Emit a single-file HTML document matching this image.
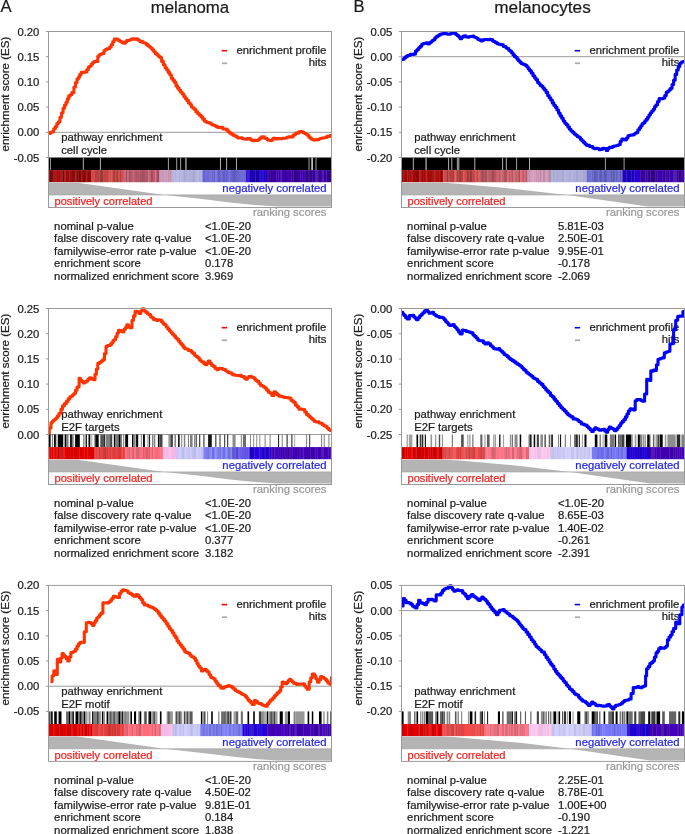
<!DOCTYPE html>
<html><head><meta charset="utf-8"><title>GSEA</title>
<style>html,body{margin:0;padding:0;background:#fff;} body{width:685px;height:834px;position:relative;overflow:hidden;font-family:"Liberation Sans", sans-serif;}</style>
</head><body>
<svg width="685" height="834" viewBox="0 0 685 834" style="position:absolute;left:0;top:0;will-change:transform" font-family="&quot;Liberation Sans&quot;, sans-serif"><text x="0.4" y="12.4" font-size="16.6" fill="#1a1a1a" stroke="#1a1a1a" stroke-width="0.22" text-anchor="start" >A</text><text x="190" y="12.5" font-size="16.8" fill="#1a1a1a" stroke="#1a1a1a" stroke-width="0.22" text-anchor="middle" >melanoma</text><text x="353.4" y="12.4" font-size="16.6" fill="#1a1a1a" stroke="#1a1a1a" stroke-width="0.22" text-anchor="start" >B</text><text x="542.5" y="12.5" font-size="17.2" fill="#1a1a1a" stroke="#1a1a1a" stroke-width="0.22" text-anchor="middle" >melanocytes</text><clipPath id="clipA1"><rect x="48.5" y="28.5" width="283" height="129"/></clipPath>
<text transform="translate(9.1,94.1) rotate(-90)" font-size="11.55" fill="#1a1a1a" stroke="#1a1a1a" stroke-width="0.22" text-anchor="middle">enrichment score (ES)</text>
<text x="39.4" y="35.5" font-size="11.3" fill="#1a1a1a" stroke="#1a1a1a" stroke-width="0.22" text-anchor="end" >0.20</text>
<line x1="45.9" y1="31.5" x2="48.5" y2="31.5" stroke="#9a9a9a" stroke-width="1"/>
<text x="39.4" y="60.7" font-size="11.3" fill="#1a1a1a" stroke="#1a1a1a" stroke-width="0.22" text-anchor="end" >0.15</text>
<line x1="45.9" y1="56.7" x2="48.5" y2="56.7" stroke="#9a9a9a" stroke-width="1"/>
<text x="39.4" y="85.9" font-size="11.3" fill="#1a1a1a" stroke="#1a1a1a" stroke-width="0.22" text-anchor="end" >0.10</text>
<line x1="45.9" y1="81.9" x2="48.5" y2="81.9" stroke="#9a9a9a" stroke-width="1"/>
<text x="39.4" y="111.1" font-size="11.3" fill="#1a1a1a" stroke="#1a1a1a" stroke-width="0.22" text-anchor="end" >0.05</text>
<line x1="45.9" y1="107.1" x2="48.5" y2="107.1" stroke="#9a9a9a" stroke-width="1"/>
<text x="39.4" y="136.3" font-size="11.3" fill="#1a1a1a" stroke="#1a1a1a" stroke-width="0.22" text-anchor="end" >0.00</text>
<line x1="45.9" y1="132.3" x2="48.5" y2="132.3" stroke="#9a9a9a" stroke-width="1"/>
<text x="39.4" y="161.5" font-size="11.3" fill="#1a1a1a" stroke="#1a1a1a" stroke-width="0.22" text-anchor="end" >-0.05</text>
<line x1="45.9" y1="157.5" x2="48.5" y2="157.5" stroke="#9a9a9a" stroke-width="1"/>
<line x1="48.5" y1="132.3" x2="331.5" y2="132.3" stroke="#9a9a9a" stroke-width="1"/>
<line x1="221.7" y1="50.7" x2="227.1" y2="50.7" stroke="#ff0000" stroke-width="1.6"/>
<line x1="221.9" y1="63.3" x2="227.1" y2="63.3" stroke="#aaaaaa" stroke-width="1.7"/>
<text x="326.3" y="53.6" font-size="11.3" fill="#1a1a1a" stroke="#1a1a1a" stroke-width="0.22" text-anchor="end" >enrichment profile</text>
<text x="326.3" y="65.6" font-size="11.3" fill="#1a1a1a" stroke="#1a1a1a" stroke-width="0.22" text-anchor="end" >hits</text>
<text x="61.2" y="141.4" font-size="11.3" fill="#1a1a1a" stroke="#1a1a1a" stroke-width="0.22" text-anchor="start" >pathway enrichment</text>
<text x="61.2" y="153.9" font-size="11.3" fill="#1a1a1a" stroke="#1a1a1a" stroke-width="0.22" text-anchor="start" >cell cycle</text>
<polyline points="48.5,132.3 49,132.3 49,133.34 50.55,133.34 50.55,132.2 52.1,132.2 52.1,131.77 53.7,131.77 53.7,128.74 55.3,128.74 55.3,126.52 56.85,126.52 56.85,123.45 58.4,123.45 58.4,121.68 59.95,121.68 59.95,117.22 61.5,117.22 61.5,112.69 63.05,112.69 63.05,108.31 64.6,108.31 64.6,104.94 65.97,104.94 65.97,102.23 67.33,102.23 67.33,98.9 68.7,98.9 68.7,95.91 70.25,95.91 70.25,94.73 71.8,94.73 71.8,92.59 73.9,92.59 73.9,86.96 75.45,86.96 75.45,82.46 77,82.46 77,78.95 78.4,78.95 78.4,77.1 79.8,77.1 79.8,74.37 81.2,74.37 81.2,72.37 82.57,72.37 82.57,72.54 83.93,72.54 83.93,72.08 85.3,72.08 85.3,71.92 86.85,71.92 86.85,69.52 88.4,69.52 88.4,67.03 89.8,67.03 89.8,66.02 91.2,66.02 91.2,64.14 92.6,64.14 92.6,62.47 93.97,62.47 93.97,61.6 95.33,61.6 95.33,61.24 96.7,61.24 96.7,61.57 97.8,61.57 97.8,56.33 99.17,56.33 99.17,54.8 100.53,54.8 100.53,54.08 101.9,54.08 101.9,53.43 104,53.43 104,50.46 105.37,50.46 105.37,49.52 106.73,49.52 106.73,48.9 108.1,48.9 108.1,48.72 109.65,48.72 109.65,47.06 111.2,47.06 111.2,44.48 112.75,44.48 112.75,41.48 114.3,41.48 114.3,38.94 116.4,38.94 116.4,39.1 117.95,39.1 117.95,40.18 119.5,40.18 119.5,41.11 120.9,41.11 120.9,41.68 122.3,41.68 122.3,42.64 123.7,42.64 123.7,43.22 125.25,43.22 125.25,41.86 126.8,41.86 126.8,40.38 128.17,40.38 128.17,40.37 129.53,40.37 129.53,40.06 130.9,40.06 130.9,39.15 132.63,39.15 132.63,38.91 134.37,38.91 134.37,39.22 136.1,39.22 136.1,38.88 137.47,38.88 137.47,39.63 138.83,39.63 138.83,40.46 140.2,40.46 140.2,41.8 141.6,41.8 141.6,41.66 143,41.66 143,42.79 144.4,42.79 144.4,43.01 146.13,43.01 146.13,44.39 147.87,44.39 147.87,46.05 149.6,46.05 149.6,46.94 150.97,46.94 150.97,48.3 152.33,48.3 152.33,49.83 153.7,49.83 153.7,51.56 155.25,51.56 155.25,53.39 156.8,53.39 156.8,54.84 158.35,54.84 158.35,56.21 159.9,56.21 159.9,57.53 161.63,57.53 161.63,61.38 163.37,61.38 163.37,64.7 165.1,64.7 165.1,67.76 166.65,67.76 166.65,69.91 168.2,69.91 168.2,72.4 169.75,72.4 169.75,74.72 171.3,74.72 171.3,78.19 172.88,78.19 172.88,80.21 174.45,80.21 174.45,82.42 176.03,82.42 176.03,85.89 177.6,85.89 177.6,88.15 179.15,88.15 179.15,90.32 180.7,90.32 180.7,92.19 182.25,92.19 182.25,93.94 183.8,93.94 183.8,96.6 185.35,96.6 185.35,98.6 186.9,98.6 186.9,100.41 188.45,100.41 188.45,102.89 190,102.89 190,104.18 191.37,104.18 191.37,106.69 192.73,106.69 192.73,108.05 194.1,108.05 194.1,109.31 195.83,109.31 195.83,111.77 197.57,111.77 197.57,113.53 199.3,113.53 199.3,115.22 201.03,115.22 201.03,116.91 202.77,116.91 202.77,119.14 204.5,119.14 204.5,121.21 206.05,121.21 206.05,122.09 207.6,122.09 207.6,122.57 209.15,122.57 209.15,123.05 210.7,123.05 210.7,124.04 212.43,124.04 212.43,124.96 214.17,124.96 214.17,125.54 215.9,125.54 215.9,126.58 217.63,126.58 217.63,127.34 219.37,127.34 219.37,127.45 221.1,127.45 221.1,127.39 222.83,127.39 222.83,128.95 224.57,128.95 224.57,129.05 226.3,129.05 226.3,129.9 228.03,129.9 228.03,131.72 229.77,131.72 229.77,133.13 231.5,133.13 231.5,134.26 233.2,134.26 233.2,135.17 234.9,135.17 234.9,136.12 236.6,136.12 236.6,137.06 238.06,137.06 238.06,138.02 239.52,138.02 239.52,138.02 240.98,138.02 240.98,137.84 242.44,137.84 242.44,138.8 243.9,138.8 243.9,138.95 245.63,138.95 245.63,139.17 247.37,139.17 247.37,138.58 249.1,138.58 249.1,138.64 250.65,138.64 250.65,139.83 252.2,139.83 252.2,140.6 253.93,140.6 253.93,140.26 255.67,140.26 255.67,140.56 257.4,140.56 257.4,140.12 258.77,140.12 258.77,139.12 260.13,139.12 260.13,137.92 261.5,137.92 261.5,136.75 262.9,136.75 262.9,136.84 264.3,136.84 264.3,138.32 265.7,138.32 265.7,138.4 267.07,138.4 267.07,139.53 268.43,139.53 268.43,140.25 269.8,140.25 269.8,140.5 271.35,140.5 271.35,139.96 272.9,139.96 272.9,138.28 274.45,138.28 274.45,138.31 276,138.31 276,138.96 277.55,138.96 277.55,138.52 279.1,138.52 279.1,138.7 280.68,138.7 280.68,138.59 282.25,138.59 282.25,138.24 283.82,138.24 283.82,138.3 285.4,138.3 285.4,138.01 286.95,138.01 286.95,137.18 288.5,137.18 288.5,136.75 290.05,136.75 290.05,136.85 291.6,136.85 291.6,137.03 292.97,137.03 292.97,135.17 294.33,135.17 294.33,134.55 295.7,134.55 295.7,133.05 297.25,133.05 297.25,133.15 298.8,133.15 298.8,131.85 300.35,131.85 300.35,131.6 301.9,131.6 301.9,131.77 303.3,131.77 303.3,132.78 304.7,132.78 304.7,133.55 306.1,133.55 306.1,134.26 307.47,134.26 307.47,135.29 308.83,135.29 308.83,137.14 310.2,137.14 310.2,138.2 311.6,138.2 311.6,139.23 313,139.23 313,139.83 314.4,139.83 314.4,139.99 315.95,139.99 315.95,139.51 317.5,139.51 317.5,139.62 319.05,139.62 319.05,138.71 320.6,138.71 320.6,138.27 322.15,138.27 322.15,138.07 323.7,138.07 323.7,137.79 325.25,137.79 325.25,137.43 326.8,137.43 326.8,136.34 328.37,136.34 328.37,136.38 329.93,136.38 329.93,135.51 331.5,135.51 331.5,135.6" fill="none" stroke="#ff3300" stroke-width="3.1" stroke-linejoin="round" stroke-linecap="butt" clip-path="url(#clipA1)"/>
<rect x="48.5" y="157.5" width="283" height="12.6" fill="#000"/>
<rect x="50" y="157.5" width="1" height="12.6" fill="#8a8a8a"/>
<rect x="82.8" y="157.5" width="1" height="12.6" fill="#b0b0b0"/>
<rect x="99.9" y="157.5" width="1" height="12.6" fill="#b0b0b0"/>
<rect x="167.9" y="157.5" width="1" height="12.6" fill="#a0a0a0"/>
<rect x="176.2" y="157.5" width="1" height="12.6" fill="#a0a0a0"/>
<rect x="180.1" y="157.5" width="1" height="12.6" fill="#a0a0a0"/>
<rect x="185.1" y="157.5" width="1.6" height="12.6" fill="#909090"/>
<rect x="220" y="157.5" width="1" height="12.6" fill="#b0b0b0"/>
<rect x="226.1" y="157.5" width="1" height="12.6" fill="#b0b0b0"/>
<rect x="236" y="157.5" width="1" height="12.6" fill="#a8a8a8"/>
<rect x="308.5" y="157.5" width="1" height="12.6" fill="#a0a0a0"/>
<rect x="311.4" y="157.5" width="1.4" height="12.6" fill="#e8e8e8"/>
<rect x="315.5" y="157.5" width="1" height="12.6" fill="#a0a0a0"/>
<rect x="48.5" y="170.1" width="1.1" height="12.1" fill="#800707"/>
<rect x="49.3" y="170.1" width="2.8" height="12.1" fill="#780707"/>
<rect x="51.8" y="170.1" width="1.8" height="12.1" fill="#980808"/>
<rect x="53.3" y="170.1" width="1.1" height="12.1" fill="#780707"/>
<rect x="54.1" y="170.1" width="1.5" height="12.1" fill="#a90909"/>
<rect x="55.3" y="170.1" width="1.1" height="12.1" fill="#810707"/>
<rect x="56.1" y="170.1" width="2.8" height="12.1" fill="#a90909"/>
<rect x="58.6" y="170.1" width="1.8" height="12.1" fill="#a80909"/>
<rect x="60.1" y="170.1" width="1.5" height="12.1" fill="#9e0909"/>
<rect x="61.3" y="170.1" width="1.3" height="12.1" fill="#8b0808"/>
<rect x="62.3" y="170.1" width="2.3" height="12.1" fill="#800707"/>
<rect x="64.3" y="170.1" width="1.3" height="12.1" fill="#930808"/>
<rect x="65.3" y="170.1" width="1.8" height="12.1" fill="#9f0909"/>
<rect x="66.8" y="170.1" width="2.8" height="12.1" fill="#a20909"/>
<rect x="69.3" y="170.1" width="1.8" height="12.1" fill="#a10909"/>
<rect x="70.8" y="170.1" width="1.1" height="12.1" fill="#820707"/>
<rect x="71.6" y="170.1" width="2.8" height="12.1" fill="#8d0808"/>
<rect x="74.1" y="170.1" width="1.5" height="12.1" fill="#7c0707"/>
<rect x="75.3" y="170.1" width="1.5" height="12.1" fill="#a10909"/>
<rect x="76.5" y="170.1" width="2.3" height="12.1" fill="#870707"/>
<rect x="78.5" y="170.1" width="1.8" height="12.1" fill="#7a0707"/>
<rect x="80" y="170.1" width="1.5" height="12.1" fill="#810707"/>
<rect x="81.2" y="170.1" width="2.8" height="12.1" fill="#9d0909"/>
<rect x="83.7" y="170.1" width="1.5" height="12.1" fill="#780707"/>
<rect x="84.9" y="170.1" width="1.8" height="12.1" fill="#9b0909"/>
<rect x="86.4" y="170.1" width="1.5" height="12.1" fill="#8b0808"/>
<rect x="87.6" y="170.1" width="2.8" height="12.1" fill="#940808"/>
<rect x="90.1" y="170.1" width="1.5" height="12.1" fill="#7e0707"/>
<rect x="91.3" y="170.1" width="1.8" height="12.1" fill="#d94a4a"/>
<rect x="92.8" y="170.1" width="1.5" height="12.1" fill="#d34848"/>
<rect x="94" y="170.1" width="1.3" height="12.1" fill="#dd4b4b"/>
<rect x="95" y="170.1" width="1.3" height="12.1" fill="#b53e3e"/>
<rect x="96" y="170.1" width="1.1" height="12.1" fill="#bd4040"/>
<rect x="96.8" y="170.1" width="1.5" height="12.1" fill="#b53e3e"/>
<rect x="98" y="170.1" width="1.8" height="12.1" fill="#bc4040"/>
<rect x="99.5" y="170.1" width="1.8" height="12.1" fill="#a63939"/>
<rect x="101" y="170.1" width="2.8" height="12.1" fill="#a23737"/>
<rect x="103.5" y="170.1" width="2.8" height="12.1" fill="#c24242"/>
<rect x="106" y="170.1" width="2.8" height="12.1" fill="#c74444"/>
<rect x="108.5" y="170.1" width="1.1" height="12.1" fill="#a73939"/>
<rect x="109.3" y="170.1" width="2.3" height="12.1" fill="#d94a4a"/>
<rect x="111.3" y="170.1" width="1.5" height="12.1" fill="#d64949"/>
<rect x="112.5" y="170.1" width="2.8" height="12.1" fill="#af3b3b"/>
<rect x="115" y="170.1" width="1.5" height="12.1" fill="#d04747"/>
<rect x="116.2" y="170.1" width="1.1" height="12.1" fill="#a03636"/>
<rect x="117" y="170.1" width="1.1" height="12.1" fill="#993434"/>
<rect x="117.8" y="170.1" width="1.8" height="12.1" fill="#dd4b4b"/>
<rect x="119.3" y="170.1" width="1.8" height="12.1" fill="#b23d3d"/>
<rect x="120.8" y="170.1" width="1.8" height="12.1" fill="#d84a4a"/>
<rect x="122.3" y="170.1" width="1.5" height="12.1" fill="#b23d3d"/>
<rect x="123.5" y="170.1" width="2.8" height="12.1" fill="#d06378"/>
<rect x="126" y="170.1" width="1.8" height="12.1" fill="#a44e5f"/>
<rect x="127.5" y="170.1" width="1.1" height="12.1" fill="#d9687d"/>
<rect x="128.3" y="170.1" width="2.8" height="12.1" fill="#aa5162"/>
<rect x="130.8" y="170.1" width="2.8" height="12.1" fill="#bc5a6c"/>
<rect x="133.3" y="170.1" width="2.8" height="12.1" fill="#bd5a6d"/>
<rect x="135.8" y="170.1" width="1.1" height="12.1" fill="#9a4958"/>
<rect x="136.6" y="170.1" width="2.8" height="12.1" fill="#b55668"/>
<rect x="139.1" y="170.1" width="2.8" height="12.1" fill="#ac5263"/>
<rect x="141.6" y="170.1" width="1.5" height="12.1" fill="#9b4a59"/>
<rect x="142.8" y="170.1" width="1.1" height="12.1" fill="#a85061"/>
<rect x="143.6" y="170.1" width="1.3" height="12.1" fill="#964856"/>
<rect x="144.6" y="170.1" width="1.3" height="12.1" fill="#a95161"/>
<rect x="145.6" y="170.1" width="2.8" height="12.1" fill="#b15466"/>
<rect x="148.1" y="170.1" width="1.5" height="12.1" fill="#dc697f"/>
<rect x="149.3" y="170.1" width="1.3" height="12.1" fill="#af5465"/>
<rect x="150.3" y="170.1" width="2.8" height="12.1" fill="#a24d5d"/>
<rect x="152.8" y="170.1" width="2.8" height="12.1" fill="#bd5a6d"/>
<rect x="155.3" y="170.1" width="1.1" height="12.1" fill="#d9687d"/>
<rect x="156.1" y="170.1" width="1.1" height="12.1" fill="#bc5a6d"/>
<rect x="156.9" y="170.1" width="2.8" height="12.1" fill="#9d4b5a"/>
<rect x="159.4" y="170.1" width="1.8" height="12.1" fill="#c898b8"/>
<rect x="160.9" y="170.1" width="1.1" height="12.1" fill="#d09ebf"/>
<rect x="161.7" y="170.1" width="2.3" height="12.1" fill="#c898b8"/>
<rect x="163.7" y="170.1" width="2.8" height="12.1" fill="#cf9dbe"/>
<rect x="166.2" y="170.1" width="1.1" height="12.1" fill="#be91af"/>
<rect x="167" y="170.1" width="1.3" height="12.1" fill="#d29fc1"/>
<rect x="168" y="170.1" width="1.5" height="12.1" fill="#c092b0"/>
<rect x="169.2" y="170.1" width="2.3" height="12.1" fill="#c092b0"/>
<rect x="171.2" y="170.1" width="1.5" height="12.1" fill="#c495b4"/>
<rect x="172.4" y="170.1" width="2.3" height="12.1" fill="#b4b4e2"/>
<rect x="174.4" y="170.1" width="2.3" height="12.1" fill="#b3b3e0"/>
<rect x="176.4" y="170.1" width="1.3" height="12.1" fill="#b1b1de"/>
<rect x="177.4" y="170.1" width="1.3" height="12.1" fill="#b2b2df"/>
<rect x="178.4" y="170.1" width="2.3" height="12.1" fill="#b0b0de"/>
<rect x="180.4" y="170.1" width="2.8" height="12.1" fill="#b5b5e3"/>
<rect x="182.9" y="170.1" width="1.5" height="12.1" fill="#b0b0dd"/>
<rect x="184.1" y="170.1" width="1.8" height="12.1" fill="#a4a4ce"/>
<rect x="185.6" y="170.1" width="2.8" height="12.1" fill="#b0b0dd"/>
<rect x="188.1" y="170.1" width="2.8" height="12.1" fill="#aeaeda"/>
<rect x="190.6" y="170.1" width="1.3" height="12.1" fill="#a8a8d3"/>
<rect x="191.6" y="170.1" width="1.5" height="12.1" fill="#adadd9"/>
<rect x="192.8" y="170.1" width="2.8" height="12.1" fill="#a6a6d0"/>
<rect x="195.3" y="170.1" width="1.1" height="12.1" fill="#aaaad6"/>
<rect x="196.1" y="170.1" width="1.5" height="12.1" fill="#adadd9"/>
<rect x="197.3" y="170.1" width="1.5" height="12.1" fill="#b3b3e0"/>
<rect x="198.5" y="170.1" width="1.8" height="12.1" fill="#aeaeda"/>
<rect x="200" y="170.1" width="2.8" height="12.1" fill="#b1b1df"/>
<rect x="202.5" y="170.1" width="2.8" height="12.1" fill="#6763ce"/>
<rect x="205" y="170.1" width="2.3" height="12.1" fill="#706bdf"/>
<rect x="207" y="170.1" width="2.8" height="12.1" fill="#6d68d9"/>
<rect x="209.5" y="170.1" width="1.3" height="12.1" fill="#6763cd"/>
<rect x="210.5" y="170.1" width="1.1" height="12.1" fill="#6864d0"/>
<rect x="211.3" y="170.1" width="2.3" height="12.1" fill="#6763cf"/>
<rect x="213.3" y="170.1" width="2.3" height="12.1" fill="#635fc6"/>
<rect x="215.3" y="170.1" width="1.5" height="12.1" fill="#736ee5"/>
<rect x="216.5" y="170.1" width="1.8" height="12.1" fill="#6c68d8"/>
<rect x="218" y="170.1" width="2.3" height="12.1" fill="#625ec3"/>
<rect x="220" y="170.1" width="1.8" height="12.1" fill="#6b67d6"/>
<rect x="221.5" y="170.1" width="1.1" height="12.1" fill="#605cc0"/>
<rect x="222.3" y="170.1" width="2.8" height="12.1" fill="#5f5bbd"/>
<rect x="224.8" y="170.1" width="1.5" height="12.1" fill="#6e69db"/>
<rect x="226" y="170.1" width="1.1" height="12.1" fill="#5f5bbd"/>
<rect x="226.8" y="170.1" width="2.8" height="12.1" fill="#6d69db"/>
<rect x="229.3" y="170.1" width="2.8" height="12.1" fill="#6b67d7"/>
<rect x="231.8" y="170.1" width="2.3" height="12.1" fill="#625ec3"/>
<rect x="233.8" y="170.1" width="1.5" height="12.1" fill="#5c59b8"/>
<rect x="235" y="170.1" width="2.3" height="12.1" fill="#6460c8"/>
<rect x="237" y="170.1" width="1.1" height="12.1" fill="#6b67d6"/>
<rect x="237.8" y="170.1" width="1.1" height="12.1" fill="#615ec3"/>
<rect x="238.6" y="170.1" width="2.8" height="12.1" fill="#6b67d5"/>
<rect x="241.1" y="170.1" width="1.1" height="12.1" fill="#6d69da"/>
<rect x="241.9" y="170.1" width="1.5" height="12.1" fill="#6c68d8"/>
<rect x="243.1" y="170.1" width="2.3" height="12.1" fill="#6a66d5"/>
<rect x="245.1" y="170.1" width="1.3" height="12.1" fill="#6460c8"/>
<rect x="246.1" y="170.1" width="1.5" height="12.1" fill="#2300d9"/>
<rect x="247.3" y="170.1" width="1.3" height="12.1" fill="#2500e5"/>
<rect x="248.3" y="170.1" width="1.5" height="12.1" fill="#2300d3"/>
<rect x="249.5" y="170.1" width="1.8" height="12.1" fill="#1b00a2"/>
<rect x="251" y="170.1" width="1.3" height="12.1" fill="#1f00c0"/>
<rect x="252" y="170.1" width="1.1" height="12.1" fill="#1d00b2"/>
<rect x="252.8" y="170.1" width="2.8" height="12.1" fill="#1e00b6"/>
<rect x="255.3" y="170.1" width="2.8" height="12.1" fill="#1b00a3"/>
<rect x="257.8" y="170.1" width="1.3" height="12.1" fill="#1a009e"/>
<rect x="258.8" y="170.1" width="1.1" height="12.1" fill="#1c00ae"/>
<rect x="259.6" y="170.1" width="1.3" height="12.1" fill="#2200cf"/>
<rect x="260.6" y="170.1" width="2.3" height="12.1" fill="#2500e4"/>
<rect x="262.6" y="170.1" width="1.3" height="12.1" fill="#2300d8"/>
<rect x="263.6" y="170.1" width="2.3" height="12.1" fill="#1f00bd"/>
<rect x="265.6" y="170.1" width="1.8" height="12.1" fill="#1b00a5"/>
<rect x="267.1" y="170.1" width="1.3" height="12.1" fill="#2000c5"/>
<rect x="268.1" y="170.1" width="2.8" height="12.1" fill="#3c00a1"/>
<rect x="270.6" y="170.1" width="1.5" height="12.1" fill="#310082"/>
<rect x="271.8" y="170.1" width="2.3" height="12.1" fill="#3f00a8"/>
<rect x="273.8" y="170.1" width="1.5" height="12.1" fill="#380094"/>
<rect x="275" y="170.1" width="1.5" height="12.1" fill="#3c00a1"/>
<rect x="276.2" y="170.1" width="2.3" height="12.1" fill="#3e00a5"/>
<rect x="278.2" y="170.1" width="2.3" height="12.1" fill="#4100ad"/>
<rect x="280.2" y="170.1" width="1.5" height="12.1" fill="#3e00a4"/>
<rect x="281.4" y="170.1" width="1.8" height="12.1" fill="#4600ba"/>
<rect x="282.9" y="170.1" width="1.1" height="12.1" fill="#3b009d"/>
<rect x="283.7" y="170.1" width="1.3" height="12.1" fill="#4000aa"/>
<rect x="284.7" y="170.1" width="1.3" height="12.1" fill="#370093"/>
<rect x="285.7" y="170.1" width="1.3" height="12.1" fill="#390098"/>
<rect x="286.7" y="170.1" width="2.3" height="12.1" fill="#4500b7"/>
<rect x="288.7" y="170.1" width="2.8" height="12.1" fill="#4000a9"/>
<rect x="291.2" y="170.1" width="1.1" height="12.1" fill="#4000aa"/>
<rect x="292" y="170.1" width="1.5" height="12.1" fill="#370093"/>
<rect x="293.2" y="170.1" width="1.8" height="12.1" fill="#330088"/>
<rect x="294.7" y="170.1" width="1.5" height="12.1" fill="#320084"/>
<rect x="295.9" y="170.1" width="1.1" height="12.1" fill="#3e00a5"/>
<rect x="296.7" y="170.1" width="1.5" height="12.1" fill="#34008b"/>
<rect x="297.9" y="170.1" width="1.3" height="12.1" fill="#3a009b"/>
<rect x="298.9" y="170.1" width="1.5" height="12.1" fill="#3c00a0"/>
<rect x="300.1" y="170.1" width="2.3" height="12.1" fill="#4300b4"/>
<rect x="302.1" y="170.1" width="2.8" height="12.1" fill="#4100af"/>
<rect x="304.6" y="170.1" width="1.3" height="12.1" fill="#330088"/>
<rect x="305.6" y="170.1" width="2.8" height="12.1" fill="#360091"/>
<rect x="308.1" y="170.1" width="1.8" height="12.1" fill="#360091"/>
<rect x="309.6" y="170.1" width="2.8" height="12.1" fill="#34008c"/>
<rect x="312.1" y="170.1" width="1.1" height="12.1" fill="#4200b0"/>
<rect x="312.9" y="170.1" width="2.8" height="12.1" fill="#35008c"/>
<rect x="315.4" y="170.1" width="1.3" height="12.1" fill="#4700bf"/>
<rect x="316.4" y="170.1" width="1.3" height="12.1" fill="#4200b1"/>
<rect x="317.4" y="170.1" width="1.1" height="12.1" fill="#34008c"/>
<rect x="318.2" y="170.1" width="1.1" height="12.1" fill="#320085"/>
<rect x="319" y="170.1" width="1.3" height="12.1" fill="#380095"/>
<rect x="320" y="170.1" width="1.3" height="12.1" fill="#380095"/>
<rect x="321" y="170.1" width="1.8" height="12.1" fill="#4600b9"/>
<rect x="322.5" y="170.1" width="1.3" height="12.1" fill="#4600bc"/>
<rect x="323.5" y="170.1" width="1.8" height="12.1" fill="#330089"/>
<rect x="325" y="170.1" width="1.5" height="12.1" fill="#360091"/>
<rect x="326.2" y="170.1" width="1.1" height="12.1" fill="#4300b2"/>
<rect x="327" y="170.1" width="1.3" height="12.1" fill="#310084"/>
<rect x="328" y="170.1" width="2.3" height="12.1" fill="#35008c"/>
<rect x="330" y="170.1" width="1.8" height="12.1" fill="#380095"/>
<polygon points="48.5,194.9 48.5,182.7 77.5,182.7 164.5,194.9 200,198.8 232,202.7 255,205.1 278,206.5 331.5,206.5 331.5,194.9" fill="#b4b4b4"/>
<line x1="48.5" y1="194.9" x2="331.5" y2="194.9" stroke="#a8a8a8" stroke-width="0.8"/>
<text x="326.6" y="192" font-size="11.3" fill="#2222ee" stroke="#2222ee" stroke-width="0.22" text-anchor="end" >negatively correlated</text>
<text x="54.5" y="204.9" font-size="11.1" fill="#f41c1c" stroke="#f41c1c" stroke-width="0.22" text-anchor="start" >positively correlated</text>
<text x="326.4" y="216.4" font-size="11.3" fill="#999999" stroke="#999999" stroke-width="0.22" text-anchor="end" >ranking scores</text>
<rect x="48.5" y="31.5" width="283" height="176" fill="none" stroke="#9a9a9a" stroke-width="1"/>
<text x="54.1" y="229.9" font-size="11.3" fill="#1a1a1a" stroke="#1a1a1a" stroke-width="0.22" text-anchor="start" >nominal p-value</text>
<text x="204.9" y="229.9" font-size="11.3" fill="#1a1a1a" stroke="#1a1a1a" stroke-width="0.22" text-anchor="start" >&lt;1.0E-20</text>
<text x="54.1" y="242.35" font-size="11.3" fill="#1a1a1a" stroke="#1a1a1a" stroke-width="0.22" text-anchor="start" >false discovery rate q-value</text>
<text x="204.9" y="242.35" font-size="11.3" fill="#1a1a1a" stroke="#1a1a1a" stroke-width="0.22" text-anchor="start" >&lt;1.0E-20</text>
<text x="54.1" y="254.8" font-size="11.3" fill="#1a1a1a" stroke="#1a1a1a" stroke-width="0.22" text-anchor="start" >familywise-error rate p-value</text>
<text x="204.9" y="254.8" font-size="11.3" fill="#1a1a1a" stroke="#1a1a1a" stroke-width="0.22" text-anchor="start" >&lt;1.0E-20</text>
<text x="54.1" y="267.25" font-size="11.3" fill="#1a1a1a" stroke="#1a1a1a" stroke-width="0.22" text-anchor="start" >enrichment score</text>
<text x="204.9" y="267.25" font-size="11.3" fill="#1a1a1a" stroke="#1a1a1a" stroke-width="0.22" text-anchor="start" >0.178</text>
<text x="54.1" y="279.7" font-size="11.3" fill="#1a1a1a" stroke="#1a1a1a" stroke-width="0.22" text-anchor="start" >normalized enrichment score</text>
<text x="204.9" y="279.7" font-size="11.3" fill="#1a1a1a" stroke="#1a1a1a" stroke-width="0.22" text-anchor="start" >3.969</text><clipPath id="clipB1"><rect x="401.5" y="28.5" width="283" height="129"/></clipPath>
<text transform="translate(362.1,94.1) rotate(-90)" font-size="11.55" fill="#1a1a1a" stroke="#1a1a1a" stroke-width="0.22" text-anchor="middle">enrichment score (ES)</text>
<text x="392.4" y="35.5" font-size="11.3" fill="#1a1a1a" stroke="#1a1a1a" stroke-width="0.22" text-anchor="end" >0.05</text>
<line x1="398.9" y1="31.5" x2="401.5" y2="31.5" stroke="#9a9a9a" stroke-width="1"/>
<text x="392.4" y="60.7" font-size="11.3" fill="#1a1a1a" stroke="#1a1a1a" stroke-width="0.22" text-anchor="end" >0.00</text>
<line x1="398.9" y1="56.7" x2="401.5" y2="56.7" stroke="#9a9a9a" stroke-width="1"/>
<text x="392.4" y="85.9" font-size="11.3" fill="#1a1a1a" stroke="#1a1a1a" stroke-width="0.22" text-anchor="end" >-0.05</text>
<line x1="398.9" y1="81.9" x2="401.5" y2="81.9" stroke="#9a9a9a" stroke-width="1"/>
<text x="392.4" y="111.1" font-size="11.3" fill="#1a1a1a" stroke="#1a1a1a" stroke-width="0.22" text-anchor="end" >-0.10</text>
<line x1="398.9" y1="107.1" x2="401.5" y2="107.1" stroke="#9a9a9a" stroke-width="1"/>
<text x="392.4" y="136.3" font-size="11.3" fill="#1a1a1a" stroke="#1a1a1a" stroke-width="0.22" text-anchor="end" >-0.15</text>
<line x1="398.9" y1="132.3" x2="401.5" y2="132.3" stroke="#9a9a9a" stroke-width="1"/>
<text x="392.4" y="161.5" font-size="11.3" fill="#1a1a1a" stroke="#1a1a1a" stroke-width="0.22" text-anchor="end" >-0.20</text>
<line x1="398.9" y1="157.5" x2="401.5" y2="157.5" stroke="#9a9a9a" stroke-width="1"/>
<line x1="401.5" y1="56.7" x2="684.5" y2="56.7" stroke="#9a9a9a" stroke-width="1"/>
<line x1="574.7" y1="50.7" x2="580.1" y2="50.7" stroke="#0000ff" stroke-width="1.6"/>
<line x1="574.9" y1="63.3" x2="580.1" y2="63.3" stroke="#aaaaaa" stroke-width="1.7"/>
<text x="679.3" y="53.6" font-size="11.3" fill="#1a1a1a" stroke="#1a1a1a" stroke-width="0.22" text-anchor="end" >enrichment profile</text>
<text x="679.3" y="65.6" font-size="11.3" fill="#1a1a1a" stroke="#1a1a1a" stroke-width="0.22" text-anchor="end" >hits</text>
<text x="414.2" y="141.4" font-size="11.3" fill="#1a1a1a" stroke="#1a1a1a" stroke-width="0.22" text-anchor="start" >pathway enrichment</text>
<text x="414.2" y="153.9" font-size="11.3" fill="#1a1a1a" stroke="#1a1a1a" stroke-width="0.22" text-anchor="start" >cell cycle</text>
<polyline points="401.5,59.5 402.8,59.5 402.8,59.2 404.1,59.2 404.1,57.8 405.65,57.8 405.65,56.66 407.2,56.66 407.2,55.61 408.75,55.61 408.75,55.2 410.3,55.2 410.3,54.26 411.85,54.26 411.85,54.39 413.4,54.39 413.4,54.08 415.5,54.08 415.5,50.94 417.05,50.94 417.05,49.44 418.6,49.44 418.6,47.68 420.15,47.68 420.15,46.2 421.7,46.2 421.7,44.24 423.1,44.24 423.1,43.44 424.5,43.44 424.5,43.57 425.9,43.57 425.9,42.8 428,42.8 428,43.96 429.37,43.96 429.37,42.87 430.73,42.87 430.73,41.85 432.1,41.85 432.1,40.57 433.47,40.57 433.47,39.74 434.83,39.74 434.83,37.86 436.2,37.86 436.2,36.67 437.6,36.67 437.6,35.75 439,35.75 439,34.92 440.4,34.92 440.4,33.93 441.77,33.93 441.77,33.9 443.13,33.9 443.13,33.33 444.5,33.33 444.5,33.41 446.05,33.41 446.05,33.73 447.6,33.73 447.6,34.31 449,34.31 449,34.14 450.4,34.14 450.4,33.52 451.8,33.52 451.8,32.81 453.17,32.81 453.17,33.23 454.53,33.23 454.53,33.4 455.9,33.4 455.9,34.54 457.3,34.54 457.3,35.51 458.7,35.51 458.7,36.87 460.1,36.87 460.1,38.76 461.65,38.76 461.65,37.13 463.2,37.13 463.2,36.1 464.57,36.1 464.57,35.85 465.93,35.85 465.93,36.69 467.3,36.69 467.3,37.15 469.03,37.15 469.03,36.55 470.77,36.55 470.77,36.51 472.5,36.51 472.5,35.97 473.9,35.97 473.9,36.95 475.3,36.95 475.3,37.51 476.7,37.51 476.7,38.21 478.07,38.21 478.07,39.5 479.43,39.5 479.43,39.88 480.8,39.88 480.8,40.83 482.53,40.83 482.53,39.9 484.27,39.9 484.27,39.49 486,39.49 486,39.44 487.73,39.44 487.73,39.69 489.47,39.69 489.47,39.36 491.2,39.36 491.2,39.58 492.57,39.58 492.57,41.07 493.93,41.07 493.93,41.46 495.3,41.46 495.3,42.54 497.03,42.54 497.03,43.78 498.77,43.78 498.77,44.22 500.5,44.22 500.5,44.6 501.9,44.6 501.9,44.82 503.3,44.82 503.3,46.34 504.7,46.34 504.7,46.58 506.07,46.58 506.07,48.04 507.43,48.04 507.43,48.56 508.8,48.56 508.8,50.25 510.17,50.25 510.17,51.17 511.53,51.17 511.53,52.76 512.9,52.76 512.9,54.59 514.3,54.59 514.3,56.4 515.7,56.4 515.7,57.27 517.1,57.27 517.1,59.27 518.47,59.27 518.47,60.79 519.83,60.79 519.83,62.14 521.2,62.14 521.2,63.54 522.6,63.54 522.6,64.08 524,64.08 524,64.61 525.4,64.61 525.4,65.33 526.77,65.33 526.77,66.8 528.13,66.8 528.13,68.81 529.5,68.81 529.5,70.59 531.23,70.59 531.23,72.93 532.97,72.93 532.97,75.76 534.7,75.76 534.7,78.09 536.1,78.09 536.1,79.67 537.5,79.67 537.5,82.33 538.9,82.33 538.9,83.83 540.27,83.83 540.27,85.38 541.63,85.38 541.63,86.34 543,86.34 543,88.28 544.55,88.28 544.55,89.98 546.1,89.98 546.1,92.4 547.65,92.4 547.65,95.45 549.2,95.45 549.2,97.82 550.75,97.82 550.75,100.02 552.3,100.02 552.3,102.9 553.85,102.9 553.85,105.19 555.4,105.19 555.4,107.33 556.98,107.33 556.98,110.04 558.55,110.04 558.55,113.11 560.12,113.11 560.12,115.9 561.7,115.9 561.7,118.19 563.25,118.19 563.25,120.96 564.8,120.96 564.8,123.27 566.35,123.27 566.35,124.7 567.9,124.7 567.9,127.09 569.45,127.09 569.45,129.22 571,129.22 571,131.04 572.55,131.04 572.55,132.23 574.1,132.23 574.1,133.96 575.65,133.96 575.65,135.1 577.2,135.1 577.2,136.45 578.75,136.45 578.75,137.18 580.3,137.18 580.3,139.24 581.85,139.24 581.85,140.77 583.4,140.77 583.4,142.35 584.95,142.35 584.95,144.02 586.5,144.02 586.5,145.33 588.08,145.33 588.08,145.4 589.65,145.4 589.65,146.53 591.22,146.53 591.22,146.64 592.8,146.64 592.8,148.04 594.35,148.04 594.35,148.62 595.9,148.62 595.9,148.28 597.45,148.28 597.45,148.54 599,148.54 599,149.62 600.73,149.62 600.73,149.34 602.47,149.34 602.47,148.31 604.2,148.31 604.2,148.52 606.2,148.52 606.2,150.54 607.75,150.54 607.75,148.33 609.3,148.33 609.3,147.31 610.88,147.31 610.88,147.42 612.45,147.42 612.45,146.57 614.02,146.57 614.02,145.96 615.6,145.96 615.6,145.71 617.15,145.71 617.15,145.29 618.7,145.29 618.7,144.56 620.25,144.56 620.25,141.19 621.8,141.19 621.8,139.06 623.35,139.06 623.35,139.42 624.9,139.42 624.9,139.87 626.45,139.87 626.45,138 628,138 628,135.71 629.37,135.71 629.37,135.3 630.73,135.3 630.73,135.09 632.1,135.09 632.1,135.05 633.5,135.05 633.5,134.21 634.9,134.21 634.9,133.19 636.3,133.19 636.3,132.55 637.85,132.55 637.85,129.68 639.4,129.68 639.4,127.84 640.77,127.84 640.77,125.71 642.13,125.71 642.13,123.67 643.5,123.67 643.5,122.74 644.9,122.74 644.9,120.68 646.3,120.68 646.3,119.16 647.7,119.16 647.7,117.01 649.07,117.01 649.07,114.77 650.43,114.77 650.43,112.69 651.8,112.69 651.8,111.04 653.2,111.04 653.2,109.29 654.6,109.29 654.6,106.56 656,106.56 656,104.69 657.55,104.69 657.55,101.58 659.1,101.58 659.1,98.6 660.47,98.6 660.47,98.82 661.83,98.82 661.83,98.63 663.2,98.63 663.2,98.01 664.75,98.01 664.75,95.58 666.3,95.58 666.3,92.25 667.7,92.25 667.7,91.32 669.1,91.32 669.1,89.82 670.5,89.82 670.5,88.37 672.05,88.37 672.05,84.44 673.6,84.44 673.6,80.16 675.15,80.16 675.15,74.39 676.7,74.39 676.7,69.95 678.25,69.95 678.25,66.45 679.8,66.45 679.8,63.24 681.37,63.24 681.37,62 682.93,62 682.93,61.46 684.5,61.46 684.5,60.1" fill="none" stroke="#0000ff" stroke-width="3.1" stroke-linejoin="round" stroke-linecap="butt" clip-path="url(#clipB1)"/>
<rect x="401.5" y="157.5" width="283" height="12.6" fill="#000"/>
<rect x="412.8" y="157.5" width="1" height="12.6" fill="#b0b0b0"/>
<rect x="425.3" y="157.5" width="1.6" height="12.6" fill="#8a8a8a"/>
<rect x="448.1" y="157.5" width="1" height="12.6" fill="#b0b0b0"/>
<rect x="451.3" y="157.5" width="1" height="12.6" fill="#b0b0b0"/>
<rect x="456.8" y="157.5" width="2.6" height="12.6" fill="#8a8a8a"/>
<rect x="474.3" y="157.5" width="1" height="12.6" fill="#b0b0b0"/>
<rect x="502.1" y="157.5" width="1" height="12.6" fill="#b0b0b0"/>
<rect x="505.8" y="157.5" width="1" height="12.6" fill="#b0b0b0"/>
<rect x="516.1" y="157.5" width="1" height="12.6" fill="#a0a0a0"/>
<rect x="529" y="157.5" width="1" height="12.6" fill="#b0b0b0"/>
<rect x="604.9" y="157.5" width="1" height="12.6" fill="#a0a0a0"/>
<rect x="623.6" y="157.5" width="1" height="12.6" fill="#a0a0a0"/>
<rect x="401.5" y="170.1" width="1.5" height="12.1" fill="#a70a0a"/>
<rect x="402.7" y="170.1" width="1.1" height="12.1" fill="#8d0909"/>
<rect x="403.5" y="170.1" width="2.8" height="12.1" fill="#9f0a0a"/>
<rect x="406" y="170.1" width="1.5" height="12.1" fill="#a10a0a"/>
<rect x="407.2" y="170.1" width="1.1" height="12.1" fill="#a90b0b"/>
<rect x="408" y="170.1" width="1.5" height="12.1" fill="#a90b0b"/>
<rect x="409.2" y="170.1" width="1.1" height="12.1" fill="#8c0909"/>
<rect x="410" y="170.1" width="2.8" height="12.1" fill="#b80c0c"/>
<rect x="412.5" y="170.1" width="2.8" height="12.1" fill="#950909"/>
<rect x="415" y="170.1" width="1.1" height="12.1" fill="#a60a0a"/>
<rect x="415.8" y="170.1" width="2.3" height="12.1" fill="#8f0909"/>
<rect x="417.8" y="170.1" width="1.8" height="12.1" fill="#8b0909"/>
<rect x="419.3" y="170.1" width="1.5" height="12.1" fill="#ba0c0c"/>
<rect x="420.5" y="170.1" width="1.8" height="12.1" fill="#b60b0b"/>
<rect x="422" y="170.1" width="1.1" height="12.1" fill="#970909"/>
<rect x="422.8" y="170.1" width="1.1" height="12.1" fill="#a40a0a"/>
<rect x="423.6" y="170.1" width="1.8" height="12.1" fill="#9d0a0a"/>
<rect x="425.1" y="170.1" width="1.5" height="12.1" fill="#a50a0a"/>
<rect x="426.3" y="170.1" width="1.8" height="12.1" fill="#b80b0b"/>
<rect x="427.8" y="170.1" width="1.3" height="12.1" fill="#a50a0a"/>
<rect x="428.8" y="170.1" width="2.3" height="12.1" fill="#a40a0a"/>
<rect x="430.8" y="170.1" width="1.5" height="12.1" fill="#a80a0a"/>
<rect x="432" y="170.1" width="1.5" height="12.1" fill="#b80c0c"/>
<rect x="433.2" y="170.1" width="1.5" height="12.1" fill="#8b0909"/>
<rect x="434.4" y="170.1" width="1.5" height="12.1" fill="#b40b0b"/>
<rect x="435.6" y="170.1" width="1.3" height="12.1" fill="#8f0909"/>
<rect x="436.6" y="170.1" width="2.8" height="12.1" fill="#b30b0b"/>
<rect x="439.1" y="170.1" width="1.1" height="12.1" fill="#b00b0b"/>
<rect x="439.9" y="170.1" width="1.1" height="12.1" fill="#bf0c0c"/>
<rect x="440.7" y="170.1" width="2.3" height="12.1" fill="#830808"/>
<rect x="442.7" y="170.1" width="1.1" height="12.1" fill="#c14343"/>
<rect x="443.5" y="170.1" width="1.8" height="12.1" fill="#d84b4b"/>
<rect x="445" y="170.1" width="1.8" height="12.1" fill="#cd4747"/>
<rect x="446.5" y="170.1" width="1.5" height="12.1" fill="#9f3737"/>
<rect x="447.7" y="170.1" width="1.1" height="12.1" fill="#a73a3a"/>
<rect x="448.5" y="170.1" width="1.8" height="12.1" fill="#c34444"/>
<rect x="450" y="170.1" width="2.3" height="12.1" fill="#b63f3f"/>
<rect x="452" y="170.1" width="1.1" height="12.1" fill="#bc4141"/>
<rect x="452.8" y="170.1" width="1.8" height="12.1" fill="#ac3c3c"/>
<rect x="454.3" y="170.1" width="1.3" height="12.1" fill="#d34949"/>
<rect x="455.3" y="170.1" width="1.3" height="12.1" fill="#e95151"/>
<rect x="456.3" y="170.1" width="2.3" height="12.1" fill="#ac3c3c"/>
<rect x="458.3" y="170.1" width="2.8" height="12.1" fill="#a53939"/>
<rect x="460.8" y="170.1" width="2.8" height="12.1" fill="#b84040"/>
<rect x="463.3" y="170.1" width="1.8" height="12.1" fill="#e14e4e"/>
<rect x="464.8" y="170.1" width="1.8" height="12.1" fill="#d04848"/>
<rect x="466.3" y="170.1" width="2.8" height="12.1" fill="#a63a3a"/>
<rect x="468.8" y="170.1" width="1.1" height="12.1" fill="#c64545"/>
<rect x="469.6" y="170.1" width="2.8" height="12.1" fill="#9e3737"/>
<rect x="472.1" y="170.1" width="2.3" height="12.1" fill="#c14343"/>
<rect x="474.1" y="170.1" width="1.3" height="12.1" fill="#bd4242"/>
<rect x="475.1" y="170.1" width="1.5" height="12.1" fill="#e75050"/>
<rect x="476.3" y="170.1" width="1.1" height="12.1" fill="#bd4141"/>
<rect x="477.1" y="170.1" width="1.5" height="12.1" fill="#ae3c3c"/>
<rect x="478.3" y="170.1" width="1.5" height="12.1" fill="#eb5151"/>
<rect x="479.5" y="170.1" width="1.3" height="12.1" fill="#c74545"/>
<rect x="480.5" y="170.1" width="1.5" height="12.1" fill="#b5555e"/>
<rect x="481.7" y="170.1" width="2.8" height="12.1" fill="#a54d56"/>
<rect x="484.2" y="170.1" width="2.8" height="12.1" fill="#a64e56"/>
<rect x="486.7" y="170.1" width="1.1" height="12.1" fill="#b4545e"/>
<rect x="487.5" y="170.1" width="1.3" height="12.1" fill="#cb5f6a"/>
<rect x="488.5" y="170.1" width="1.3" height="12.1" fill="#98474f"/>
<rect x="489.5" y="170.1" width="2.8" height="12.1" fill="#b95760"/>
<rect x="492" y="170.1" width="2.3" height="12.1" fill="#a04b53"/>
<rect x="494" y="170.1" width="2.3" height="12.1" fill="#b6555f"/>
<rect x="496" y="170.1" width="1.8" height="12.1" fill="#cc5f6a"/>
<rect x="497.5" y="170.1" width="1.3" height="12.1" fill="#b4545e"/>
<rect x="498.5" y="170.1" width="1.5" height="12.1" fill="#c75d67"/>
<rect x="499.7" y="170.1" width="1.1" height="12.1" fill="#a54d56"/>
<rect x="500.5" y="170.1" width="1.1" height="12.1" fill="#d1626d"/>
<rect x="501.3" y="170.1" width="2.3" height="12.1" fill="#cd606b"/>
<rect x="503.3" y="170.1" width="2.8" height="12.1" fill="#ad515a"/>
<rect x="505.8" y="170.1" width="1.8" height="12.1" fill="#b2535d"/>
<rect x="507.3" y="170.1" width="1.5" height="12.1" fill="#ca5e69"/>
<rect x="508.5" y="170.1" width="1.5" height="12.1" fill="#d0616c"/>
<rect x="509.7" y="170.1" width="1.1" height="12.1" fill="#98474f"/>
<rect x="510.5" y="170.1" width="1.5" height="12.1" fill="#e16975"/>
<rect x="511.7" y="170.1" width="1.3" height="12.1" fill="#a64e57"/>
<rect x="512.7" y="170.1" width="1.1" height="12.1" fill="#df6974"/>
<rect x="513.5" y="170.1" width="1.1" height="12.1" fill="#c35b65"/>
<rect x="514.3" y="170.1" width="1.1" height="12.1" fill="#cb5f6a"/>
<rect x="515.1" y="170.1" width="2.8" height="12.1" fill="#c45c66"/>
<rect x="517.6" y="170.1" width="1.3" height="12.1" fill="#d1626d"/>
<rect x="518.6" y="170.1" width="1.8" height="12.1" fill="#a14b54"/>
<rect x="520.1" y="170.1" width="1.8" height="12.1" fill="#e16a75"/>
<rect x="521.6" y="170.1" width="1.8" height="12.1" fill="#ce606b"/>
<rect x="523.1" y="170.1" width="1.5" height="12.1" fill="#b3545d"/>
<rect x="524.3" y="170.1" width="1.8" height="12.1" fill="#d1626d"/>
<rect x="525.8" y="170.1" width="1.5" height="12.1" fill="#c35b65"/>
<rect x="527" y="170.1" width="1.5" height="12.1" fill="#c08aa9"/>
<rect x="528.2" y="170.1" width="2.3" height="12.1" fill="#c48dac"/>
<rect x="530.2" y="170.1" width="1.1" height="12.1" fill="#c991b1"/>
<rect x="531" y="170.1" width="2.8" height="12.1" fill="#da9dc0"/>
<rect x="533.5" y="170.1" width="2.3" height="12.1" fill="#d599bb"/>
<rect x="535.5" y="170.1" width="2.3" height="12.1" fill="#cb92b2"/>
<rect x="537.5" y="170.1" width="1.5" height="12.1" fill="#c68fae"/>
<rect x="538.7" y="170.1" width="1.5" height="12.1" fill="#d89cbe"/>
<rect x="539.9" y="170.1" width="1.8" height="12.1" fill="#ba86a4"/>
<rect x="541.4" y="170.1" width="1.1" height="12.1" fill="#c790b0"/>
<rect x="542.2" y="170.1" width="1.1" height="12.1" fill="#d69abc"/>
<rect x="543" y="170.1" width="1.1" height="12.1" fill="#bd88a6"/>
<rect x="543.8" y="170.1" width="1.5" height="12.1" fill="#be89a7"/>
<rect x="545" y="170.1" width="1.5" height="12.1" fill="#d398b9"/>
<rect x="546.2" y="170.1" width="2.3" height="12.1" fill="#d197b8"/>
<rect x="548.2" y="170.1" width="2.8" height="12.1" fill="#b885a2"/>
<rect x="550.7" y="170.1" width="1.1" height="12.1" fill="#a6a6d1"/>
<rect x="551.5" y="170.1" width="1.3" height="12.1" fill="#aeaedb"/>
<rect x="552.5" y="170.1" width="1.8" height="12.1" fill="#a9a9d4"/>
<rect x="554" y="170.1" width="1.5" height="12.1" fill="#adadd9"/>
<rect x="555.2" y="170.1" width="1.3" height="12.1" fill="#a9a9d4"/>
<rect x="556.2" y="170.1" width="1.8" height="12.1" fill="#a6a6d1"/>
<rect x="557.7" y="170.1" width="1.3" height="12.1" fill="#aeaeda"/>
<rect x="558.7" y="170.1" width="2.3" height="12.1" fill="#afafdc"/>
<rect x="560.7" y="170.1" width="1.1" height="12.1" fill="#b1b1de"/>
<rect x="561.5" y="170.1" width="2.3" height="12.1" fill="#a4a4ce"/>
<rect x="563.5" y="170.1" width="1.3" height="12.1" fill="#a5a5d0"/>
<rect x="564.5" y="170.1" width="1.1" height="12.1" fill="#aeaeda"/>
<rect x="565.3" y="170.1" width="2.3" height="12.1" fill="#b0b0dd"/>
<rect x="567.3" y="170.1" width="1.1" height="12.1" fill="#a5a5d0"/>
<rect x="568.1" y="170.1" width="1.1" height="12.1" fill="#adadda"/>
<rect x="568.9" y="170.1" width="2.8" height="12.1" fill="#acacd8"/>
<rect x="571.4" y="170.1" width="1.8" height="12.1" fill="#b0b0dd"/>
<rect x="572.9" y="170.1" width="1.3" height="12.1" fill="#b3b3e1"/>
<rect x="573.9" y="170.1" width="1.1" height="12.1" fill="#ababd7"/>
<rect x="574.7" y="170.1" width="1.1" height="12.1" fill="#ababd6"/>
<rect x="575.5" y="170.1" width="2.8" height="12.1" fill="#a6a6d1"/>
<rect x="578" y="170.1" width="1.1" height="12.1" fill="#adadd9"/>
<rect x="578.8" y="170.1" width="1.3" height="12.1" fill="#b0b0dd"/>
<rect x="579.8" y="170.1" width="2.8" height="12.1" fill="#acacd8"/>
<rect x="582.3" y="170.1" width="2.8" height="12.1" fill="#a6a6d0"/>
<rect x="584.8" y="170.1" width="2.3" height="12.1" fill="#a9a9d5"/>
<rect x="586.8" y="170.1" width="1.3" height="12.1" fill="#6363c6"/>
<rect x="587.8" y="170.1" width="2.3" height="12.1" fill="#6e6edb"/>
<rect x="589.8" y="170.1" width="1.8" height="12.1" fill="#6d6dda"/>
<rect x="591.3" y="170.1" width="2.3" height="12.1" fill="#6565cb"/>
<rect x="593.3" y="170.1" width="2.8" height="12.1" fill="#5a5ab4"/>
<rect x="595.8" y="170.1" width="2.8" height="12.1" fill="#6262c5"/>
<rect x="598.3" y="170.1" width="1.8" height="12.1" fill="#6767ce"/>
<rect x="599.8" y="170.1" width="2.3" height="12.1" fill="#5959b3"/>
<rect x="601.8" y="170.1" width="1.1" height="12.1" fill="#6d6dda"/>
<rect x="602.6" y="170.1" width="1.1" height="12.1" fill="#5b5bb7"/>
<rect x="603.4" y="170.1" width="2.8" height="12.1" fill="#5959b1"/>
<rect x="605.9" y="170.1" width="1.3" height="12.1" fill="#5d5dba"/>
<rect x="606.9" y="170.1" width="2.8" height="12.1" fill="#6c6cd8"/>
<rect x="609.4" y="170.1" width="1.1" height="12.1" fill="#5a5ab4"/>
<rect x="610.2" y="170.1" width="1.1" height="12.1" fill="#5d5dba"/>
<rect x="611" y="170.1" width="1.1" height="12.1" fill="#5c5cb7"/>
<rect x="611.8" y="170.1" width="1.1" height="12.1" fill="#6767ce"/>
<rect x="612.6" y="170.1" width="1.5" height="12.1" fill="#5d5db9"/>
<rect x="613.8" y="170.1" width="1.8" height="12.1" fill="#5f5fbd"/>
<rect x="615.3" y="170.1" width="2.3" height="12.1" fill="#6060c1"/>
<rect x="617.3" y="170.1" width="1.5" height="12.1" fill="#5b5bb5"/>
<rect x="618.5" y="170.1" width="1.3" height="12.1" fill="#6c6cd9"/>
<rect x="619.5" y="170.1" width="2.3" height="12.1" fill="#5d5dbb"/>
<rect x="621.5" y="170.1" width="1.3" height="12.1" fill="#6767cd"/>
<rect x="622.5" y="170.1" width="2.8" height="12.1" fill="#1f00bb"/>
<rect x="625" y="170.1" width="1.8" height="12.1" fill="#2000bd"/>
<rect x="626.5" y="170.1" width="1.5" height="12.1" fill="#2300d5"/>
<rect x="627.7" y="170.1" width="1.3" height="12.1" fill="#1d00ad"/>
<rect x="628.7" y="170.1" width="2.8" height="12.1" fill="#1d00ab"/>
<rect x="631.2" y="170.1" width="1.1" height="12.1" fill="#2300d3"/>
<rect x="632" y="170.1" width="2.8" height="12.1" fill="#1e00b5"/>
<rect x="634.5" y="170.1" width="2.8" height="12.1" fill="#2500de"/>
<rect x="637" y="170.1" width="2.3" height="12.1" fill="#2500dc"/>
<rect x="639" y="170.1" width="1.8" height="12.1" fill="#3c00a6"/>
<rect x="640.5" y="170.1" width="1.8" height="12.1" fill="#370097"/>
<rect x="642" y="170.1" width="2.3" height="12.1" fill="#340090"/>
<rect x="644" y="170.1" width="1.8" height="12.1" fill="#3d00a8"/>
<rect x="645.5" y="170.1" width="1.5" height="12.1" fill="#4500bf"/>
<rect x="646.7" y="170.1" width="1.1" height="12.1" fill="#320089"/>
<rect x="647.5" y="170.1" width="1.8" height="12.1" fill="#39009d"/>
<rect x="649" y="170.1" width="1.8" height="12.1" fill="#33008d"/>
<rect x="650.5" y="170.1" width="2.8" height="12.1" fill="#310088"/>
<rect x="653" y="170.1" width="2.8" height="12.1" fill="#2f0081"/>
<rect x="655.5" y="170.1" width="2.3" height="12.1" fill="#3d00a8"/>
<rect x="657.5" y="170.1" width="1.8" height="12.1" fill="#3a00a1"/>
<rect x="659" y="170.1" width="2.3" height="12.1" fill="#4300b8"/>
<rect x="661" y="170.1" width="1.8" height="12.1" fill="#2f0083"/>
<rect x="662.5" y="170.1" width="1.8" height="12.1" fill="#4300b9"/>
<rect x="664" y="170.1" width="1.5" height="12.1" fill="#320089"/>
<rect x="665.2" y="170.1" width="2.3" height="12.1" fill="#4100b4"/>
<rect x="667.2" y="170.1" width="2.3" height="12.1" fill="#34008f"/>
<rect x="669.2" y="170.1" width="2.8" height="12.1" fill="#4200b5"/>
<rect x="671.7" y="170.1" width="1.8" height="12.1" fill="#3e00ab"/>
<rect x="673.2" y="170.1" width="1.5" height="12.1" fill="#4300ba"/>
<rect x="674.4" y="170.1" width="1.3" height="12.1" fill="#39009c"/>
<rect x="675.4" y="170.1" width="1.3" height="12.1" fill="#4300ba"/>
<rect x="676.4" y="170.1" width="2.3" height="12.1" fill="#360094"/>
<rect x="678.4" y="170.1" width="1.8" height="12.1" fill="#2f0081"/>
<rect x="679.9" y="170.1" width="1.5" height="12.1" fill="#310088"/>
<rect x="681.1" y="170.1" width="1.1" height="12.1" fill="#3c00a5"/>
<rect x="681.9" y="170.1" width="2.3" height="12.1" fill="#4500bd"/>
<rect x="683.9" y="170.1" width="0.9" height="12.1" fill="#310087"/>
<polygon points="401.5,194.9 401.5,182.7 443,182.7 455,183.6 500,187.4 567,194.9 648,206.5 684.5,206.5 684.5,194.9" fill="#b4b4b4"/>
<line x1="401.5" y1="194.9" x2="684.5" y2="194.9" stroke="#a8a8a8" stroke-width="0.8"/>
<text x="679.6" y="192" font-size="11.3" fill="#2222ee" stroke="#2222ee" stroke-width="0.22" text-anchor="end" >negatively correlated</text>
<text x="407.5" y="204.9" font-size="11.1" fill="#f41c1c" stroke="#f41c1c" stroke-width="0.22" text-anchor="start" >positively correlated</text>
<text x="679.4" y="216.4" font-size="11.3" fill="#999999" stroke="#999999" stroke-width="0.22" text-anchor="end" >ranking scores</text>
<rect x="401.5" y="31.5" width="283" height="176" fill="none" stroke="#9a9a9a" stroke-width="1"/>
<text x="407.1" y="229.9" font-size="11.3" fill="#1a1a1a" stroke="#1a1a1a" stroke-width="0.22" text-anchor="start" >nominal p-value</text>
<text x="557.9" y="229.9" font-size="11.3" fill="#1a1a1a" stroke="#1a1a1a" stroke-width="0.22" text-anchor="start" >5.81E-03</text>
<text x="407.1" y="242.35" font-size="11.3" fill="#1a1a1a" stroke="#1a1a1a" stroke-width="0.22" text-anchor="start" >false discovery rate q-value</text>
<text x="557.9" y="242.35" font-size="11.3" fill="#1a1a1a" stroke="#1a1a1a" stroke-width="0.22" text-anchor="start" >2.50E-01</text>
<text x="407.1" y="254.8" font-size="11.3" fill="#1a1a1a" stroke="#1a1a1a" stroke-width="0.22" text-anchor="start" >familywise-error rate p-value</text>
<text x="557.9" y="254.8" font-size="11.3" fill="#1a1a1a" stroke="#1a1a1a" stroke-width="0.22" text-anchor="start" >9.95E-01</text>
<text x="407.1" y="267.25" font-size="11.3" fill="#1a1a1a" stroke="#1a1a1a" stroke-width="0.22" text-anchor="start" >enrichment score</text>
<text x="557.9" y="267.25" font-size="11.3" fill="#1a1a1a" stroke="#1a1a1a" stroke-width="0.22" text-anchor="start" >-0.178</text>
<text x="407.1" y="279.7" font-size="11.3" fill="#1a1a1a" stroke="#1a1a1a" stroke-width="0.22" text-anchor="start" >normalized enrichment score</text>
<text x="557.9" y="279.7" font-size="11.3" fill="#1a1a1a" stroke="#1a1a1a" stroke-width="0.22" text-anchor="start" >-2.069</text><clipPath id="clipA2"><rect x="48.5" y="305.5" width="283" height="129"/></clipPath>
<text transform="translate(9.1,371.1) rotate(-90)" font-size="11.55" fill="#1a1a1a" stroke="#1a1a1a" stroke-width="0.22" text-anchor="middle">enrichment score (ES)</text>
<text x="39.4" y="312.5" font-size="11.3" fill="#1a1a1a" stroke="#1a1a1a" stroke-width="0.22" text-anchor="end" >0.25</text>
<line x1="45.9" y1="308.5" x2="48.5" y2="308.5" stroke="#9a9a9a" stroke-width="1"/>
<text x="39.4" y="337.7" font-size="11.3" fill="#1a1a1a" stroke="#1a1a1a" stroke-width="0.22" text-anchor="end" >0.20</text>
<line x1="45.9" y1="333.7" x2="48.5" y2="333.7" stroke="#9a9a9a" stroke-width="1"/>
<text x="39.4" y="362.9" font-size="11.3" fill="#1a1a1a" stroke="#1a1a1a" stroke-width="0.22" text-anchor="end" >0.15</text>
<line x1="45.9" y1="358.9" x2="48.5" y2="358.9" stroke="#9a9a9a" stroke-width="1"/>
<text x="39.4" y="388.1" font-size="11.3" fill="#1a1a1a" stroke="#1a1a1a" stroke-width="0.22" text-anchor="end" >0.10</text>
<line x1="45.9" y1="384.1" x2="48.5" y2="384.1" stroke="#9a9a9a" stroke-width="1"/>
<text x="39.4" y="413.3" font-size="11.3" fill="#1a1a1a" stroke="#1a1a1a" stroke-width="0.22" text-anchor="end" >0.05</text>
<line x1="45.9" y1="409.3" x2="48.5" y2="409.3" stroke="#9a9a9a" stroke-width="1"/>
<text x="39.4" y="438.5" font-size="11.3" fill="#1a1a1a" stroke="#1a1a1a" stroke-width="0.22" text-anchor="end" >0.00</text>
<line x1="45.9" y1="434.5" x2="48.5" y2="434.5" stroke="#9a9a9a" stroke-width="1"/>
<line x1="48.5" y1="434.5" x2="331.5" y2="434.5" stroke="#9a9a9a" stroke-width="1"/>
<line x1="221.7" y1="327.7" x2="227.1" y2="327.7" stroke="#ff0000" stroke-width="1.6"/>
<line x1="221.9" y1="340.3" x2="227.1" y2="340.3" stroke="#aaaaaa" stroke-width="1.7"/>
<text x="326.3" y="330.6" font-size="11.3" fill="#1a1a1a" stroke="#1a1a1a" stroke-width="0.22" text-anchor="end" >enrichment profile</text>
<text x="326.3" y="342.6" font-size="11.3" fill="#1a1a1a" stroke="#1a1a1a" stroke-width="0.22" text-anchor="end" >hits</text>
<text x="61.2" y="418.4" font-size="11.3" fill="#1a1a1a" stroke="#1a1a1a" stroke-width="0.22" text-anchor="start" >pathway enrichment</text>
<text x="61.2" y="430.9" font-size="11.3" fill="#1a1a1a" stroke="#1a1a1a" stroke-width="0.22" text-anchor="start" >E2F targets</text>
<polyline points="48.5,434 49.3,434 49.3,427.9 51,427.9 51,422.7 52.25,422.7 52.25,421.36 53.5,421.36 53.5,420.11 54.75,420.11 54.75,419.25 56,419.25 56,417.86 57.5,417.86 57.5,415.74 59,415.74 59,413.18 61,413.18 61,409.14 62.5,409.14 62.5,405.89 64.45,405.89 64.45,403.48 66.4,403.48 66.4,401.35 68.1,401.35 68.1,398.89 69.8,398.89 69.8,396.74 71.17,396.74 71.17,396.2 72.53,396.2 72.53,394.77 73.9,394.77 73.9,393.56 75.45,393.56 75.45,390.24 77,390.24 77,386.99 79.1,386.99 79.1,378.27 80.47,378.27 80.47,380.34 81.83,380.34 81.83,381.36 83.2,381.36 83.2,383.07 84.75,383.07 84.75,381.98 86.3,381.98 86.3,380.99 87.9,380.99 87.9,379.28 89.5,379.28 89.5,377.9 90.87,377.9 90.87,378.2 92.23,378.2 92.23,379.15 93.6,379.15 93.6,379.63 95,379.63 95,374.18 96.4,374.18 96.4,369.01 97.8,369.01 97.8,363.39 99.5,363.39 99.5,362.18 101.2,362.18 101.2,361.03 102.9,361.03 102.9,359.63 104.45,359.63 104.45,353.54 106,353.54 106,346.41 107.4,346.41 107.4,345.67 108.8,345.67 108.8,345.46 110.2,345.46 110.2,344.38 111.57,344.38 111.57,342.86 112.93,342.86 112.93,340.62 114.3,340.62 114.3,339.45 115.7,339.45 115.7,336.55 117.1,336.55 117.1,333.11 118.5,333.11 118.5,330.25 119.87,330.25 119.87,330.64 121.23,330.64 121.23,331.45 122.6,331.45 122.6,331.84 124,331.84 124,329.31 125.4,329.31 125.4,327.53 126.8,327.53 126.8,324.85 128.35,324.85 128.35,326.68 129.9,326.68 129.9,327.63 132,327.63 132,320.26 133.55,320.26 133.55,315.89 135.1,315.89 135.1,311.29 136.47,311.29 136.47,311.46 137.83,311.46 137.83,312.18 139.2,312.18 139.2,313.4 140.75,313.4 140.75,310.73 142.3,310.73 142.3,308.74 144.03,308.74 144.03,310.95 145.77,310.95 145.77,312.36 147.5,312.36 147.5,313.7 149.05,313.7 149.05,314.64 150.6,314.64 150.6,316.87 152.15,316.87 152.15,317.83 153.7,317.83 153.7,319.81 155.25,319.81 155.25,319.55 156.8,319.55 156.8,320.45 158.35,320.45 158.35,319.92 159.9,319.92 159.9,320.06 161.47,320.06 161.47,321.77 163.05,321.77 163.05,323.75 164.62,323.75 164.62,324.79 166.2,324.79 166.2,326.97 167.75,326.97 167.75,328.92 169.3,328.92 169.3,330.71 170.85,330.71 170.85,332.54 172.4,332.54 172.4,334.18 173.95,334.18 173.95,335.83 175.5,335.83 175.5,337.68 177.05,337.68 177.05,339.24 178.6,339.24 178.6,341.34 180.15,341.34 180.15,343.19 181.7,343.19 181.7,344.9 183.25,344.9 183.25,347.09 184.8,347.09 184.8,348.79 186.53,348.79 186.53,349.04 188.27,349.04 188.27,350.36 190,350.36 190,350.53 191.55,350.53 191.55,352.26 193.1,352.26 193.1,353.4 194.65,353.4 194.65,355.53 196.2,355.53 196.2,356.46 197.75,356.46 197.75,357.85 199.3,357.85 199.3,359.87 200.85,359.87 200.85,361.22 202.4,361.22 202.4,362.12 203.95,362.12 203.95,363.75 205.5,363.75 205.5,364.79 206.85,364.79 206.85,362.68 208.2,362.68 208.2,361.14 210,361.14 210,363.46 211.8,363.46 211.8,365.5 213.53,365.5 213.53,366.59 215.27,366.59 215.27,368.44 217,368.44 217,369.82 218.37,369.82 218.37,368.59 219.73,368.59 219.73,368.32 221.1,368.32 221.1,368.57 222.65,368.57 222.65,369.34 224.2,369.34 224.2,369.48 225.6,369.48 225.6,370.69 227,370.69 227,371.57 228.4,371.57 228.4,372.65 230.1,372.65 230.1,372.78 231.8,372.78 231.8,374.24 233.5,374.24 233.5,374.92 235.07,374.92 235.07,375.2 236.65,375.2 236.65,375.57 238.23,375.57 238.23,375.58 239.8,375.58 239.8,375.22 241.35,375.22 241.35,376.45 242.9,376.45 242.9,376.66 244.45,376.66 244.45,378.17 246,378.17 246,379.15 247.37,379.15 247.37,377.53 248.73,377.53 248.73,376.52 250.1,376.52 250.1,376.32 251.5,376.32 251.5,377.31 252.9,377.31 252.9,377.54 254.3,377.54 254.3,379.02 255.85,379.02 255.85,380.49 257.4,380.49 257.4,381.38 258.95,381.38 258.95,383.46 260.5,383.46 260.5,385.37 262.05,385.37 262.05,386.07 263.6,386.07 263.6,387.01 265.15,387.01 265.15,388.31 266.7,388.31 266.7,390.24 268.43,390.24 268.43,392.3 270.17,392.3 270.17,393.26 271.9,393.26 271.9,395.46 274,395.46 274,391.82 275.7,391.82 275.7,393.27 277.4,393.27 277.4,394.95 279.1,394.95 279.1,396.21 280.68,396.21 280.68,396.41 282.25,396.41 282.25,396.8 283.82,396.8 283.82,397.37 285.4,397.37 285.4,397.51 286.77,397.51 286.77,397.52 288.13,397.52 288.13,397.91 289.5,397.91 289.5,397.98 290.87,397.98 290.87,400.14 292.23,400.14 292.23,401.14 293.6,401.14 293.6,402.24 295.33,402.24 295.33,405.1 297.07,405.1 297.07,406.85 298.8,406.85 298.8,409.12 300.2,409.12 300.2,409.04 301.6,409.04 301.6,409.2 303,409.2 303,409.53 304.73,409.53 304.73,412.01 306.47,412.01 306.47,414.39 308.2,414.39 308.2,415.79 309.75,415.79 309.75,417.29 311.3,417.29 311.3,418.58 312.85,418.58 312.85,420 314.4,420 314.4,421.52 315.95,421.52 315.95,421.86 317.5,421.86 317.5,421.76 319.05,421.76 319.05,422.96 320.6,422.96 320.6,423.25 322.33,423.25 322.33,424.75 324.07,424.75 324.07,425.69 325.8,425.69 325.8,426.67 327.23,426.67 327.23,428.29 328.65,428.29 328.65,429.56 330.07,429.56 330.07,430.34 331.5,430.34 331.5,432" fill="none" stroke="#ff3300" stroke-width="3.1" stroke-linejoin="round" stroke-linecap="butt" clip-path="url(#clipA2)"/>
<rect x="48.8" y="434.5" width="1.8" height="12.6" fill="#000000"/>
<rect x="51.9" y="434.5" width="0.8" height="12.6" fill="#505050"/>
<rect x="54" y="434.5" width="1.9" height="12.6" fill="#000000"/>
<rect x="55.9" y="434.5" width="2.1" height="12.6" fill="#bebebe"/>
<rect x="58" y="434.5" width="5" height="12.6" fill="#000000"/>
<rect x="63" y="434.5" width="1.8" height="12.6" fill="#bebebe"/>
<rect x="64.8" y="434.5" width="1.3" height="12.6" fill="#000000"/>
<rect x="66.1" y="434.5" width="2.4" height="12.6" fill="#787878"/>
<rect x="70.1" y="434.5" width="1.8" height="12.6" fill="#000000"/>
<rect x="71.9" y="434.5" width="1.8" height="12.6" fill="#828282"/>
<rect x="75.1" y="434.5" width="4.7" height="12.6" fill="#000000"/>
<rect x="83" y="434.5" width="1" height="12.6" fill="#969696"/>
<rect x="84" y="434.5" width="1.8" height="12.6" fill="#bebebe"/>
<rect x="85.8" y="434.5" width="1.1" height="12.6" fill="#000000"/>
<rect x="88.5" y="434.5" width="1.8" height="12.6" fill="#000000"/>
<rect x="90.3" y="434.5" width="2.1" height="12.6" fill="#bebebe"/>
<rect x="94.5" y="434.5" width="0.8" height="12.6" fill="#505050"/>
<rect x="95.3" y="434.5" width="3.4" height="12.6" fill="#000000"/>
<rect x="100.3" y="434.5" width="3.9" height="12.6" fill="#555555"/>
<rect x="104.2" y="434.5" width="0.8" height="12.6" fill="#000000"/>
<rect x="105" y="434.5" width="1" height="12.6" fill="#bebebe"/>
<rect x="106" y="434.5" width="4.3" height="12.6" fill="#808080"/>
<rect x="110.3" y="434.5" width="1.6" height="12.6" fill="#1e1e1e"/>
<rect x="111.9" y="434.5" width="2.1" height="12.6" fill="#d2d2d2"/>
<rect x="114" y="434.5" width="1.5" height="12.6" fill="#000000"/>
<rect x="115.5" y="434.5" width="2.1" height="12.6" fill="#808080"/>
<rect x="117.6" y="434.5" width="1.1" height="12.6" fill="#1e1e1e"/>
<rect x="118.7" y="434.5" width="0.3" height="12.6" fill="#808080"/>
<rect x="119" y="434.5" width="1.6" height="12.6" fill="#000000"/>
<rect x="121.3" y="434.5" width="0.6" height="12.6" fill="#282828"/>
<rect x="123.1" y="434.5" width="1.1" height="12.6" fill="#808080"/>
<rect x="125.2" y="434.5" width="2.9" height="12.6" fill="#000000"/>
<rect x="132" y="434.5" width="1.5" height="12.6" fill="#000000"/>
<rect x="134" y="434.5" width="1.6" height="12.6" fill="#808080"/>
<rect x="136.1" y="434.5" width="2.1" height="12.6" fill="#000000"/>
<rect x="140.8" y="434.5" width="1" height="12.6" fill="#808080"/>
<rect x="143" y="434.5" width="1.9" height="12.6" fill="#000000"/>
<rect x="147.5" y="434.5" width="1" height="12.6" fill="#808080"/>
<rect x="149" y="434.5" width="1.1" height="12.6" fill="#282828"/>
<rect x="152" y="434.5" width="1.2" height="12.6" fill="#808080"/>
<rect x="153.7" y="434.5" width="1.6" height="12.6" fill="#808080"/>
<rect x="157.9" y="434.5" width="1.5" height="12.6" fill="#000000"/>
<rect x="159.4" y="434.5" width="3.1" height="12.6" fill="#464646"/>
<rect x="168.5" y="434.5" width="1.3" height="12.6" fill="#808080"/>
<rect x="170.3" y="434.5" width="2.6" height="12.6" fill="#464646"/>
<rect x="174.5" y="434.5" width="1.5" height="12.6" fill="#808080"/>
<rect x="178.1" y="434.5" width="1.5" height="12.6" fill="#000000"/>
<rect x="181.2" y="434.5" width="1" height="12.6" fill="#808080"/>
<rect x="183.8" y="434.5" width="1.5" height="12.6" fill="#808080"/>
<rect x="187.9" y="434.5" width="1.1" height="12.6" fill="#808080"/>
<rect x="190" y="434.5" width="2.6" height="12.6" fill="#808080"/>
<rect x="194.1" y="434.5" width="1" height="12.6" fill="#808080"/>
<rect x="195.7" y="434.5" width="0.9" height="12.6" fill="#000000"/>
<rect x="199.3" y="434.5" width="0.9" height="12.6" fill="#000000"/>
<rect x="203.5" y="434.5" width="0.9" height="12.6" fill="#000000"/>
<rect x="208.1" y="434.5" width="3.7" height="12.6" fill="#141414"/>
<rect x="215.4" y="434.5" width="0.9" height="12.6" fill="#000000"/>
<rect x="219.5" y="434.5" width="1" height="12.6" fill="#282828"/>
<rect x="224.2" y="434.5" width="1" height="12.6" fill="#282828"/>
<rect x="227.3" y="434.5" width="0.9" height="12.6" fill="#000000"/>
<rect x="232.5" y="434.5" width="3.1" height="12.6" fill="#8c8c8c"/>
<rect x="240.8" y="434.5" width="1" height="12.6" fill="#808080"/>
<rect x="242.9" y="434.5" width="3.1" height="12.6" fill="#6e6e6e"/>
<rect x="250.1" y="434.5" width="0.9" height="12.6" fill="#808080"/>
<rect x="253.2" y="434.5" width="0.9" height="12.6" fill="#808080"/>
<rect x="256.3" y="434.5" width="0.9" height="12.6" fill="#808080"/>
<rect x="259.4" y="434.5" width="0.9" height="12.6" fill="#808080"/>
<rect x="264.6" y="434.5" width="1" height="12.6" fill="#808080"/>
<rect x="269.6" y="434.5" width="1" height="12.6" fill="#808080"/>
<rect x="278.1" y="434.5" width="1" height="12.6" fill="#141414"/>
<rect x="281.7" y="434.5" width="1" height="12.6" fill="#808080"/>
<rect x="286.6" y="434.5" width="1" height="12.6" fill="#141414"/>
<rect x="291.4" y="434.5" width="1" height="12.6" fill="#141414"/>
<rect x="294.2" y="434.5" width="1" height="12.6" fill="#aaaaaa"/>
<rect x="306.1" y="434.5" width="1" height="12.6" fill="#808080"/>
<rect x="309.2" y="434.5" width="1" height="12.6" fill="#323232"/>
<rect x="321.1" y="434.5" width="1" height="12.6" fill="#808080"/>
<rect x="323.7" y="434.5" width="1" height="12.6" fill="#808080"/>
<rect x="328.4" y="434.5" width="1" height="12.6" fill="#808080"/>
<rect x="48.5" y="447.1" width="1.1" height="12.1" fill="#da0000"/>
<rect x="49.3" y="447.1" width="2.3" height="12.1" fill="#e70000"/>
<rect x="51.3" y="447.1" width="2.3" height="12.1" fill="#e10000"/>
<rect x="53.3" y="447.1" width="1.5" height="12.1" fill="#eb0000"/>
<rect x="54.5" y="447.1" width="2.3" height="12.1" fill="#e70000"/>
<rect x="56.5" y="447.1" width="1.3" height="12.1" fill="#dc0000"/>
<rect x="57.5" y="447.1" width="2.3" height="12.1" fill="#d10000"/>
<rect x="59.5" y="447.1" width="1.1" height="12.1" fill="#da0000"/>
<rect x="60.3" y="447.1" width="1.3" height="12.1" fill="#ca0000"/>
<rect x="61.3" y="447.1" width="1.5" height="12.1" fill="#c60000"/>
<rect x="62.5" y="447.1" width="1.1" height="12.1" fill="#c30000"/>
<rect x="63.3" y="447.1" width="1.3" height="12.1" fill="#e60000"/>
<rect x="64.3" y="447.1" width="2.8" height="12.1" fill="#eb0000"/>
<rect x="66.8" y="447.1" width="1.3" height="12.1" fill="#c80000"/>
<rect x="67.8" y="447.1" width="2.3" height="12.1" fill="#e50000"/>
<rect x="69.8" y="447.1" width="1.1" height="12.1" fill="#c70000"/>
<rect x="70.6" y="447.1" width="2.8" height="12.1" fill="#d80000"/>
<rect x="73.1" y="447.1" width="1.1" height="12.1" fill="#e30000"/>
<rect x="73.9" y="447.1" width="2.3" height="12.1" fill="#d00000"/>
<rect x="75.9" y="447.1" width="1.1" height="12.1" fill="#d30000"/>
<rect x="76.7" y="447.1" width="2.3" height="12.1" fill="#e80000"/>
<rect x="78.7" y="447.1" width="1.1" height="12.1" fill="#dc0000"/>
<rect x="79.5" y="447.1" width="2.8" height="12.1" fill="#d80000"/>
<rect x="82" y="447.1" width="2.8" height="12.1" fill="#e50000"/>
<rect x="84.5" y="447.1" width="1.5" height="12.1" fill="#d80000"/>
<rect x="85.7" y="447.1" width="1.8" height="12.1" fill="#e50000"/>
<rect x="87.2" y="447.1" width="1.1" height="12.1" fill="#dd0000"/>
<rect x="88" y="447.1" width="2.3" height="12.1" fill="#e80000"/>
<rect x="90" y="447.1" width="1.3" height="12.1" fill="#d30000"/>
<rect x="91" y="447.1" width="1.1" height="12.1" fill="#c80000"/>
<rect x="91.8" y="447.1" width="2.8" height="12.1" fill="#e50000"/>
<rect x="94.3" y="447.1" width="1.5" height="12.1" fill="#d53737"/>
<rect x="95.5" y="447.1" width="2.3" height="12.1" fill="#e73c3c"/>
<rect x="97.5" y="447.1" width="1.1" height="12.1" fill="#e83c3c"/>
<rect x="98.3" y="447.1" width="1.8" height="12.1" fill="#d53737"/>
<rect x="99.8" y="447.1" width="1.1" height="12.1" fill="#dc3939"/>
<rect x="100.6" y="447.1" width="1.8" height="12.1" fill="#ea3d3d"/>
<rect x="102.1" y="447.1" width="1.3" height="12.1" fill="#de3a3a"/>
<rect x="103.1" y="447.1" width="1.8" height="12.1" fill="#c83434"/>
<rect x="104.6" y="447.1" width="1.8" height="12.1" fill="#ca3434"/>
<rect x="106.1" y="447.1" width="2.3" height="12.1" fill="#de3939"/>
<rect x="108.1" y="447.1" width="2.3" height="12.1" fill="#ed3d3d"/>
<rect x="110.1" y="447.1" width="1.5" height="12.1" fill="#d03636"/>
<rect x="111.3" y="447.1" width="2.8" height="12.1" fill="#ea3d3d"/>
<rect x="113.8" y="447.1" width="1.1" height="12.1" fill="#c93434"/>
<rect x="114.6" y="447.1" width="1.3" height="12.1" fill="#da3838"/>
<rect x="115.6" y="447.1" width="2.8" height="12.1" fill="#ed3e3e"/>
<rect x="118.1" y="447.1" width="1.1" height="12.1" fill="#ce3636"/>
<rect x="118.9" y="447.1" width="1.3" height="12.1" fill="#db3939"/>
<rect x="119.9" y="447.1" width="1.5" height="12.1" fill="#d53737"/>
<rect x="121.1" y="447.1" width="1.5" height="12.1" fill="#ee3e3e"/>
<rect x="122.3" y="447.1" width="2.8" height="12.1" fill="#e83c3c"/>
<rect x="124.8" y="447.1" width="1.1" height="12.1" fill="#ff6e80"/>
<rect x="125.6" y="447.1" width="1.5" height="12.1" fill="#ff7182"/>
<rect x="126.8" y="447.1" width="1.8" height="12.1" fill="#f36878"/>
<rect x="128.3" y="447.1" width="2.3" height="12.1" fill="#df606f"/>
<rect x="130.3" y="447.1" width="1.1" height="12.1" fill="#f5697a"/>
<rect x="131.1" y="447.1" width="1.3" height="12.1" fill="#ff6e80"/>
<rect x="132.1" y="447.1" width="2.3" height="12.1" fill="#de5f6e"/>
<rect x="134.1" y="447.1" width="2.3" height="12.1" fill="#ff7183"/>
<rect x="136.1" y="447.1" width="1.8" height="12.1" fill="#d85c6b"/>
<rect x="137.6" y="447.1" width="2.3" height="12.1" fill="#dd5f6e"/>
<rect x="139.6" y="447.1" width="1.5" height="12.1" fill="#fb6c7d"/>
<rect x="140.8" y="447.1" width="2.3" height="12.1" fill="#ff7183"/>
<rect x="142.8" y="447.1" width="1.5" height="12.1" fill="#e1606f"/>
<rect x="144" y="447.1" width="2.3" height="12.1" fill="#f16778"/>
<rect x="146" y="447.1" width="2.3" height="12.1" fill="#d85d6b"/>
<rect x="148" y="447.1" width="1.1" height="12.1" fill="#f26878"/>
<rect x="148.8" y="447.1" width="1.3" height="12.1" fill="#d75c6b"/>
<rect x="149.8" y="447.1" width="1.8" height="12.1" fill="#ff7183"/>
<rect x="151.3" y="447.1" width="2.3" height="12.1" fill="#e56271"/>
<rect x="153.3" y="447.1" width="2.8" height="12.1" fill="#ff6e80"/>
<rect x="155.8" y="447.1" width="2.3" height="12.1" fill="#f26878"/>
<rect x="157.8" y="447.1" width="2.8" height="12.1" fill="#fe6d7e"/>
<rect x="160.3" y="447.1" width="2.8" height="12.1" fill="#ff6e80"/>
<rect x="162.8" y="447.1" width="1.5" height="12.1" fill="#f0b6e1"/>
<rect x="164" y="447.1" width="1.8" height="12.1" fill="#f5bae5"/>
<rect x="165.5" y="447.1" width="1.8" height="12.1" fill="#f2b8e3"/>
<rect x="167" y="447.1" width="2.3" height="12.1" fill="#f8bce8"/>
<rect x="169" y="447.1" width="2.3" height="12.1" fill="#fcbfec"/>
<rect x="171" y="447.1" width="1.5" height="12.1" fill="#f6bbe6"/>
<rect x="172.2" y="447.1" width="2.3" height="12.1" fill="#efb5df"/>
<rect x="174.2" y="447.1" width="2.8" height="12.1" fill="#f1b6e1"/>
<rect x="176.7" y="447.1" width="2.3" height="12.1" fill="#c7c7f8"/>
<rect x="178.7" y="447.1" width="2.8" height="12.1" fill="#ccccfe"/>
<rect x="181.2" y="447.1" width="1.1" height="12.1" fill="#c0c0ef"/>
<rect x="182" y="447.1" width="2.8" height="12.1" fill="#bdbdec"/>
<rect x="184.5" y="447.1" width="1.1" height="12.1" fill="#c4c4f4"/>
<rect x="185.3" y="447.1" width="1.3" height="12.1" fill="#ccccfe"/>
<rect x="186.3" y="447.1" width="1.5" height="12.1" fill="#bfbfee"/>
<rect x="187.5" y="447.1" width="1.8" height="12.1" fill="#c6c6f7"/>
<rect x="189" y="447.1" width="1.1" height="12.1" fill="#c0c0ee"/>
<rect x="189.8" y="447.1" width="1.8" height="12.1" fill="#ccccfe"/>
<rect x="191.3" y="447.1" width="2.8" height="12.1" fill="#c1c1f0"/>
<rect x="193.8" y="447.1" width="2.8" height="12.1" fill="#bbbbe9"/>
<rect x="196.3" y="447.1" width="2.8" height="12.1" fill="#cbcbfd"/>
<rect x="198.8" y="447.1" width="1.1" height="12.1" fill="#c1c1f0"/>
<rect x="199.6" y="447.1" width="1.8" height="12.1" fill="#c8c8f9"/>
<rect x="201.1" y="447.1" width="1.1" height="12.1" fill="#bebeec"/>
<rect x="201.9" y="447.1" width="1.8" height="12.1" fill="#bebeed"/>
<rect x="203.4" y="447.1" width="2.8" height="12.1" fill="#8181f9"/>
<rect x="205.9" y="447.1" width="1.5" height="12.1" fill="#7b7bef"/>
<rect x="207.1" y="447.1" width="2.8" height="12.1" fill="#7474e1"/>
<rect x="209.6" y="447.1" width="1.8" height="12.1" fill="#8a8aff"/>
<rect x="211.1" y="447.1" width="1.1" height="12.1" fill="#8b8bff"/>
<rect x="211.9" y="447.1" width="1.1" height="12.1" fill="#7373df"/>
<rect x="212.7" y="447.1" width="1.5" height="12.1" fill="#6e6ed5"/>
<rect x="213.9" y="447.1" width="1.8" height="12.1" fill="#8282fb"/>
<rect x="215.4" y="447.1" width="1.8" height="12.1" fill="#8888ff"/>
<rect x="216.9" y="447.1" width="1.5" height="12.1" fill="#8080f7"/>
<rect x="218.1" y="447.1" width="1.5" height="12.1" fill="#6f6fd6"/>
<rect x="219.3" y="447.1" width="1.8" height="12.1" fill="#6f6fd7"/>
<rect x="220.8" y="447.1" width="1.5" height="12.1" fill="#8a8aff"/>
<rect x="222" y="447.1" width="1.3" height="12.1" fill="#8080f9"/>
<rect x="223" y="447.1" width="2.3" height="12.1" fill="#7272dd"/>
<rect x="225" y="447.1" width="1.8" height="12.1" fill="#8282fc"/>
<rect x="226.5" y="447.1" width="1.5" height="12.1" fill="#8787ff"/>
<rect x="227.7" y="447.1" width="1.3" height="12.1" fill="#7272dd"/>
<rect x="228.7" y="447.1" width="1.8" height="12.1" fill="#6e6ed6"/>
<rect x="230.2" y="447.1" width="1.5" height="12.1" fill="#6f6fd8"/>
<rect x="231.4" y="447.1" width="1.1" height="12.1" fill="#7f7ff5"/>
<rect x="232.2" y="447.1" width="1.1" height="12.1" fill="#5347c6"/>
<rect x="233" y="447.1" width="1.5" height="12.1" fill="#5f51e2"/>
<rect x="234.2" y="447.1" width="1.3" height="12.1" fill="#5549cb"/>
<rect x="235.2" y="447.1" width="1.1" height="12.1" fill="#5f51e3"/>
<rect x="236" y="447.1" width="1.1" height="12.1" fill="#5347c7"/>
<rect x="236.8" y="447.1" width="1.8" height="12.1" fill="#5448c8"/>
<rect x="238.3" y="447.1" width="1.1" height="12.1" fill="#6051e4"/>
<rect x="239.1" y="447.1" width="1.3" height="12.1" fill="#6959f9"/>
<rect x="240.1" y="447.1" width="1.8" height="12.1" fill="#6253e8"/>
<rect x="241.6" y="447.1" width="2.8" height="12.1" fill="#6556f0"/>
<rect x="244.1" y="447.1" width="1.3" height="12.1" fill="#5d4fdd"/>
<rect x="245.1" y="447.1" width="1.3" height="12.1" fill="#5347c6"/>
<rect x="246.1" y="447.1" width="2.3" height="12.1" fill="#6152e7"/>
<rect x="248.1" y="447.1" width="1.8" height="12.1" fill="#6253e9"/>
<rect x="249.6" y="447.1" width="1.5" height="12.1" fill="#2000c2"/>
<rect x="250.8" y="447.1" width="2.3" height="12.1" fill="#2000c3"/>
<rect x="252.8" y="447.1" width="1.8" height="12.1" fill="#1f00bc"/>
<rect x="254.3" y="447.1" width="2.8" height="12.1" fill="#2400da"/>
<rect x="256.8" y="447.1" width="2.8" height="12.1" fill="#2500e4"/>
<rect x="259.3" y="447.1" width="1.1" height="12.1" fill="#2500e0"/>
<rect x="260.1" y="447.1" width="1.8" height="12.1" fill="#2200cf"/>
<rect x="261.6" y="447.1" width="2.8" height="12.1" fill="#2000c2"/>
<rect x="264.1" y="447.1" width="1.8" height="12.1" fill="#2200d1"/>
<rect x="265.6" y="447.1" width="1.5" height="12.1" fill="#2000c6"/>
<rect x="266.8" y="447.1" width="2.8" height="12.1" fill="#2100cb"/>
<rect x="269.3" y="447.1" width="2.3" height="12.1" fill="#2500e0"/>
<rect x="271.3" y="447.1" width="1.1" height="12.1" fill="#4000b0"/>
<rect x="272.1" y="447.1" width="1.1" height="12.1" fill="#4000b1"/>
<rect x="272.9" y="447.1" width="1.8" height="12.1" fill="#3c00a6"/>
<rect x="274.4" y="447.1" width="1.5" height="12.1" fill="#4100b3"/>
<rect x="275.6" y="447.1" width="2.8" height="12.1" fill="#4600bf"/>
<rect x="278.1" y="447.1" width="2.3" height="12.1" fill="#4400bc"/>
<rect x="280.1" y="447.1" width="2.8" height="12.1" fill="#3e00ab"/>
<rect x="282.6" y="447.1" width="1.8" height="12.1" fill="#4500bd"/>
<rect x="284.1" y="447.1" width="1.8" height="12.1" fill="#3f00ad"/>
<rect x="285.6" y="447.1" width="1.8" height="12.1" fill="#4100b2"/>
<rect x="287.1" y="447.1" width="2.3" height="12.1" fill="#3e00a9"/>
<rect x="289.1" y="447.1" width="1.3" height="12.1" fill="#3c00a5"/>
<rect x="290.1" y="447.1" width="1.3" height="12.1" fill="#4100b2"/>
<rect x="291.1" y="447.1" width="1.3" height="12.1" fill="#3e00aa"/>
<rect x="292.1" y="447.1" width="1.1" height="12.1" fill="#4300b9"/>
<rect x="292.9" y="447.1" width="1.1" height="12.1" fill="#3a00a1"/>
<rect x="293.7" y="447.1" width="1.5" height="12.1" fill="#4500bd"/>
<rect x="294.9" y="447.1" width="1.3" height="12.1" fill="#4300b8"/>
<rect x="295.9" y="447.1" width="1.5" height="12.1" fill="#4200b5"/>
<rect x="297.1" y="447.1" width="2.3" height="12.1" fill="#3b00a2"/>
<rect x="299.1" y="447.1" width="1.3" height="12.1" fill="#4200b7"/>
<rect x="300.1" y="447.1" width="2.8" height="12.1" fill="#4100b2"/>
<rect x="302.6" y="447.1" width="1.1" height="12.1" fill="#4600c0"/>
<rect x="303.4" y="447.1" width="1.8" height="12.1" fill="#4300b9"/>
<rect x="304.9" y="447.1" width="1.3" height="12.1" fill="#4000b0"/>
<rect x="305.9" y="447.1" width="1.3" height="12.1" fill="#4100b2"/>
<rect x="306.9" y="447.1" width="1.1" height="12.1" fill="#3a00a0"/>
<rect x="307.7" y="447.1" width="1.3" height="12.1" fill="#4000b0"/>
<rect x="308.7" y="447.1" width="1.8" height="12.1" fill="#3d00a9"/>
<rect x="310.2" y="447.1" width="2.8" height="12.1" fill="#3d00a9"/>
<rect x="312.7" y="447.1" width="2.8" height="12.1" fill="#3f00ad"/>
<rect x="315.2" y="447.1" width="1.8" height="12.1" fill="#4500bd"/>
<rect x="316.7" y="447.1" width="1.1" height="12.1" fill="#4600c1"/>
<rect x="317.5" y="447.1" width="1.5" height="12.1" fill="#3f00ac"/>
<rect x="318.7" y="447.1" width="2.8" height="12.1" fill="#4100b3"/>
<rect x="321.2" y="447.1" width="1.3" height="12.1" fill="#3f00ac"/>
<rect x="322.2" y="447.1" width="1.3" height="12.1" fill="#4100b2"/>
<rect x="323.2" y="447.1" width="1.8" height="12.1" fill="#4300b7"/>
<rect x="324.7" y="447.1" width="1.3" height="12.1" fill="#4600bf"/>
<rect x="325.7" y="447.1" width="1.3" height="12.1" fill="#3b00a1"/>
<rect x="326.7" y="447.1" width="1.8" height="12.1" fill="#4500bf"/>
<rect x="328.2" y="447.1" width="2.3" height="12.1" fill="#4600bf"/>
<rect x="330.2" y="447.1" width="1.3" height="12.1" fill="#4000b0"/>
<rect x="331.2" y="447.1" width="0.6" height="12.1" fill="#3b00a3"/>
<polygon points="48.5,471.9 48.5,459.7 77.5,459.7 164.5,471.9 200,475.8 232,479.7 255,482.1 278,483.5 331.5,483.5 331.5,471.9" fill="#b4b4b4"/>
<line x1="48.5" y1="471.9" x2="331.5" y2="471.9" stroke="#a8a8a8" stroke-width="0.8"/>
<text x="326.6" y="469" font-size="11.3" fill="#2222ee" stroke="#2222ee" stroke-width="0.22" text-anchor="end" >negatively correlated</text>
<text x="54.5" y="481.9" font-size="11.1" fill="#f41c1c" stroke="#f41c1c" stroke-width="0.22" text-anchor="start" >positively correlated</text>
<text x="326.4" y="493.4" font-size="11.3" fill="#999999" stroke="#999999" stroke-width="0.22" text-anchor="end" >ranking scores</text>
<rect x="48.5" y="308.5" width="283" height="176" fill="none" stroke="#9a9a9a" stroke-width="1"/>
<text x="54.1" y="506.9" font-size="11.3" fill="#1a1a1a" stroke="#1a1a1a" stroke-width="0.22" text-anchor="start" >nominal p-value</text>
<text x="204.9" y="506.9" font-size="11.3" fill="#1a1a1a" stroke="#1a1a1a" stroke-width="0.22" text-anchor="start" >&lt;1.0E-20</text>
<text x="54.1" y="519.35" font-size="11.3" fill="#1a1a1a" stroke="#1a1a1a" stroke-width="0.22" text-anchor="start" >false discovery rate q-value</text>
<text x="204.9" y="519.35" font-size="11.3" fill="#1a1a1a" stroke="#1a1a1a" stroke-width="0.22" text-anchor="start" >&lt;1.0E-20</text>
<text x="54.1" y="531.8" font-size="11.3" fill="#1a1a1a" stroke="#1a1a1a" stroke-width="0.22" text-anchor="start" >familywise-error rate p-value</text>
<text x="204.9" y="531.8" font-size="11.3" fill="#1a1a1a" stroke="#1a1a1a" stroke-width="0.22" text-anchor="start" >&lt;1.0E-20</text>
<text x="54.1" y="544.25" font-size="11.3" fill="#1a1a1a" stroke="#1a1a1a" stroke-width="0.22" text-anchor="start" >enrichment score</text>
<text x="204.9" y="544.25" font-size="11.3" fill="#1a1a1a" stroke="#1a1a1a" stroke-width="0.22" text-anchor="start" >0.377</text>
<text x="54.1" y="556.7" font-size="11.3" fill="#1a1a1a" stroke="#1a1a1a" stroke-width="0.22" text-anchor="start" >normalized enrichment score</text>
<text x="204.9" y="556.7" font-size="11.3" fill="#1a1a1a" stroke="#1a1a1a" stroke-width="0.22" text-anchor="start" >3.182</text><clipPath id="clipB2"><rect x="401.5" y="305.5" width="283" height="129"/></clipPath>
<text transform="translate(362.1,371.1) rotate(-90)" font-size="11.55" fill="#1a1a1a" stroke="#1a1a1a" stroke-width="0.22" text-anchor="middle">enrichment score (ES)</text>
<text x="392.4" y="312.5" font-size="11.3" fill="#1a1a1a" stroke="#1a1a1a" stroke-width="0.22" text-anchor="end" >0.00</text>
<line x1="398.9" y1="308.5" x2="401.5" y2="308.5" stroke="#9a9a9a" stroke-width="1"/>
<text x="392.4" y="337.7" font-size="11.3" fill="#1a1a1a" stroke="#1a1a1a" stroke-width="0.22" text-anchor="end" >-0.05</text>
<line x1="398.9" y1="333.7" x2="401.5" y2="333.7" stroke="#9a9a9a" stroke-width="1"/>
<text x="392.4" y="362.9" font-size="11.3" fill="#1a1a1a" stroke="#1a1a1a" stroke-width="0.22" text-anchor="end" >-0.10</text>
<line x1="398.9" y1="358.9" x2="401.5" y2="358.9" stroke="#9a9a9a" stroke-width="1"/>
<text x="392.4" y="388.1" font-size="11.3" fill="#1a1a1a" stroke="#1a1a1a" stroke-width="0.22" text-anchor="end" >-0.15</text>
<line x1="398.9" y1="384.1" x2="401.5" y2="384.1" stroke="#9a9a9a" stroke-width="1"/>
<text x="392.4" y="413.3" font-size="11.3" fill="#1a1a1a" stroke="#1a1a1a" stroke-width="0.22" text-anchor="end" >-0.20</text>
<line x1="398.9" y1="409.3" x2="401.5" y2="409.3" stroke="#9a9a9a" stroke-width="1"/>
<text x="392.4" y="438.5" font-size="11.3" fill="#1a1a1a" stroke="#1a1a1a" stroke-width="0.22" text-anchor="end" >-0.25</text>
<line x1="398.9" y1="434.5" x2="401.5" y2="434.5" stroke="#9a9a9a" stroke-width="1"/>
<line x1="401.5" y1="308.5" x2="684.5" y2="308.5" stroke="#9a9a9a" stroke-width="1"/>
<line x1="574.7" y1="327.7" x2="580.1" y2="327.7" stroke="#0000ff" stroke-width="1.6"/>
<line x1="574.9" y1="340.3" x2="580.1" y2="340.3" stroke="#aaaaaa" stroke-width="1.7"/>
<text x="679.3" y="330.6" font-size="11.3" fill="#1a1a1a" stroke="#1a1a1a" stroke-width="0.22" text-anchor="end" >enrichment profile</text>
<text x="679.3" y="342.6" font-size="11.3" fill="#1a1a1a" stroke="#1a1a1a" stroke-width="0.22" text-anchor="end" >hits</text>
<text x="414.2" y="418.4" font-size="11.3" fill="#1a1a1a" stroke="#1a1a1a" stroke-width="0.22" text-anchor="start" >pathway enrichment</text>
<text x="414.2" y="430.9" font-size="11.3" fill="#1a1a1a" stroke="#1a1a1a" stroke-width="0.22" text-anchor="start" >E2F targets</text>
<polyline points="401.5,312.3 402.8,312.3 402.8,314.17 404.1,314.17 404.1,315.5 405.65,315.5 405.65,317.67 407.2,317.67 407.2,319.01 409.3,319.01 409.3,315.55 410.85,315.55 410.85,315.64 412.4,315.64 412.4,315.38 413.77,315.38 413.77,316.88 415.13,316.88 415.13,318.15 416.5,318.15 416.5,319.81 418.1,319.81 418.1,317.73 419.7,317.73 419.7,315.77 421.25,315.77 421.25,314.22 422.8,314.22 422.8,312.85 424.35,312.85 424.35,311.07 425.9,311.07 425.9,309.86 427.45,309.86 427.45,311.47 429,311.47 429,313.26 430.55,313.26 430.55,313.06 432.1,313.06 432.1,312.32 433.65,312.32 433.65,314.18 435.2,314.18 435.2,315.34 436.6,315.34 436.6,316.25 438,316.25 438,316.6 439.4,316.6 439.4,317.39 440.95,317.39 440.95,317.23 442.5,317.23 442.5,317.86 444.05,317.86 444.05,319.46 445.6,319.46 445.6,321.51 446.97,321.51 446.97,322.73 448.33,322.73 448.33,324.54 449.7,324.54 449.7,325.57 451.25,325.57 451.25,325.1 452.8,325.1 452.8,324.62 454.2,324.62 454.2,326.43 455.6,326.43 455.6,327.8 457,327.8 457,329.76 458.55,329.76 458.55,331.95 460.1,331.95 460.1,333.84 462.2,333.84 462.2,329.97 463.57,329.97 463.57,330.57 464.93,330.57 464.93,330.49 466.3,330.49 466.3,331.41 468.03,331.41 468.03,331.79 469.77,331.79 469.77,332.36 471.5,332.36 471.5,332.91 473.05,332.91 473.05,335.01 474.6,335.01 474.6,336.35 476.15,336.35 476.15,337.95 477.7,337.95 477.7,339.74 479.07,339.74 479.07,340.81 480.43,340.81 480.43,340.82 481.8,340.82 481.8,340.84 483.4,340.84 483.4,342.64 485,342.64 485,344.06 487,344.06 487,342.79 488.73,342.79 488.73,343.78 490.47,343.78 490.47,345.76 492.2,345.76 492.2,347.04 493.6,347.04 493.6,348.57 495,348.57 495,348.9 496.4,348.9 496.4,349.12 498.4,349.12 498.4,348.6 499.8,348.6 499.8,350.26 501.2,350.26 501.2,351.27 502.6,351.27 502.6,352.75 504.15,352.75 504.15,354.43 505.7,354.43 505.7,355.22 507.25,355.22 507.25,356.66 508.8,356.66 508.8,358.28 510.53,358.28 510.53,359.43 512.27,359.43 512.27,360.65 514,360.65 514,361.84 515.73,361.84 515.73,363.15 517.47,363.15 517.47,364.33 519.2,364.33 519.2,365.34 520.57,365.34 520.57,366.21 521.93,366.21 521.93,367.7 523.3,367.7 523.3,369.33 524.7,369.33 524.7,370.28 526.1,370.28 526.1,372.31 527.5,372.31 527.5,373.17 528.87,373.17 528.87,374.22 530.23,374.22 530.23,375.24 531.6,375.24 531.6,376.22 532.97,376.22 532.97,377.87 534.33,377.87 534.33,378.44 535.7,378.44 535.7,379.19 537.6,379.19 537.6,381.45 539.5,381.45 539.5,382.99 541.25,382.99 541.25,384.36 543,384.36 543,386.54 544.37,386.54 544.37,387.81 545.73,387.81 545.73,389.64 547.1,389.64 547.1,391.14 548.83,391.14 548.83,392.83 550.57,392.83 550.57,395.43 552.3,395.43 552.3,396.86 554.03,396.86 554.03,399.14 555.77,399.14 555.77,401.32 557.5,401.32 557.5,403.43 559.23,403.43 559.23,405.62 560.97,405.62 560.97,407.69 562.7,407.69 562.7,409.37 564.43,409.37 564.43,410.97 566.17,410.97 566.17,413.04 567.9,413.04 567.9,414.76 569.63,414.76 569.63,416.07 571.37,416.07 571.37,416.92 573.1,416.92 573.1,418.97 574.47,418.97 574.47,418.69 575.83,418.69 575.83,419.22 577.2,419.22 577.2,420.05 578.6,420.05 578.6,421.35 580,421.35 580,422.03 581.4,422.03 581.4,423.93 582.77,423.93 582.77,424.12 584.13,424.12 584.13,424.87 585.5,424.87 585.5,425.14 587.05,425.14 587.05,426.71 588.6,426.71 588.6,428.2 590.15,428.2 590.15,429.78 591.7,429.78 591.7,431.42 593.25,431.42 593.25,429.75 594.8,429.75 594.8,427.91 596.2,427.91 596.2,428.67 597.6,428.67 597.6,429.14 599,429.14 599,430.08 600.37,430.08 600.37,430.08 601.73,430.08 601.73,429.46 603.1,429.46 603.1,429.27 604.65,429.27 604.65,430.9 606.2,430.9 606.2,432.32 607.75,432.32 607.75,429.2 609.3,429.2 609.3,427.07 611.03,427.07 611.03,428.29 612.77,428.29 612.77,429 614.5,429 614.5,430.71 616.05,430.71 616.05,429.33 617.6,429.33 617.6,427.56 619.15,427.56 619.15,425.56 620.7,425.56 620.7,422.98 622.25,422.98 622.25,421.38 623.8,421.38 623.8,419.67 625.4,419.67 625.4,416.91 627,416.91 627,413.7 628.55,413.7 628.55,410.8 630.1,410.8 630.1,408.79 631.65,408.79 631.65,409.02 633.2,409.02 633.2,409.86 635.2,409.86 635.2,400.79 636.6,400.79 636.6,399.63 638,399.63 638,399.67 639.4,399.67 639.4,399.58 640.95,399.58 640.95,400.57 642.5,400.57 642.5,401.25 644.6,401.25 644.6,394.06 646.7,394.06 646.7,379.28 648.25,379.28 648.25,379.86 649.8,379.86 649.8,380.45 650.8,380.45 650.8,370.85 652.17,370.85 652.17,371.09 653.53,371.09 653.53,370.15 654.9,370.15 654.9,370.36 656.45,370.36 656.45,364.8 658,364.8 658,359.25 659.4,359.25 659.4,358.83 660.8,358.83 660.8,358.21 662.2,358.21 662.2,357.87 664.3,357.87 664.3,352.91 665.67,352.91 665.67,352.3 667.03,352.3 667.03,351.74 668.4,351.74 668.4,351.18 669.9,351.18 669.9,344.05 671.25,344.05 671.25,343.7 672.6,343.7 672.6,343.5 673.6,343.5 673.6,329.67 675.7,329.67 675.7,320.22 677.7,320.22 677.7,316.4 679.3,316.4 679.3,315.95 680.9,315.95 680.9,316.22 682.9,316.22 682.9,311.65 684.5,311.65 684.5,310.2" fill="none" stroke="#0000ff" stroke-width="3.1" stroke-linejoin="round" stroke-linecap="butt" clip-path="url(#clipB2)"/>
<rect x="406.7" y="434.5" width="1" height="12.6" fill="#808080"/>
<rect x="408.8" y="434.5" width="3.6" height="12.6" fill="#a0a0a0"/>
<rect x="416.5" y="434.5" width="1.6" height="12.6" fill="#000000"/>
<rect x="419.7" y="434.5" width="1.5" height="12.6" fill="#3c3c3c"/>
<rect x="421.7" y="434.5" width="1.6" height="12.6" fill="#282828"/>
<rect x="424.8" y="434.5" width="1.1" height="12.6" fill="#000000"/>
<rect x="430.5" y="434.5" width="1.6" height="12.6" fill="#969696"/>
<rect x="435.2" y="434.5" width="1" height="12.6" fill="#808080"/>
<rect x="438.8" y="434.5" width="1.4" height="12.6" fill="#505050"/>
<rect x="441.9" y="434.5" width="1.1" height="12.6" fill="#969696"/>
<rect x="451.8" y="434.5" width="1" height="12.6" fill="#646464"/>
<rect x="461.1" y="434.5" width="2.6" height="12.6" fill="#505050"/>
<rect x="467.3" y="434.5" width="1.1" height="12.6" fill="#969696"/>
<rect x="469.4" y="434.5" width="1" height="12.6" fill="#808080"/>
<rect x="472" y="434.5" width="1.6" height="12.6" fill="#969696"/>
<rect x="480.3" y="434.5" width="2.1" height="12.6" fill="#646464"/>
<rect x="484.4" y="434.5" width="1.1" height="12.6" fill="#969696"/>
<rect x="487" y="434.5" width="2.6" height="12.6" fill="#5a5a5a"/>
<rect x="493.2" y="434.5" width="1.1" height="12.6" fill="#969696"/>
<rect x="494.8" y="434.5" width="1" height="12.6" fill="#808080"/>
<rect x="499" y="434.5" width="1.5" height="12.6" fill="#282828"/>
<rect x="503.1" y="434.5" width="1" height="12.6" fill="#969696"/>
<rect x="509.8" y="434.5" width="1.6" height="12.6" fill="#969696"/>
<rect x="511.9" y="434.5" width="1" height="12.6" fill="#646464"/>
<rect x="514.5" y="434.5" width="3.1" height="12.6" fill="#8c8c8c"/>
<rect x="519.7" y="434.5" width="1.5" height="12.6" fill="#000000"/>
<rect x="528.5" y="434.5" width="1.5" height="12.6" fill="#787878"/>
<rect x="530" y="434.5" width="1.6" height="12.6" fill="#1e1e1e"/>
<rect x="533.7" y="434.5" width="1.5" height="12.6" fill="#000000"/>
<rect x="536.8" y="434.5" width="2.1" height="12.6" fill="#464646"/>
<rect x="540.4" y="434.5" width="2.6" height="12.6" fill="#8c8c8c"/>
<rect x="544.6" y="434.5" width="1" height="12.6" fill="#000000"/>
<rect x="548.7" y="434.5" width="1.6" height="12.6" fill="#646464"/>
<rect x="551.3" y="434.5" width="1.5" height="12.6" fill="#000000"/>
<rect x="558" y="434.5" width="1.1" height="12.6" fill="#808080"/>
<rect x="560.1" y="434.5" width="1" height="12.6" fill="#000000"/>
<rect x="564.8" y="434.5" width="1" height="12.6" fill="#646464"/>
<rect x="570" y="434.5" width="1" height="12.6" fill="#969696"/>
<rect x="574.1" y="434.5" width="2.1" height="12.6" fill="#646464"/>
<rect x="576.2" y="434.5" width="1.5" height="12.6" fill="#000000"/>
<rect x="578.8" y="434.5" width="1" height="12.6" fill="#000000"/>
<rect x="581.9" y="434.5" width="1" height="12.6" fill="#969696"/>
<rect x="584.5" y="434.5" width="2" height="12.6" fill="#000000"/>
<rect x="594.8" y="434.5" width="2.6" height="12.6" fill="#000000"/>
<rect x="599.5" y="434.5" width="1.5" height="12.6" fill="#808080"/>
<rect x="602.6" y="434.5" width="1" height="12.6" fill="#969696"/>
<rect x="604.7" y="434.5" width="2.6" height="12.6" fill="#000000"/>
<rect x="609.9" y="434.5" width="4.1" height="12.6" fill="#787878"/>
<rect x="614" y="434.5" width="1" height="12.6" fill="#969696"/>
<rect x="615" y="434.5" width="1.1" height="12.6" fill="#000000"/>
<rect x="618.1" y="434.5" width="1.6" height="12.6" fill="#464646"/>
<rect x="619.7" y="434.5" width="2.1" height="12.6" fill="#646464"/>
<rect x="621.8" y="434.5" width="2.6" height="12.6" fill="#3c3c3c"/>
<rect x="625.9" y="434.5" width="5.2" height="12.6" fill="#000000"/>
<rect x="631.1" y="434.5" width="1.6" height="12.6" fill="#808080"/>
<rect x="634.7" y="434.5" width="1.6" height="12.6" fill="#969696"/>
<rect x="637.8" y="434.5" width="2.1" height="12.6" fill="#000000"/>
<rect x="639.9" y="434.5" width="2.1" height="12.6" fill="#808080"/>
<rect x="642.5" y="434.5" width="1.6" height="12.6" fill="#969696"/>
<rect x="644.6" y="434.5" width="1" height="12.6" fill="#646464"/>
<rect x="647.2" y="434.5" width="2.6" height="12.6" fill="#000000"/>
<rect x="649.8" y="434.5" width="1" height="12.6" fill="#a0a0a0"/>
<rect x="652.9" y="434.5" width="1.5" height="12.6" fill="#646464"/>
<rect x="655.5" y="434.5" width="2" height="12.6" fill="#a0a0a0"/>
<rect x="657.5" y="434.5" width="1.6" height="12.6" fill="#3c3c3c"/>
<rect x="659.6" y="434.5" width="3.1" height="12.6" fill="#000000"/>
<rect x="664.8" y="434.5" width="1.5" height="12.6" fill="#969696"/>
<rect x="667.4" y="434.5" width="8.3" height="12.6" fill="#8c8c8c"/>
<rect x="676.7" y="434.5" width="3.6" height="12.6" fill="#282828"/>
<rect x="681.4" y="434.5" width="3.1" height="12.6" fill="#808080"/>
<rect x="401.5" y="447.1" width="2.8" height="12.1" fill="#d00000"/>
<rect x="404" y="447.1" width="1.8" height="12.1" fill="#e70000"/>
<rect x="405.5" y="447.1" width="2.3" height="12.1" fill="#cd0000"/>
<rect x="407.5" y="447.1" width="2.8" height="12.1" fill="#ea0000"/>
<rect x="410" y="447.1" width="1.5" height="12.1" fill="#de0000"/>
<rect x="411.2" y="447.1" width="1.5" height="12.1" fill="#e10000"/>
<rect x="412.4" y="447.1" width="2.8" height="12.1" fill="#cf0000"/>
<rect x="414.9" y="447.1" width="1.8" height="12.1" fill="#e90000"/>
<rect x="416.4" y="447.1" width="1.8" height="12.1" fill="#c50000"/>
<rect x="417.9" y="447.1" width="1.1" height="12.1" fill="#c30000"/>
<rect x="418.7" y="447.1" width="2.3" height="12.1" fill="#c40000"/>
<rect x="420.7" y="447.1" width="1.3" height="12.1" fill="#da0000"/>
<rect x="421.7" y="447.1" width="2.8" height="12.1" fill="#cf0000"/>
<rect x="424.2" y="447.1" width="1.1" height="12.1" fill="#d90000"/>
<rect x="425" y="447.1" width="2.3" height="12.1" fill="#d40000"/>
<rect x="427" y="447.1" width="1.5" height="12.1" fill="#cf0000"/>
<rect x="428.2" y="447.1" width="2.3" height="12.1" fill="#dd0000"/>
<rect x="430.2" y="447.1" width="2.3" height="12.1" fill="#d20000"/>
<rect x="432.2" y="447.1" width="1.1" height="12.1" fill="#c50000"/>
<rect x="433" y="447.1" width="1.1" height="12.1" fill="#e30000"/>
<rect x="433.8" y="447.1" width="2.3" height="12.1" fill="#c40000"/>
<rect x="435.8" y="447.1" width="1.8" height="12.1" fill="#e70000"/>
<rect x="437.3" y="447.1" width="1.5" height="12.1" fill="#cd0000"/>
<rect x="438.5" y="447.1" width="2.8" height="12.1" fill="#d10000"/>
<rect x="441" y="447.1" width="1.3" height="12.1" fill="#c30000"/>
<rect x="442" y="447.1" width="2.8" height="12.1" fill="#d84242"/>
<rect x="444.5" y="447.1" width="2.3" height="12.1" fill="#db4343"/>
<rect x="446.5" y="447.1" width="1.3" height="12.1" fill="#e04444"/>
<rect x="447.5" y="447.1" width="1.3" height="12.1" fill="#d34040"/>
<rect x="448.5" y="447.1" width="2.3" height="12.1" fill="#dd4343"/>
<rect x="450.5" y="447.1" width="1.3" height="12.1" fill="#d34040"/>
<rect x="451.5" y="447.1" width="2.3" height="12.1" fill="#f64b4b"/>
<rect x="453.5" y="447.1" width="1.1" height="12.1" fill="#f24a4a"/>
<rect x="454.3" y="447.1" width="1.3" height="12.1" fill="#f14949"/>
<rect x="455.3" y="447.1" width="1.8" height="12.1" fill="#e94747"/>
<rect x="456.8" y="447.1" width="1.1" height="12.1" fill="#d64141"/>
<rect x="457.6" y="447.1" width="1.5" height="12.1" fill="#cc3e3e"/>
<rect x="458.8" y="447.1" width="1.5" height="12.1" fill="#ef4949"/>
<rect x="460" y="447.1" width="1.3" height="12.1" fill="#cb3e3e"/>
<rect x="461" y="447.1" width="2.8" height="12.1" fill="#f64b4b"/>
<rect x="463.5" y="447.1" width="1.1" height="12.1" fill="#d74141"/>
<rect x="464.3" y="447.1" width="1.3" height="12.1" fill="#e74646"/>
<rect x="465.3" y="447.1" width="2.3" height="12.1" fill="#dd4343"/>
<rect x="467.3" y="447.1" width="1.5" height="12.1" fill="#cc3e3e"/>
<rect x="468.5" y="447.1" width="1.5" height="12.1" fill="#cb3e3e"/>
<rect x="469.7" y="447.1" width="1.1" height="12.1" fill="#cb3e3e"/>
<rect x="470.5" y="447.1" width="2.8" height="12.1" fill="#e24545"/>
<rect x="473" y="447.1" width="1.3" height="12.1" fill="#cf3f3f"/>
<rect x="474" y="447.1" width="1.5" height="12.1" fill="#d14040"/>
<rect x="475.2" y="447.1" width="1.5" height="12.1" fill="#e74646"/>
<rect x="476.4" y="447.1" width="1.1" height="12.1" fill="#e84646"/>
<rect x="477.2" y="447.1" width="1.8" height="12.1" fill="#ed4848"/>
<rect x="478.7" y="447.1" width="2.3" height="12.1" fill="#e74646"/>
<rect x="480.7" y="447.1" width="1.8" height="12.1" fill="#d03f3f"/>
<rect x="482.2" y="447.1" width="2.8" height="12.1" fill="#d94242"/>
<rect x="484.7" y="447.1" width="1.1" height="12.1" fill="#dd6776"/>
<rect x="485.5" y="447.1" width="1.3" height="12.1" fill="#f37182"/>
<rect x="486.5" y="447.1" width="1.1" height="12.1" fill="#ec6e7e"/>
<rect x="487.3" y="447.1" width="2.8" height="12.1" fill="#ff788a"/>
<rect x="489.8" y="447.1" width="1.5" height="12.1" fill="#fb7586"/>
<rect x="491" y="447.1" width="1.1" height="12.1" fill="#ec6e7e"/>
<rect x="491.8" y="447.1" width="2.3" height="12.1" fill="#d56372"/>
<rect x="493.8" y="447.1" width="2.3" height="12.1" fill="#db6675"/>
<rect x="495.8" y="447.1" width="1.3" height="12.1" fill="#ff7889"/>
<rect x="496.8" y="447.1" width="2.3" height="12.1" fill="#f87484"/>
<rect x="498.8" y="447.1" width="2.3" height="12.1" fill="#ff7a8b"/>
<rect x="500.8" y="447.1" width="2.3" height="12.1" fill="#fd7687"/>
<rect x="502.8" y="447.1" width="1.8" height="12.1" fill="#ff788a"/>
<rect x="504.3" y="447.1" width="1.5" height="12.1" fill="#d76473"/>
<rect x="505.5" y="447.1" width="1.8" height="12.1" fill="#d76473"/>
<rect x="507" y="447.1" width="1.3" height="12.1" fill="#f57283"/>
<rect x="508" y="447.1" width="1.5" height="12.1" fill="#e86c7c"/>
<rect x="509.2" y="447.1" width="1.1" height="12.1" fill="#d76472"/>
<rect x="510" y="447.1" width="2.3" height="12.1" fill="#ff7b8c"/>
<rect x="512" y="447.1" width="2.3" height="12.1" fill="#d76473"/>
<rect x="514" y="447.1" width="2.8" height="12.1" fill="#ff7b8d"/>
<rect x="516.5" y="447.1" width="1.5" height="12.1" fill="#e16978"/>
<rect x="517.7" y="447.1" width="1.1" height="12.1" fill="#e66b7a"/>
<rect x="518.5" y="447.1" width="1.8" height="12.1" fill="#da6674"/>
<rect x="520" y="447.1" width="2.3" height="12.1" fill="#d66472"/>
<rect x="522" y="447.1" width="2.8" height="12.1" fill="#fb7586"/>
<rect x="524.5" y="447.1" width="1.8" height="12.1" fill="#ff7d8f"/>
<rect x="526" y="447.1" width="1.1" height="12.1" fill="#d56371"/>
<rect x="526.8" y="447.1" width="2.8" height="12.1" fill="#e36a79"/>
<rect x="529.3" y="447.1" width="1.1" height="12.1" fill="#fec9f2"/>
<rect x="530.1" y="447.1" width="1.1" height="12.1" fill="#f2bfe7"/>
<rect x="530.9" y="447.1" width="2.8" height="12.1" fill="#fac5ee"/>
<rect x="533.4" y="447.1" width="1.3" height="12.1" fill="#f9c5ed"/>
<rect x="534.4" y="447.1" width="2.3" height="12.1" fill="#f2bfe6"/>
<rect x="536.4" y="447.1" width="1.5" height="12.1" fill="#f3c0e7"/>
<rect x="537.6" y="447.1" width="1.8" height="12.1" fill="#edbbe1"/>
<rect x="539.1" y="447.1" width="2.8" height="12.1" fill="#f0bee5"/>
<rect x="541.6" y="447.1" width="1.5" height="12.1" fill="#ffcaf4"/>
<rect x="542.8" y="447.1" width="1.1" height="12.1" fill="#fcc7f0"/>
<rect x="543.6" y="447.1" width="1.1" height="12.1" fill="#fcc7f0"/>
<rect x="544.4" y="447.1" width="1.5" height="12.1" fill="#f2bfe6"/>
<rect x="545.6" y="447.1" width="1.5" height="12.1" fill="#ffcef8"/>
<rect x="546.8" y="447.1" width="1.3" height="12.1" fill="#f0bee5"/>
<rect x="547.8" y="447.1" width="1.3" height="12.1" fill="#f9c5ed"/>
<rect x="548.8" y="447.1" width="1.1" height="12.1" fill="#ffcef7"/>
<rect x="549.6" y="447.1" width="1.5" height="12.1" fill="#ecbbe1"/>
<rect x="550.8" y="447.1" width="1.5" height="12.1" fill="#c5c5f0"/>
<rect x="552" y="447.1" width="2.8" height="12.1" fill="#c3c3ee"/>
<rect x="554.5" y="447.1" width="1.5" height="12.1" fill="#c2c2ec"/>
<rect x="555.7" y="447.1" width="1.3" height="12.1" fill="#d0d0fe"/>
<rect x="556.7" y="447.1" width="1.5" height="12.1" fill="#c2c2ed"/>
<rect x="557.9" y="447.1" width="2.3" height="12.1" fill="#c8c8f4"/>
<rect x="559.9" y="447.1" width="1.5" height="12.1" fill="#c7c7f3"/>
<rect x="561.1" y="447.1" width="1.5" height="12.1" fill="#ccccf8"/>
<rect x="562.3" y="447.1" width="2.8" height="12.1" fill="#c6c6f1"/>
<rect x="564.8" y="447.1" width="1.1" height="12.1" fill="#d1d1ff"/>
<rect x="565.6" y="447.1" width="2.3" height="12.1" fill="#d1d1ff"/>
<rect x="567.6" y="447.1" width="1.1" height="12.1" fill="#c0c0ea"/>
<rect x="568.4" y="447.1" width="2.8" height="12.1" fill="#d1d1ff"/>
<rect x="570.9" y="447.1" width="2.3" height="12.1" fill="#c4c4f0"/>
<rect x="572.9" y="447.1" width="1.5" height="12.1" fill="#c2c2ec"/>
<rect x="574.1" y="447.1" width="2.3" height="12.1" fill="#d2d2ff"/>
<rect x="576.1" y="447.1" width="2.8" height="12.1" fill="#c0c0eb"/>
<rect x="578.6" y="447.1" width="2.3" height="12.1" fill="#ccccf9"/>
<rect x="580.6" y="447.1" width="1.3" height="12.1" fill="#bfbfea"/>
<rect x="581.6" y="447.1" width="2.3" height="12.1" fill="#cbcbf7"/>
<rect x="583.6" y="447.1" width="1.5" height="12.1" fill="#c6c6f1"/>
<rect x="584.8" y="447.1" width="1.8" height="12.1" fill="#c9c9f5"/>
<rect x="586.3" y="447.1" width="1.3" height="12.1" fill="#c9c9f5"/>
<rect x="587.3" y="447.1" width="1.1" height="12.1" fill="#c3c3ee"/>
<rect x="588.1" y="447.1" width="2.3" height="12.1" fill="#c5c5f1"/>
<rect x="590.1" y="447.1" width="1.1" height="12.1" fill="#d1d1ff"/>
<rect x="590.9" y="447.1" width="1.5" height="12.1" fill="#cbcbf7"/>
<rect x="592.1" y="447.1" width="1.8" height="12.1" fill="#6f6fee"/>
<rect x="593.6" y="447.1" width="2.3" height="12.1" fill="#7878ff"/>
<rect x="595.6" y="447.1" width="1.1" height="12.1" fill="#7070ef"/>
<rect x="596.4" y="447.1" width="1.5" height="12.1" fill="#6666db"/>
<rect x="597.6" y="447.1" width="1.5" height="12.1" fill="#6868df"/>
<rect x="598.8" y="447.1" width="2.3" height="12.1" fill="#7474f8"/>
<rect x="600.8" y="447.1" width="1.3" height="12.1" fill="#6b6be6"/>
<rect x="601.8" y="447.1" width="1.5" height="12.1" fill="#6b6be6"/>
<rect x="603" y="447.1" width="1.5" height="12.1" fill="#7070f0"/>
<rect x="604.2" y="447.1" width="2.8" height="12.1" fill="#7575fa"/>
<rect x="606.7" y="447.1" width="2.8" height="12.1" fill="#6666db"/>
<rect x="609.2" y="447.1" width="1.5" height="12.1" fill="#6f6fed"/>
<rect x="610.4" y="447.1" width="2.3" height="12.1" fill="#6565d8"/>
<rect x="612.4" y="447.1" width="1.8" height="12.1" fill="#7272f4"/>
<rect x="613.9" y="447.1" width="1.8" height="12.1" fill="#7575fa"/>
<rect x="615.4" y="447.1" width="2.3" height="12.1" fill="#7575fa"/>
<rect x="617.4" y="447.1" width="1.8" height="12.1" fill="#6565d9"/>
<rect x="618.9" y="447.1" width="2.3" height="12.1" fill="#7b7bff"/>
<rect x="620.9" y="447.1" width="2.8" height="12.1" fill="#6a6ae3"/>
<rect x="623.4" y="447.1" width="2.3" height="12.1" fill="#7c7cff"/>
<rect x="625.4" y="447.1" width="1.8" height="12.1" fill="#6666db"/>
<rect x="626.9" y="447.1" width="1.3" height="12.1" fill="#2000d0"/>
<rect x="627.9" y="447.1" width="1.3" height="12.1" fill="#2200da"/>
<rect x="628.9" y="447.1" width="1.5" height="12.1" fill="#2000cf"/>
<rect x="630.1" y="447.1" width="2.3" height="12.1" fill="#2000cf"/>
<rect x="632.1" y="447.1" width="2.8" height="12.1" fill="#2200de"/>
<rect x="634.6" y="447.1" width="2.8" height="12.1" fill="#2000d1"/>
<rect x="637.1" y="447.1" width="2.8" height="12.1" fill="#1d00be"/>
<rect x="639.6" y="447.1" width="2.8" height="12.1" fill="#1f00c8"/>
<rect x="642.1" y="447.1" width="1.1" height="12.1" fill="#2100d7"/>
<rect x="642.9" y="447.1" width="1.5" height="12.1" fill="#2000ce"/>
<rect x="644.1" y="447.1" width="2.3" height="12.1" fill="#2300e4"/>
<rect x="646.1" y="447.1" width="1.1" height="12.1" fill="#1d00be"/>
<rect x="646.9" y="447.1" width="1.1" height="12.1" fill="#2300e4"/>
<rect x="647.7" y="447.1" width="2.3" height="12.1" fill="#1d00bd"/>
<rect x="649.7" y="447.1" width="1.8" height="12.1" fill="#4200b5"/>
<rect x="651.2" y="447.1" width="1.3" height="12.1" fill="#4200b4"/>
<rect x="652.2" y="447.1" width="1.3" height="12.1" fill="#4600c1"/>
<rect x="653.2" y="447.1" width="1.3" height="12.1" fill="#3f00ac"/>
<rect x="654.2" y="447.1" width="2.3" height="12.1" fill="#4100b3"/>
<rect x="656.2" y="447.1" width="1.8" height="12.1" fill="#3e00ab"/>
<rect x="657.7" y="447.1" width="2.3" height="12.1" fill="#4400bb"/>
<rect x="659.7" y="447.1" width="1.1" height="12.1" fill="#4000b0"/>
<rect x="660.5" y="447.1" width="2.8" height="12.1" fill="#4200b4"/>
<rect x="663" y="447.1" width="2.3" height="12.1" fill="#4000b0"/>
<rect x="665" y="447.1" width="2.3" height="12.1" fill="#4100b2"/>
<rect x="667" y="447.1" width="1.3" height="12.1" fill="#3a009f"/>
<rect x="668" y="447.1" width="1.8" height="12.1" fill="#3f00af"/>
<rect x="669.5" y="447.1" width="1.5" height="12.1" fill="#4600bf"/>
<rect x="670.7" y="447.1" width="2.3" height="12.1" fill="#3c00a6"/>
<rect x="672.7" y="447.1" width="1.1" height="12.1" fill="#4100b3"/>
<rect x="673.5" y="447.1" width="2.3" height="12.1" fill="#3d00a7"/>
<rect x="675.5" y="447.1" width="2.3" height="12.1" fill="#4200b4"/>
<rect x="677.5" y="447.1" width="2.3" height="12.1" fill="#3e00aa"/>
<rect x="679.5" y="447.1" width="2.3" height="12.1" fill="#4600c1"/>
<rect x="681.5" y="447.1" width="2.8" height="12.1" fill="#4200b5"/>
<rect x="684" y="447.1" width="0.8" height="12.1" fill="#4600bf"/>
<polygon points="401.5,471.9 401.5,459.7 445,459.7 460,460.6 520,465.9 570,471.9 650,483.5 684.5,483.5 684.5,471.9" fill="#b4b4b4"/>
<line x1="401.5" y1="471.9" x2="684.5" y2="471.9" stroke="#a8a8a8" stroke-width="0.8"/>
<text x="679.6" y="469" font-size="11.3" fill="#2222ee" stroke="#2222ee" stroke-width="0.22" text-anchor="end" >negatively correlated</text>
<text x="407.5" y="481.9" font-size="11.1" fill="#f41c1c" stroke="#f41c1c" stroke-width="0.22" text-anchor="start" >positively correlated</text>
<text x="679.4" y="493.4" font-size="11.3" fill="#999999" stroke="#999999" stroke-width="0.22" text-anchor="end" >ranking scores</text>
<rect x="401.5" y="308.5" width="283" height="176" fill="none" stroke="#9a9a9a" stroke-width="1"/>
<text x="407.1" y="506.9" font-size="11.3" fill="#1a1a1a" stroke="#1a1a1a" stroke-width="0.22" text-anchor="start" >nominal p-value</text>
<text x="557.9" y="506.9" font-size="11.3" fill="#1a1a1a" stroke="#1a1a1a" stroke-width="0.22" text-anchor="start" >&lt;1.0E-20</text>
<text x="407.1" y="519.35" font-size="11.3" fill="#1a1a1a" stroke="#1a1a1a" stroke-width="0.22" text-anchor="start" >false discovery rate q-value</text>
<text x="557.9" y="519.35" font-size="11.3" fill="#1a1a1a" stroke="#1a1a1a" stroke-width="0.22" text-anchor="start" >8.65E-03</text>
<text x="407.1" y="531.8" font-size="11.3" fill="#1a1a1a" stroke="#1a1a1a" stroke-width="0.22" text-anchor="start" >familywise-error rate p-value</text>
<text x="557.9" y="531.8" font-size="11.3" fill="#1a1a1a" stroke="#1a1a1a" stroke-width="0.22" text-anchor="start" >1.40E-02</text>
<text x="407.1" y="544.25" font-size="11.3" fill="#1a1a1a" stroke="#1a1a1a" stroke-width="0.22" text-anchor="start" >enrichment score</text>
<text x="557.9" y="544.25" font-size="11.3" fill="#1a1a1a" stroke="#1a1a1a" stroke-width="0.22" text-anchor="start" >-0.261</text>
<text x="407.1" y="556.7" font-size="11.3" fill="#1a1a1a" stroke="#1a1a1a" stroke-width="0.22" text-anchor="start" >normalized enrichment score</text>
<text x="557.9" y="556.7" font-size="11.3" fill="#1a1a1a" stroke="#1a1a1a" stroke-width="0.22" text-anchor="start" >-2.391</text><clipPath id="clipA3"><rect x="48.5" y="582.4" width="283" height="129"/></clipPath>
<text transform="translate(9.1,648) rotate(-90)" font-size="11.55" fill="#1a1a1a" stroke="#1a1a1a" stroke-width="0.22" text-anchor="middle">enrichment score (ES)</text>
<text x="39.4" y="589.4" font-size="11.3" fill="#1a1a1a" stroke="#1a1a1a" stroke-width="0.22" text-anchor="end" >0.20</text>
<line x1="45.9" y1="585.4" x2="48.5" y2="585.4" stroke="#9a9a9a" stroke-width="1"/>
<text x="39.4" y="614.6" font-size="11.3" fill="#1a1a1a" stroke="#1a1a1a" stroke-width="0.22" text-anchor="end" >0.15</text>
<line x1="45.9" y1="610.6" x2="48.5" y2="610.6" stroke="#9a9a9a" stroke-width="1"/>
<text x="39.4" y="639.8" font-size="11.3" fill="#1a1a1a" stroke="#1a1a1a" stroke-width="0.22" text-anchor="end" >0.10</text>
<line x1="45.9" y1="635.8" x2="48.5" y2="635.8" stroke="#9a9a9a" stroke-width="1"/>
<text x="39.4" y="665" font-size="11.3" fill="#1a1a1a" stroke="#1a1a1a" stroke-width="0.22" text-anchor="end" >0.05</text>
<line x1="45.9" y1="661" x2="48.5" y2="661" stroke="#9a9a9a" stroke-width="1"/>
<text x="39.4" y="690.2" font-size="11.3" fill="#1a1a1a" stroke="#1a1a1a" stroke-width="0.22" text-anchor="end" >0.00</text>
<line x1="45.9" y1="686.2" x2="48.5" y2="686.2" stroke="#9a9a9a" stroke-width="1"/>
<text x="39.4" y="715.4" font-size="11.3" fill="#1a1a1a" stroke="#1a1a1a" stroke-width="0.22" text-anchor="end" >-0.05</text>
<line x1="45.9" y1="711.4" x2="48.5" y2="711.4" stroke="#9a9a9a" stroke-width="1"/>
<line x1="48.5" y1="686.2" x2="331.5" y2="686.2" stroke="#9a9a9a" stroke-width="1"/>
<line x1="221.7" y1="604.6" x2="227.1" y2="604.6" stroke="#ff0000" stroke-width="1.6"/>
<line x1="221.9" y1="617.2" x2="227.1" y2="617.2" stroke="#aaaaaa" stroke-width="1.7"/>
<text x="326.3" y="607.5" font-size="11.3" fill="#1a1a1a" stroke="#1a1a1a" stroke-width="0.22" text-anchor="end" >enrichment profile</text>
<text x="326.3" y="619.5" font-size="11.3" fill="#1a1a1a" stroke="#1a1a1a" stroke-width="0.22" text-anchor="end" >hits</text>
<text x="61.2" y="695.3" font-size="11.3" fill="#1a1a1a" stroke="#1a1a1a" stroke-width="0.22" text-anchor="start" >pathway enrichment</text>
<text x="61.2" y="707.8" font-size="11.3" fill="#1a1a1a" stroke="#1a1a1a" stroke-width="0.22" text-anchor="start" >E2F motif</text>
<polyline points="50.5,681.6 52.1,681.6 52.1,675.72 53.8,675.72 53.8,670.9 55.9,670.9 55.9,674.52 57.3,674.52 57.3,659.31 59.4,659.31 59.4,662.05 60.75,662.05 60.75,657.99 62.1,657.99 62.1,653.58 63.35,653.58 63.35,655.13 64.6,655.13 64.6,656.45 66.15,656.45 66.15,658.66 67.7,658.66 67.7,660.88 69.25,660.88 69.25,657.07 70.8,657.07 70.8,652.67 72.35,652.67 72.35,652 73.9,652 73.9,651.32 75.45,651.32 75.45,649.16 77,649.16 77,646.12 78.55,646.12 78.55,643.81 80.1,643.81 80.1,642.26 81.65,642.26 81.65,642.22 83.2,642.22 83.2,642.53 84.3,642.53 84.3,631.74 86.3,631.74 86.3,622.68 87.9,622.68 87.9,622.36 89.5,622.36 89.5,622.49 91.05,622.49 91.05,623.63 92.6,623.63 92.6,625.56 93.97,625.56 93.97,622.87 95.33,622.87 95.33,620.64 96.7,620.64 96.7,618.07 98.1,618.07 98.1,616.81 99.5,616.81 99.5,614.77 100.9,614.77 100.9,613.1 102.9,613.1 102.9,602.72 104.3,602.72 104.3,602.93 105.7,602.93 105.7,602.7 107.1,602.7 107.1,603.06 108.65,603.06 108.65,601.95 110.2,601.95 110.2,600.54 111.75,600.54 111.75,598.52 113.3,598.52 113.3,596.33 114.67,596.33 114.67,596.19 116.03,596.19 116.03,597.04 117.4,597.04 117.4,597.39 119.5,597.39 119.5,593.36 121.05,593.36 121.05,591.31 122.6,591.31 122.6,589.76 124,589.76 124,590.25 125.4,590.25 125.4,590.5 126.8,590.5 126.8,590.94 128.17,590.94 128.17,592.68 129.53,592.68 129.53,593.35 130.9,593.35 130.9,594.04 132.45,594.04 132.45,595.34 134,595.34 134,596.26 136.1,596.26 136.1,594.59 137.65,594.59 137.65,595.6 139.2,595.6 139.2,597.59 140.93,597.59 140.93,599.57 142.67,599.57 142.67,602.83 144.4,602.83 144.4,604.9 146.13,604.9 146.13,604.95 147.87,604.95 147.87,606.07 149.6,606.07 149.6,606.86 151.33,606.86 151.33,607.31 153.07,607.31 153.07,608.22 154.8,608.22 154.8,609.43 156.5,609.43 156.5,610.98 158.2,610.98 158.2,613.19 159.9,613.19 159.9,615.58 161.47,615.58 161.47,617.44 163.05,617.44 163.05,619.36 164.62,619.36 164.62,621.26 166.2,621.26 166.2,623.62 167.75,623.62 167.75,626.11 169.3,626.11 169.3,628.44 170.85,628.44 170.85,630.26 172.4,630.26 172.4,632.7 173.95,632.7 173.95,635.51 175.5,635.51 175.5,637.66 177.05,637.66 177.05,640.9 178.6,640.9 178.6,642.97 180.15,642.97 180.15,645.07 181.7,645.07 181.7,647.12 183.25,647.12 183.25,649.14 184.8,649.14 184.8,651.84 186.53,651.84 186.53,652.51 188.27,652.51 188.27,653.35 190,653.35 190,655.2 191.37,655.2 191.37,656.45 192.73,656.45 192.73,656.99 194.1,656.99 194.1,658.34 195.5,658.34 195.5,660.64 196.9,660.64 196.9,663.51 198.3,663.51 198.3,666.04 199.85,666.04 199.85,668.06 201.4,668.06 201.4,671 202.95,671 202.95,669.71 204.5,669.71 204.5,669.24 206.05,669.24 206.05,670.67 207.6,670.67 207.6,672.03 209.15,672.03 209.15,674.75 210.7,674.75 210.7,677.35 212.25,677.35 212.25,678.02 213.8,678.02 213.8,678.94 215.2,678.94 215.2,681.21 216.6,681.21 216.6,683.13 218,683.13 218,685.14 219.37,685.14 219.37,685.92 220.73,685.92 220.73,687.9 222.1,687.9 222.1,688.29 223.65,688.29 223.65,687.27 225.2,687.27 225.2,686.55 226.6,686.55 226.6,686.35 228,686.35 228,685.53 229.4,685.53 229.4,685.93 230.95,685.93 230.95,686.63 232.5,686.63 232.5,687.9 234.05,687.9 234.05,689.19 235.6,689.19 235.6,690.76 237,690.76 237,691.4 238.4,691.4 238.4,692.08 239.8,692.08 239.8,692.82 241.17,692.82 241.17,693.71 242.53,693.71 242.53,694.44 243.9,694.44 243.9,694.97 245.27,694.97 245.27,696.27 246.63,696.27 246.63,698.05 248,698.05 248,700.11 249.4,700.11 249.4,701.23 250.8,701.23 250.8,702.77 252.2,702.77 252.2,704.55 254.3,704.55 254.3,700.52 255.85,700.52 255.85,701.25 257.4,701.25 257.4,702.97 258.77,702.97 258.77,703.53 260.13,703.53 260.13,703.56 261.5,703.56 261.5,704.61 262.9,704.61 262.9,705.31 264.3,705.31 264.3,705.63 265.7,705.63 265.7,706.21 267.25,706.21 267.25,703.83 268.8,703.83 268.8,701.93 270.17,701.93 270.17,700.37 271.53,700.37 271.53,699.36 272.9,699.36 272.9,697.9 274.3,697.9 274.3,695.9 275.7,695.9 275.7,694.79 277.1,694.79 277.1,692.77 279.1,692.77 279.1,690.96 280.65,690.96 280.65,687.04 282.2,687.04 282.2,682.1 283.8,682.1 283.8,683 285.4,683 285.4,683.78 286.77,683.78 286.77,682.35 288.13,682.35 288.13,680.61 289.5,680.61 289.5,679.36 290.87,679.36 290.87,680.45 292.23,680.45 292.23,681.85 293.6,681.85 293.6,683.25 295,683.25 295,683.41 296.4,683.41 296.4,684.35 297.8,684.35 297.8,684.12 299.53,684.12 299.53,684.3 301.27,684.3 301.27,684.06 303,684.06 303,683.85 304.37,683.85 304.37,685.7 305.73,685.7 305.73,687.34 307.1,687.34 307.1,689.27 309.2,689.27 309.2,681.71 310.75,681.71 310.75,677.81 312.3,677.81 312.3,673.97 314.4,673.97 314.4,675.88 315.95,675.88 315.95,679.05 317.5,679.05 317.5,682.3 319.05,682.3 319.05,679.8 320.6,679.8 320.6,676.67 322.15,676.67 322.15,677.32 323.7,677.32 323.7,678.3 325.1,678.3 325.1,679.25 326.5,679.25 326.5,680.92 327.9,680.92 327.9,682.95 329.9,682.95 329.9,684.3 331.5,684.3 331.5,676.3" fill="none" stroke="#ff3300" stroke-width="3.1" stroke-linejoin="round" stroke-linecap="butt" clip-path="url(#clipA3)"/>
<rect x="49" y="711.4" width="1.1" height="12.6" fill="#505050"/>
<rect x="50.1" y="711.4" width="1" height="12.6" fill="#808080"/>
<rect x="51.1" y="711.4" width="1.6" height="12.6" fill="#000000"/>
<rect x="54.2" y="711.4" width="2.6" height="12.6" fill="#000000"/>
<rect x="57.8" y="711.4" width="1.1" height="12.6" fill="#8c8c8c"/>
<rect x="58.9" y="711.4" width="2.6" height="12.6" fill="#000000"/>
<rect x="66.1" y="711.4" width="2.6" height="12.6" fill="#646464"/>
<rect x="68.7" y="711.4" width="1.6" height="12.6" fill="#000000"/>
<rect x="70.3" y="711.4" width="2.1" height="12.6" fill="#8c8c8c"/>
<rect x="72.4" y="711.4" width="1.5" height="12.6" fill="#000000"/>
<rect x="75.5" y="711.4" width="2.6" height="12.6" fill="#000000"/>
<rect x="78.1" y="711.4" width="2" height="12.6" fill="#6e6e6e"/>
<rect x="80.1" y="711.4" width="1.6" height="12.6" fill="#000000"/>
<rect x="81.7" y="711.4" width="2.1" height="12.6" fill="#8c8c8c"/>
<rect x="83.8" y="711.4" width="1.5" height="12.6" fill="#000000"/>
<rect x="85.3" y="711.4" width="1.6" height="12.6" fill="#8c8c8c"/>
<rect x="86.9" y="711.4" width="2" height="12.6" fill="#c8c8c8"/>
<rect x="88.9" y="711.4" width="1.6" height="12.6" fill="#8c8c8c"/>
<rect x="92.1" y="711.4" width="1.5" height="12.6" fill="#000000"/>
<rect x="93.6" y="711.4" width="3.1" height="12.6" fill="#808080"/>
<rect x="96.7" y="711.4" width="2.1" height="12.6" fill="#3c3c3c"/>
<rect x="98.8" y="711.4" width="2.1" height="12.6" fill="#969696"/>
<rect x="101.9" y="711.4" width="1.6" height="12.6" fill="#000000"/>
<rect x="103.5" y="711.4" width="1.5" height="12.6" fill="#969696"/>
<rect x="106.6" y="711.4" width="1.5" height="12.6" fill="#000000"/>
<rect x="108.1" y="711.4" width="2.1" height="12.6" fill="#8c8c8c"/>
<rect x="110.2" y="711.4" width="1.5" height="12.6" fill="#323232"/>
<rect x="111.7" y="711.4" width="1.6" height="12.6" fill="#969696"/>
<rect x="113.3" y="711.4" width="1.6" height="12.6" fill="#3c3c3c"/>
<rect x="114.9" y="711.4" width="2.5" height="12.6" fill="#969696"/>
<rect x="117.4" y="711.4" width="1.6" height="12.6" fill="#505050"/>
<rect x="119" y="711.4" width="1.6" height="12.6" fill="#000000"/>
<rect x="120.6" y="711.4" width="1.5" height="12.6" fill="#808080"/>
<rect x="122.1" y="711.4" width="1" height="12.6" fill="#000000"/>
<rect x="123.1" y="711.4" width="1.6" height="12.6" fill="#969696"/>
<rect x="124.7" y="711.4" width="1" height="12.6" fill="#3c3c3c"/>
<rect x="125.7" y="711.4" width="3.7" height="12.6" fill="#969696"/>
<rect x="130.4" y="711.4" width="1.6" height="12.6" fill="#000000"/>
<rect x="134" y="711.4" width="2.1" height="12.6" fill="#000000"/>
<rect x="138.2" y="711.4" width="1.5" height="12.6" fill="#808080"/>
<rect x="139.7" y="711.4" width="1.6" height="12.6" fill="#000000"/>
<rect x="143.9" y="711.4" width="1.5" height="12.6" fill="#787878"/>
<rect x="145.4" y="711.4" width="1.1" height="12.6" fill="#000000"/>
<rect x="148" y="711.4" width="1.1" height="12.6" fill="#808080"/>
<rect x="149.1" y="711.4" width="2" height="12.6" fill="#000000"/>
<rect x="151.1" y="711.4" width="2.1" height="12.6" fill="#a0a0a0"/>
<rect x="153.2" y="711.4" width="2.1" height="12.6" fill="#505050"/>
<rect x="155.3" y="711.4" width="2.1" height="12.6" fill="#a0a0a0"/>
<rect x="159.9" y="711.4" width="1.6" height="12.6" fill="#000000"/>
<rect x="166.7" y="711.4" width="1.5" height="12.6" fill="#8c8c8c"/>
<rect x="168.2" y="711.4" width="1.6" height="12.6" fill="#3c3c3c"/>
<rect x="169.8" y="711.4" width="3.1" height="12.6" fill="#969696"/>
<rect x="175.5" y="711.4" width="2.1" height="12.6" fill="#505050"/>
<rect x="177.6" y="711.4" width="1.5" height="12.6" fill="#8c8c8c"/>
<rect x="179.1" y="711.4" width="1.6" height="12.6" fill="#3c3c3c"/>
<rect x="180.7" y="711.4" width="1.5" height="12.6" fill="#969696"/>
<rect x="183.8" y="711.4" width="1.5" height="12.6" fill="#464646"/>
<rect x="185.3" y="711.4" width="1.6" height="12.6" fill="#8c8c8c"/>
<rect x="186.9" y="711.4" width="1.5" height="12.6" fill="#464646"/>
<rect x="188.4" y="711.4" width="1.6" height="12.6" fill="#969696"/>
<rect x="190" y="711.4" width="2.6" height="12.6" fill="#5a5a5a"/>
<rect x="200.9" y="711.4" width="1.5" height="12.6" fill="#000000"/>
<rect x="202.4" y="711.4" width="1.6" height="12.6" fill="#969696"/>
<rect x="204" y="711.4" width="1.5" height="12.6" fill="#505050"/>
<rect x="207.1" y="711.4" width="1" height="12.6" fill="#808080"/>
<rect x="211.2" y="711.4" width="1.6" height="12.6" fill="#000000"/>
<rect x="218" y="711.4" width="1.5" height="12.6" fill="#969696"/>
<rect x="221.1" y="711.4" width="3.1" height="12.6" fill="#6e6e6e"/>
<rect x="224.2" y="711.4" width="1.6" height="12.6" fill="#464646"/>
<rect x="225.8" y="711.4" width="1.5" height="12.6" fill="#969696"/>
<rect x="227.3" y="711.4" width="1.6" height="12.6" fill="#282828"/>
<rect x="228.9" y="711.4" width="1" height="12.6" fill="#969696"/>
<rect x="229.9" y="711.4" width="1.6" height="12.6" fill="#3c3c3c"/>
<rect x="233.5" y="711.4" width="2.1" height="12.6" fill="#a0a0a0"/>
<rect x="235.6" y="711.4" width="2.6" height="12.6" fill="#646464"/>
<rect x="240.8" y="711.4" width="2.1" height="12.6" fill="#6e6e6e"/>
<rect x="247.5" y="711.4" width="1.6" height="12.6" fill="#000000"/>
<rect x="253.2" y="711.4" width="1.6" height="12.6" fill="#000000"/>
<rect x="258.9" y="711.4" width="2.1" height="12.6" fill="#3c3c3c"/>
<rect x="261" y="711.4" width="1.6" height="12.6" fill="#8c8c8c"/>
<rect x="262.6" y="711.4" width="1" height="12.6" fill="#3c3c3c"/>
<rect x="263.6" y="711.4" width="2.6" height="12.6" fill="#aaaaaa"/>
<rect x="266.7" y="711.4" width="1.6" height="12.6" fill="#000000"/>
<rect x="268.3" y="711.4" width="2" height="12.6" fill="#969696"/>
<rect x="270.3" y="711.4" width="1.6" height="12.6" fill="#3c3c3c"/>
<rect x="271.9" y="711.4" width="2.1" height="12.6" fill="#828282"/>
<rect x="274" y="711.4" width="1.5" height="12.6" fill="#3c3c3c"/>
<rect x="275.5" y="711.4" width="2.1" height="12.6" fill="#a0a0a0"/>
<rect x="279.7" y="711.4" width="3.1" height="12.6" fill="#000000"/>
<rect x="284.8" y="711.4" width="3.2" height="12.6" fill="#969696"/>
<rect x="288" y="711.4" width="2" height="12.6" fill="#000000"/>
<rect x="293.6" y="711.4" width="1.6" height="12.6" fill="#808080"/>
<rect x="295.2" y="711.4" width="9.3" height="12.6" fill="#969696"/>
<rect x="307.6" y="711.4" width="1.6" height="12.6" fill="#000000"/>
<rect x="311.8" y="711.4" width="1.5" height="12.6" fill="#000000"/>
<rect x="319" y="711.4" width="2.6" height="12.6" fill="#000000"/>
<rect x="323.2" y="711.4" width="1.5" height="12.6" fill="#969696"/>
<rect x="326.8" y="711.4" width="1.6" height="12.6" fill="#808080"/>
<rect x="330" y="711.4" width="1.5" height="12.6" fill="#646464"/>
<rect x="48.5" y="724" width="2.8" height="12.1" fill="#df0000"/>
<rect x="51" y="724" width="2.8" height="12.1" fill="#d20000"/>
<rect x="53.5" y="724" width="2.8" height="12.1" fill="#eb0000"/>
<rect x="56" y="724" width="1.3" height="12.1" fill="#d40000"/>
<rect x="57" y="724" width="2.8" height="12.1" fill="#c90000"/>
<rect x="59.5" y="724" width="2.8" height="12.1" fill="#d70000"/>
<rect x="62" y="724" width="1.3" height="12.1" fill="#c70000"/>
<rect x="63" y="724" width="1.3" height="12.1" fill="#ea0000"/>
<rect x="64" y="724" width="2.8" height="12.1" fill="#dc0000"/>
<rect x="66.5" y="724" width="2.8" height="12.1" fill="#cb0000"/>
<rect x="69" y="724" width="1.1" height="12.1" fill="#eb0000"/>
<rect x="69.8" y="724" width="1.8" height="12.1" fill="#c50000"/>
<rect x="71.3" y="724" width="1.5" height="12.1" fill="#cf0000"/>
<rect x="72.5" y="724" width="1.8" height="12.1" fill="#e40000"/>
<rect x="74" y="724" width="1.3" height="12.1" fill="#d30000"/>
<rect x="75" y="724" width="2.8" height="12.1" fill="#e10000"/>
<rect x="77.5" y="724" width="1.3" height="12.1" fill="#cb0000"/>
<rect x="78.5" y="724" width="1.5" height="12.1" fill="#e80000"/>
<rect x="79.7" y="724" width="1.1" height="12.1" fill="#de0000"/>
<rect x="80.5" y="724" width="1.3" height="12.1" fill="#eb0000"/>
<rect x="81.5" y="724" width="2.3" height="12.1" fill="#d90000"/>
<rect x="83.5" y="724" width="1.3" height="12.1" fill="#e10000"/>
<rect x="84.5" y="724" width="1.8" height="12.1" fill="#cd0000"/>
<rect x="86" y="724" width="1.5" height="12.1" fill="#cc0000"/>
<rect x="87.2" y="724" width="2.3" height="12.1" fill="#dd0000"/>
<rect x="89.2" y="724" width="1.5" height="12.1" fill="#eb0000"/>
<rect x="90.4" y="724" width="2.3" height="12.1" fill="#d00000"/>
<rect x="92.4" y="724" width="1.8" height="12.1" fill="#eb3d3d"/>
<rect x="93.9" y="724" width="2.3" height="12.1" fill="#e83c3c"/>
<rect x="95.9" y="724" width="2.8" height="12.1" fill="#df3a3a"/>
<rect x="98.4" y="724" width="1.3" height="12.1" fill="#d83838"/>
<rect x="99.4" y="724" width="1.5" height="12.1" fill="#e93c3c"/>
<rect x="100.6" y="724" width="1.8" height="12.1" fill="#e73c3c"/>
<rect x="102.1" y="724" width="1.5" height="12.1" fill="#d63838"/>
<rect x="103.3" y="724" width="2.8" height="12.1" fill="#ed3d3d"/>
<rect x="105.8" y="724" width="1.1" height="12.1" fill="#d53737"/>
<rect x="106.6" y="724" width="1.5" height="12.1" fill="#de3a3a"/>
<rect x="107.8" y="724" width="1.3" height="12.1" fill="#d83838"/>
<rect x="108.8" y="724" width="2.3" height="12.1" fill="#c53333"/>
<rect x="110.8" y="724" width="1.1" height="12.1" fill="#ea3d3d"/>
<rect x="111.6" y="724" width="1.5" height="12.1" fill="#c73434"/>
<rect x="112.8" y="724" width="1.1" height="12.1" fill="#e63c3c"/>
<rect x="113.6" y="724" width="1.5" height="12.1" fill="#d13636"/>
<rect x="114.8" y="724" width="1.8" height="12.1" fill="#cf3636"/>
<rect x="116.3" y="724" width="1.8" height="12.1" fill="#da3939"/>
<rect x="117.8" y="724" width="2.8" height="12.1" fill="#df3a3a"/>
<rect x="120.3" y="724" width="1.3" height="12.1" fill="#d63838"/>
<rect x="121.3" y="724" width="2.8" height="12.1" fill="#e93d3d"/>
<rect x="123.8" y="724" width="2.3" height="12.1" fill="#ef6676"/>
<rect x="125.8" y="724" width="2.8" height="12.1" fill="#e0606f"/>
<rect x="128.3" y="724" width="1.8" height="12.1" fill="#ff6d7e"/>
<rect x="129.8" y="724" width="2.3" height="12.1" fill="#ff6f80"/>
<rect x="131.8" y="724" width="1.3" height="12.1" fill="#dd5f6e"/>
<rect x="132.8" y="724" width="1.1" height="12.1" fill="#fa6b7c"/>
<rect x="133.6" y="724" width="1.3" height="12.1" fill="#f96b7c"/>
<rect x="134.6" y="724" width="1.3" height="12.1" fill="#ff7284"/>
<rect x="135.6" y="724" width="2.3" height="12.1" fill="#e36171"/>
<rect x="137.6" y="724" width="1.5" height="12.1" fill="#f26878"/>
<rect x="138.8" y="724" width="2.3" height="12.1" fill="#d35b69"/>
<rect x="140.8" y="724" width="1.8" height="12.1" fill="#ff6d7e"/>
<rect x="142.3" y="724" width="2.8" height="12.1" fill="#fd6c7d"/>
<rect x="144.8" y="724" width="2.3" height="12.1" fill="#fb6c7c"/>
<rect x="146.8" y="724" width="2.3" height="12.1" fill="#fb6b7c"/>
<rect x="148.8" y="724" width="2.8" height="12.1" fill="#ff7081"/>
<rect x="151.3" y="724" width="2.3" height="12.1" fill="#e86373"/>
<rect x="153.3" y="724" width="1.8" height="12.1" fill="#ff7082"/>
<rect x="154.8" y="724" width="1.8" height="12.1" fill="#d95d6c"/>
<rect x="156.3" y="724" width="1.3" height="12.1" fill="#ff6e7f"/>
<rect x="157.3" y="724" width="1.3" height="12.1" fill="#eb6574"/>
<rect x="158.3" y="724" width="2.8" height="12.1" fill="#e96474"/>
<rect x="160.8" y="724" width="1.1" height="12.1" fill="#efb5df"/>
<rect x="161.6" y="724" width="1.5" height="12.1" fill="#f7bbe7"/>
<rect x="162.8" y="724" width="1.1" height="12.1" fill="#f5bae5"/>
<rect x="163.6" y="724" width="1.5" height="12.1" fill="#f5bae6"/>
<rect x="164.8" y="724" width="2.3" height="12.1" fill="#f4b9e4"/>
<rect x="166.8" y="724" width="2.3" height="12.1" fill="#f7bbe7"/>
<rect x="168.8" y="724" width="1.3" height="12.1" fill="#fabeea"/>
<rect x="169.8" y="724" width="1.3" height="12.1" fill="#f8bce8"/>
<rect x="170.8" y="724" width="1.8" height="12.1" fill="#fdc0ec"/>
<rect x="172.3" y="724" width="2.3" height="12.1" fill="#c0c0ef"/>
<rect x="174.3" y="724" width="2.8" height="12.1" fill="#babae8"/>
<rect x="176.8" y="724" width="1.8" height="12.1" fill="#cbcbfd"/>
<rect x="178.3" y="724" width="1.5" height="12.1" fill="#c5c5f5"/>
<rect x="179.5" y="724" width="2.3" height="12.1" fill="#c0c0ef"/>
<rect x="181.5" y="724" width="1.1" height="12.1" fill="#c6c6f6"/>
<rect x="182.3" y="724" width="2.3" height="12.1" fill="#c1c1f0"/>
<rect x="184.3" y="724" width="1.3" height="12.1" fill="#cacafc"/>
<rect x="185.3" y="724" width="2.8" height="12.1" fill="#cdcdff"/>
<rect x="187.8" y="724" width="1.8" height="12.1" fill="#c9c9fb"/>
<rect x="189.3" y="724" width="2.8" height="12.1" fill="#bfbfed"/>
<rect x="191.8" y="724" width="1.1" height="12.1" fill="#bbbbe9"/>
<rect x="192.6" y="724" width="1.1" height="12.1" fill="#bebeec"/>
<rect x="193.4" y="724" width="2.3" height="12.1" fill="#c9c9fa"/>
<rect x="195.4" y="724" width="1.1" height="12.1" fill="#c0c0ef"/>
<rect x="196.2" y="724" width="2.3" height="12.1" fill="#c4c4f4"/>
<rect x="198.2" y="724" width="2.3" height="12.1" fill="#c8c8f9"/>
<rect x="200.2" y="724" width="2.8" height="12.1" fill="#8080f7"/>
<rect x="202.7" y="724" width="1.3" height="12.1" fill="#7373de"/>
<rect x="203.7" y="724" width="1.8" height="12.1" fill="#7777e7"/>
<rect x="205.2" y="724" width="1.3" height="12.1" fill="#7575e3"/>
<rect x="206.2" y="724" width="1.1" height="12.1" fill="#6e6ed6"/>
<rect x="207" y="724" width="1.5" height="12.1" fill="#7b7bee"/>
<rect x="208.2" y="724" width="1.1" height="12.1" fill="#7c7cef"/>
<rect x="209" y="724" width="2.8" height="12.1" fill="#7272de"/>
<rect x="211.5" y="724" width="1.1" height="12.1" fill="#7a7aec"/>
<rect x="212.3" y="724" width="1.8" height="12.1" fill="#7373de"/>
<rect x="213.8" y="724" width="1.3" height="12.1" fill="#7272dc"/>
<rect x="214.8" y="724" width="1.3" height="12.1" fill="#8888ff"/>
<rect x="215.8" y="724" width="2.3" height="12.1" fill="#6e6ed4"/>
<rect x="217.8" y="724" width="1.5" height="12.1" fill="#7b7bef"/>
<rect x="219" y="724" width="1.1" height="12.1" fill="#7777e7"/>
<rect x="219.8" y="724" width="1.1" height="12.1" fill="#8585ff"/>
<rect x="220.6" y="724" width="1.8" height="12.1" fill="#6f6fd7"/>
<rect x="222.1" y="724" width="1.8" height="12.1" fill="#7a7aed"/>
<rect x="223.6" y="724" width="1.1" height="12.1" fill="#8080f7"/>
<rect x="224.4" y="724" width="2.8" height="12.1" fill="#7e7ef3"/>
<rect x="226.9" y="724" width="1.8" height="12.1" fill="#8989ff"/>
<rect x="228.4" y="724" width="2.8" height="12.1" fill="#7575e3"/>
<rect x="230.9" y="724" width="1.8" height="12.1" fill="#8888ff"/>
<rect x="232.4" y="724" width="1.8" height="12.1" fill="#7373df"/>
<rect x="233.9" y="724" width="2.3" height="12.1" fill="#7f7ff6"/>
<rect x="235.9" y="724" width="1.8" height="12.1" fill="#7b7bef"/>
<rect x="237.4" y="724" width="2.8" height="12.1" fill="#6e6ed5"/>
<rect x="239.9" y="724" width="2.8" height="12.1" fill="#7c7cf0"/>
<rect x="242.4" y="724" width="2.3" height="12.1" fill="#2400dc"/>
<rect x="244.4" y="724" width="1.1" height="12.1" fill="#2300d4"/>
<rect x="245.2" y="724" width="2.3" height="12.1" fill="#2200d0"/>
<rect x="247.2" y="724" width="2.3" height="12.1" fill="#2400dc"/>
<rect x="249.2" y="724" width="1.3" height="12.1" fill="#2300d5"/>
<rect x="250.2" y="724" width="1.5" height="12.1" fill="#2000c6"/>
<rect x="251.4" y="724" width="1.1" height="12.1" fill="#2100c9"/>
<rect x="252.2" y="724" width="1.3" height="12.1" fill="#2200d3"/>
<rect x="253.2" y="724" width="1.8" height="12.1" fill="#2100cd"/>
<rect x="254.7" y="724" width="2.8" height="12.1" fill="#2300d6"/>
<rect x="257.2" y="724" width="2.3" height="12.1" fill="#2500e4"/>
<rect x="259.2" y="724" width="1.1" height="12.1" fill="#2000c4"/>
<rect x="260" y="724" width="1.5" height="12.1" fill="#2400da"/>
<rect x="261.2" y="724" width="1.1" height="12.1" fill="#2200d3"/>
<rect x="262" y="724" width="2.3" height="12.1" fill="#2400da"/>
<rect x="264" y="724" width="1.1" height="12.1" fill="#2400dc"/>
<rect x="264.8" y="724" width="1.3" height="12.1" fill="#2500e5"/>
<rect x="265.8" y="724" width="1.8" height="12.1" fill="#2000c5"/>
<rect x="267.3" y="724" width="2.8" height="12.1" fill="#4600c0"/>
<rect x="269.8" y="724" width="2.3" height="12.1" fill="#4200b7"/>
<rect x="271.8" y="724" width="2.3" height="12.1" fill="#3b00a2"/>
<rect x="273.8" y="724" width="2.3" height="12.1" fill="#4500bf"/>
<rect x="275.8" y="724" width="2.3" height="12.1" fill="#4300b8"/>
<rect x="277.8" y="724" width="1.3" height="12.1" fill="#3b00a2"/>
<rect x="278.8" y="724" width="2.3" height="12.1" fill="#4400bc"/>
<rect x="280.8" y="724" width="1.1" height="12.1" fill="#4200b4"/>
<rect x="281.6" y="724" width="1.8" height="12.1" fill="#4600c1"/>
<rect x="283.1" y="724" width="1.8" height="12.1" fill="#4400bb"/>
<rect x="284.6" y="724" width="1.8" height="12.1" fill="#4500bf"/>
<rect x="286.1" y="724" width="1.3" height="12.1" fill="#3d00a9"/>
<rect x="287.1" y="724" width="1.1" height="12.1" fill="#3b00a2"/>
<rect x="287.9" y="724" width="1.8" height="12.1" fill="#3a009f"/>
<rect x="289.4" y="724" width="1.1" height="12.1" fill="#4500bf"/>
<rect x="290.2" y="724" width="1.1" height="12.1" fill="#4600c0"/>
<rect x="291" y="724" width="1.1" height="12.1" fill="#3f00ad"/>
<rect x="291.8" y="724" width="1.1" height="12.1" fill="#4400ba"/>
<rect x="292.6" y="724" width="2.3" height="12.1" fill="#3f00ad"/>
<rect x="294.6" y="724" width="1.1" height="12.1" fill="#4300b7"/>
<rect x="295.4" y="724" width="1.1" height="12.1" fill="#4600bf"/>
<rect x="296.2" y="724" width="1.8" height="12.1" fill="#3f00ad"/>
<rect x="297.7" y="724" width="1.3" height="12.1" fill="#3c00a6"/>
<rect x="298.7" y="724" width="1.5" height="12.1" fill="#3f00ad"/>
<rect x="299.9" y="724" width="2.3" height="12.1" fill="#3e00aa"/>
<rect x="301.9" y="724" width="1.1" height="12.1" fill="#3a00a0"/>
<rect x="302.7" y="724" width="1.1" height="12.1" fill="#4400bc"/>
<rect x="303.5" y="724" width="1.8" height="12.1" fill="#4100b3"/>
<rect x="305" y="724" width="1.3" height="12.1" fill="#4500be"/>
<rect x="306" y="724" width="2.3" height="12.1" fill="#3e00ab"/>
<rect x="308" y="724" width="2.8" height="12.1" fill="#3f00ac"/>
<rect x="310.5" y="724" width="1.8" height="12.1" fill="#4600c1"/>
<rect x="312" y="724" width="1.5" height="12.1" fill="#3e00aa"/>
<rect x="313.2" y="724" width="2.8" height="12.1" fill="#3a009f"/>
<rect x="315.7" y="724" width="1.5" height="12.1" fill="#3c00a6"/>
<rect x="316.9" y="724" width="1.8" height="12.1" fill="#3a00a0"/>
<rect x="318.4" y="724" width="1.1" height="12.1" fill="#4400ba"/>
<rect x="319.2" y="724" width="1.1" height="12.1" fill="#4300b8"/>
<rect x="320" y="724" width="1.1" height="12.1" fill="#4500bd"/>
<rect x="320.8" y="724" width="1.8" height="12.1" fill="#3e00a9"/>
<rect x="322.3" y="724" width="1.1" height="12.1" fill="#4300b7"/>
<rect x="323.1" y="724" width="1.8" height="12.1" fill="#3f00ac"/>
<rect x="324.6" y="724" width="1.1" height="12.1" fill="#4000af"/>
<rect x="325.4" y="724" width="1.5" height="12.1" fill="#3e00ab"/>
<rect x="326.6" y="724" width="1.1" height="12.1" fill="#4100b2"/>
<rect x="327.4" y="724" width="2.3" height="12.1" fill="#4300ba"/>
<rect x="329.4" y="724" width="1.8" height="12.1" fill="#3d00a8"/>
<rect x="330.9" y="724" width="0.9" height="12.1" fill="#4500be"/>
<polygon points="48.5,748.8 48.5,736.6 77.5,736.6 164.5,748.8 200,752.7 232,756.6 255,759 278,760.4 331.5,760.4 331.5,748.8" fill="#b4b4b4"/>
<line x1="48.5" y1="748.8" x2="331.5" y2="748.8" stroke="#a8a8a8" stroke-width="0.8"/>
<text x="326.6" y="745.9" font-size="11.3" fill="#2222ee" stroke="#2222ee" stroke-width="0.22" text-anchor="end" >negatively correlated</text>
<text x="54.5" y="758.8" font-size="11.1" fill="#f41c1c" stroke="#f41c1c" stroke-width="0.22" text-anchor="start" >positively correlated</text>
<text x="326.4" y="770.3" font-size="11.3" fill="#999999" stroke="#999999" stroke-width="0.22" text-anchor="end" >ranking scores</text>
<rect x="48.5" y="585.4" width="283" height="176" fill="none" stroke="#9a9a9a" stroke-width="1"/>
<text x="54.1" y="783.8" font-size="11.3" fill="#1a1a1a" stroke="#1a1a1a" stroke-width="0.22" text-anchor="start" >nominal p-value</text>
<text x="204.9" y="783.8" font-size="11.3" fill="#1a1a1a" stroke="#1a1a1a" stroke-width="0.22" text-anchor="start" >&lt;1.0E-20</text>
<text x="54.1" y="796.25" font-size="11.3" fill="#1a1a1a" stroke="#1a1a1a" stroke-width="0.22" text-anchor="start" >false discovery rate q-value</text>
<text x="204.9" y="796.25" font-size="11.3" fill="#1a1a1a" stroke="#1a1a1a" stroke-width="0.22" text-anchor="start" >4.50E-02</text>
<text x="54.1" y="808.7" font-size="11.3" fill="#1a1a1a" stroke="#1a1a1a" stroke-width="0.22" text-anchor="start" >familywise-error rate p-value</text>
<text x="204.9" y="808.7" font-size="11.3" fill="#1a1a1a" stroke="#1a1a1a" stroke-width="0.22" text-anchor="start" >9.81E-01</text>
<text x="54.1" y="821.15" font-size="11.3" fill="#1a1a1a" stroke="#1a1a1a" stroke-width="0.22" text-anchor="start" >enrichment score</text>
<text x="204.9" y="821.15" font-size="11.3" fill="#1a1a1a" stroke="#1a1a1a" stroke-width="0.22" text-anchor="start" >0.184</text>
<text x="54.1" y="833.6" font-size="11.3" fill="#1a1a1a" stroke="#1a1a1a" stroke-width="0.22" text-anchor="start" >normalized enrichment score</text>
<text x="204.9" y="833.6" font-size="11.3" fill="#1a1a1a" stroke="#1a1a1a" stroke-width="0.22" text-anchor="start" >1.838</text><clipPath id="clipB3"><rect x="401.5" y="582.4" width="283" height="129"/></clipPath>
<text transform="translate(362.1,648) rotate(-90)" font-size="11.55" fill="#1a1a1a" stroke="#1a1a1a" stroke-width="0.22" text-anchor="middle">enrichment score (ES)</text>
<text x="392.4" y="589.4" font-size="11.3" fill="#1a1a1a" stroke="#1a1a1a" stroke-width="0.22" text-anchor="end" >0.05</text>
<line x1="398.9" y1="585.4" x2="401.5" y2="585.4" stroke="#9a9a9a" stroke-width="1"/>
<text x="392.4" y="614.6" font-size="11.3" fill="#1a1a1a" stroke="#1a1a1a" stroke-width="0.22" text-anchor="end" >0.00</text>
<line x1="398.9" y1="610.6" x2="401.5" y2="610.6" stroke="#9a9a9a" stroke-width="1"/>
<text x="392.4" y="639.8" font-size="11.3" fill="#1a1a1a" stroke="#1a1a1a" stroke-width="0.22" text-anchor="end" >-0.05</text>
<line x1="398.9" y1="635.8" x2="401.5" y2="635.8" stroke="#9a9a9a" stroke-width="1"/>
<text x="392.4" y="665" font-size="11.3" fill="#1a1a1a" stroke="#1a1a1a" stroke-width="0.22" text-anchor="end" >-0.10</text>
<line x1="398.9" y1="661" x2="401.5" y2="661" stroke="#9a9a9a" stroke-width="1"/>
<text x="392.4" y="690.2" font-size="11.3" fill="#1a1a1a" stroke="#1a1a1a" stroke-width="0.22" text-anchor="end" >-0.15</text>
<line x1="398.9" y1="686.2" x2="401.5" y2="686.2" stroke="#9a9a9a" stroke-width="1"/>
<text x="392.4" y="715.4" font-size="11.3" fill="#1a1a1a" stroke="#1a1a1a" stroke-width="0.22" text-anchor="end" >-0.20</text>
<line x1="398.9" y1="711.4" x2="401.5" y2="711.4" stroke="#9a9a9a" stroke-width="1"/>
<line x1="401.5" y1="610.6" x2="684.5" y2="610.6" stroke="#9a9a9a" stroke-width="1"/>
<line x1="574.7" y1="604.6" x2="580.1" y2="604.6" stroke="#0000ff" stroke-width="1.6"/>
<line x1="574.9" y1="617.2" x2="580.1" y2="617.2" stroke="#aaaaaa" stroke-width="1.7"/>
<text x="679.3" y="607.5" font-size="11.3" fill="#1a1a1a" stroke="#1a1a1a" stroke-width="0.22" text-anchor="end" >enrichment profile</text>
<text x="679.3" y="619.5" font-size="11.3" fill="#1a1a1a" stroke="#1a1a1a" stroke-width="0.22" text-anchor="end" >hits</text>
<text x="414.2" y="695.3" font-size="11.3" fill="#1a1a1a" stroke="#1a1a1a" stroke-width="0.22" text-anchor="start" >pathway enrichment</text>
<text x="414.2" y="707.8" font-size="11.3" fill="#1a1a1a" stroke="#1a1a1a" stroke-width="0.22" text-anchor="start" >E2F motif</text>
<polyline points="401.5,605.9 403.1,605.9 403.1,598.44 404.65,598.44 404.65,600.41 406.2,600.41 406.2,602.7 407.75,602.7 407.75,602.66 409.3,602.66 409.3,603.11 410.85,603.11 410.85,604.17 412.4,604.17 412.4,605.93 413.95,605.93 413.95,607.02 415.5,607.02 415.5,607.85 417.05,607.85 417.05,604.66 418.6,604.66 418.6,600.23 420.15,600.23 420.15,602.43 421.7,602.43 421.7,603.13 423.25,603.13 423.25,603.71 424.8,603.71 424.8,604.79 426.4,604.79 426.4,602.22 428,602.22 428,599.21 429.55,599.21 429.55,599.6 431.1,599.6 431.1,599.24 432.65,599.24 432.65,599.99 434.2,599.99 434.2,600.84 436.2,600.84 436.2,594.91 437.8,594.91 437.8,594.68 439.4,594.68 439.4,594.95 440.95,594.95 440.95,592.89 442.5,592.89 442.5,590.39 444.05,590.39 444.05,589.02 445.6,589.02 445.6,588.31 446.97,588.31 446.97,588.27 448.33,588.27 448.33,587.16 449.7,587.16 449.7,585.72 451.1,585.72 451.1,587.64 452.5,587.64 452.5,589.5 453.9,589.5 453.9,591.31 455.45,591.31 455.45,590.46 457,590.46 457,589.81 458.37,589.81 458.37,590.19 459.73,590.19 459.73,590.68 461.1,590.68 461.1,590.6 462.65,590.6 462.65,592.89 464.2,592.89 464.2,594.01 465.75,594.01 465.75,596.14 467.3,596.14 467.3,598.59 468.7,598.59 468.7,597.19 470.1,597.19 470.1,595.83 471.5,595.83 471.5,594.66 473.05,594.66 473.05,596.1 474.6,596.1 474.6,597.1 475.97,597.1 475.97,597.98 477.33,597.98 477.33,599.32 478.7,599.32 478.7,600.54 480.25,600.54 480.25,598.9 481.8,598.9 481.8,596.94 483.2,596.94 483.2,598.55 484.6,598.55 484.6,599.61 486,599.61 486,601.12 487.37,601.12 487.37,603.16 488.73,603.16 488.73,604.62 490.1,604.62 490.1,606.9 491.65,606.9 491.65,608.89 493.2,608.89 493.2,610.72 494.8,610.72 494.8,612.44 496.4,612.44 496.4,614.68 497.95,614.68 497.95,612.33 499.5,612.33 499.5,610.31 501.05,610.31 501.05,610 502.6,610 502.6,609.53 504.15,609.53 504.15,611.06 505.7,611.06 505.7,611.94 507.07,611.94 507.07,613.26 508.43,613.26 508.43,613.93 509.8,613.93 509.8,615.68 511.38,615.68 511.38,616.3 512.95,616.3 512.95,617.8 514.52,617.8 514.52,619.06 516.1,619.06 516.1,620.01 517.47,620.01 517.47,621.56 518.83,621.56 518.83,623.6 520.2,623.6 520.2,625.27 521.57,625.27 521.57,626.92 522.93,626.92 522.93,628.73 524.3,628.73 524.3,629.67 526.03,629.67 526.03,632.03 527.77,632.03 527.77,634.38 529.5,634.38 529.5,636.97 531.23,636.97 531.23,639.76 532.97,639.76 532.97,641.7 534.7,641.7 534.7,644.32 536.1,644.32 536.1,646.5 537.5,646.5 537.5,647.44 538.9,647.44 538.9,649.01 540.27,649.01 540.27,650.02 541.63,650.02 541.63,651.77 543,651.77 543,652.17 544.55,652.17 544.55,654.78 546.1,654.78 546.1,657.42 547.65,657.42 547.65,659.56 549.2,659.56 549.2,661.93 550.75,661.93 550.75,664.33 552.3,664.33 552.3,666.06 553.85,666.06 553.85,668.99 555.4,668.99 555.4,671.36 556.98,671.36 556.98,673.66 558.55,673.66 558.55,675.1 560.12,675.1 560.12,677.15 561.7,677.15 561.7,678.67 563.25,678.67 563.25,680.93 564.8,680.93 564.8,682.51 566.35,682.51 566.35,684.94 567.9,684.94 567.9,686.45 569.45,686.45 569.45,688.76 571,688.76 571,689.91 572.55,689.91 572.55,691.56 574.1,691.56 574.1,693.47 575.65,693.47 575.65,694.66 577.2,694.66 577.2,694.99 578.6,694.99 578.6,697.26 580,697.26 580,698.71 581.4,698.71 581.4,699.9 582.77,699.9 582.77,701.16 584.13,701.16 584.13,701.24 585.5,701.24 585.5,702.54 587.05,702.54 587.05,703.89 588.6,703.89 588.6,705.49 590.15,705.49 590.15,704.07 591.7,704.07 591.7,701.96 593.1,701.96 593.1,702.97 594.5,702.97 594.5,704.03 595.9,704.03 595.9,705.52 597.27,705.52 597.27,705.64 598.63,705.64 598.63,705.38 600,705.38 600,705.51 601.4,705.51 601.4,705.99 602.8,705.99 602.8,706.15 604.2,706.15 604.2,706.08 605.57,706.08 605.57,706.04 606.93,706.04 606.93,704.92 608.3,704.92 608.3,704.64 609.67,704.64 609.67,706.1 611.03,706.1 611.03,707.19 612.4,707.19 612.4,708.85 614,708.85 614,706.71 615.6,706.71 615.6,705.4 616.97,705.4 616.97,705.32 618.33,705.32 618.33,704.8 619.7,704.8 619.7,704.2 621.25,704.2 621.25,703.19 622.8,703.19 622.8,701.72 624.35,701.72 624.35,700.67 625.9,700.67 625.9,700.25 627.45,700.25 627.45,699.96 629,699.96 629,699.07 631.1,699.07 631.1,693.54 633.2,693.54 633.2,687.49 634.75,687.49 634.75,687.74 636.3,687.74 636.3,687 637.67,687 637.67,686.53 639.03,686.53 639.03,687.48 640.4,687.48 640.4,687.79 641.95,687.79 641.95,686.78 643.5,686.78 643.5,685.99 645.6,685.99 645.6,675.71 646.6,675.71 646.6,668.8 648.2,668.8 648.2,666.67 649.8,666.67 649.8,663.58 651.35,663.58 651.35,662.59 652.9,662.59 652.9,660.97 654.45,660.97 654.45,656.98 656,656.98 656,652.88 657.37,652.88 657.37,651.29 658.73,651.29 658.73,648.67 660.1,648.67 660.1,647.65 661.65,647.65 661.65,648.24 663.2,648.24 663.2,648.31 664.75,648.31 664.75,647.22 666.3,647.22 666.3,645.94 667.4,645.94 667.4,639.9 668.95,639.9 668.95,637.17 670.5,637.17 670.5,635.06 672.05,635.06 672.05,631.61 673.6,631.61 673.6,628.39 675.7,628.39 675.7,621.98 676.95,621.98 676.95,622.09 678.2,622.09 678.2,623.65 679.8,623.65 679.8,614.76 681.9,614.76 681.9,607.05 683.2,607.05 683.2,605.14 684.5,605.14 684.5,603.8" fill="none" stroke="#0000ff" stroke-width="3.1" stroke-linejoin="round" stroke-linecap="butt" clip-path="url(#clipB3)"/>
<rect x="402" y="711.4" width="1.6" height="12.6" fill="#000000"/>
<rect x="407.7" y="711.4" width="1.6" height="12.6" fill="#8c8c8c"/>
<rect x="409.3" y="711.4" width="1.5" height="12.6" fill="#646464"/>
<rect x="414" y="711.4" width="1.5" height="12.6" fill="#6e6e6e"/>
<rect x="416.5" y="711.4" width="1.6" height="12.6" fill="#000000"/>
<rect x="420.2" y="711.4" width="1" height="12.6" fill="#808080"/>
<rect x="421.7" y="711.4" width="1.6" height="12.6" fill="#969696"/>
<rect x="423.8" y="711.4" width="1.6" height="12.6" fill="#808080"/>
<rect x="425.9" y="711.4" width="2.1" height="12.6" fill="#000000"/>
<rect x="428" y="711.4" width="4.1" height="12.6" fill="#5a5a5a"/>
<rect x="432.1" y="711.4" width="1" height="12.6" fill="#464646"/>
<rect x="435.2" y="711.4" width="1.6" height="12.6" fill="#787878"/>
<rect x="436.8" y="711.4" width="1.5" height="12.6" fill="#000000"/>
<rect x="439.9" y="711.4" width="2.1" height="12.6" fill="#646464"/>
<rect x="442" y="711.4" width="1.5" height="12.6" fill="#3c3c3c"/>
<rect x="443.5" y="711.4" width="1.6" height="12.6" fill="#646464"/>
<rect x="446.6" y="711.4" width="1.6" height="12.6" fill="#8c8c8c"/>
<rect x="448.7" y="711.4" width="1.5" height="12.6" fill="#808080"/>
<rect x="454.9" y="711.4" width="1.6" height="12.6" fill="#5a5a5a"/>
<rect x="457.5" y="711.4" width="1.5" height="12.6" fill="#8c8c8c"/>
<rect x="461.1" y="711.4" width="1.1" height="12.6" fill="#808080"/>
<rect x="467.9" y="711.4" width="1.5" height="12.6" fill="#969696"/>
<rect x="469.9" y="711.4" width="2.1" height="12.6" fill="#000000"/>
<rect x="472" y="711.4" width="1" height="12.6" fill="#969696"/>
<rect x="474.6" y="711.4" width="1.5" height="12.6" fill="#282828"/>
<rect x="479.8" y="711.4" width="1" height="12.6" fill="#323232"/>
<rect x="481.3" y="711.4" width="1.6" height="12.6" fill="#000000"/>
<rect x="483.9" y="711.4" width="1.1" height="12.6" fill="#969696"/>
<rect x="487" y="711.4" width="1.1" height="12.6" fill="#282828"/>
<rect x="497.9" y="711.4" width="2.1" height="12.6" fill="#000000"/>
<rect x="502.1" y="711.4" width="1.5" height="12.6" fill="#646464"/>
<rect x="506.7" y="711.4" width="5.2" height="12.6" fill="#6e6e6e"/>
<rect x="511.9" y="711.4" width="1" height="12.6" fill="#000000"/>
<rect x="514" y="711.4" width="1.5" height="12.6" fill="#8c8c8c"/>
<rect x="515.5" y="711.4" width="1.6" height="12.6" fill="#1e1e1e"/>
<rect x="520.2" y="711.4" width="1" height="12.6" fill="#464646"/>
<rect x="524.9" y="711.4" width="1" height="12.6" fill="#464646"/>
<rect x="530" y="711.4" width="1.6" height="12.6" fill="#8c8c8c"/>
<rect x="536.8" y="711.4" width="2.1" height="12.6" fill="#464646"/>
<rect x="540.9" y="711.4" width="2.1" height="12.6" fill="#8c8c8c"/>
<rect x="543" y="711.4" width="1.6" height="12.6" fill="#646464"/>
<rect x="545.6" y="711.4" width="1" height="12.6" fill="#3c3c3c"/>
<rect x="548.2" y="711.4" width="1" height="12.6" fill="#3c3c3c"/>
<rect x="550.3" y="711.4" width="1" height="12.6" fill="#3c3c3c"/>
<rect x="552.8" y="711.4" width="1.1" height="12.6" fill="#646464"/>
<rect x="553.9" y="711.4" width="2.1" height="12.6" fill="#000000"/>
<rect x="556.5" y="711.4" width="1" height="12.6" fill="#969696"/>
<rect x="558.5" y="711.4" width="1.6" height="12.6" fill="#000000"/>
<rect x="562.2" y="711.4" width="1" height="12.6" fill="#282828"/>
<rect x="564.2" y="711.4" width="1.6" height="12.6" fill="#000000"/>
<rect x="566.8" y="711.4" width="1.1" height="12.6" fill="#969696"/>
<rect x="568.9" y="711.4" width="2.1" height="12.6" fill="#000000"/>
<rect x="572.5" y="711.4" width="1.1" height="12.6" fill="#969696"/>
<rect x="577.2" y="711.4" width="3.1" height="12.6" fill="#000000"/>
<rect x="584.5" y="711.4" width="1.5" height="12.6" fill="#646464"/>
<rect x="586" y="711.4" width="1.6" height="12.6" fill="#464646"/>
<rect x="587.6" y="711.4" width="1.5" height="12.6" fill="#969696"/>
<rect x="591.7" y="711.4" width="3.1" height="12.6" fill="#000000"/>
<rect x="594.8" y="711.4" width="2.1" height="12.6" fill="#646464"/>
<rect x="596.9" y="711.4" width="1" height="12.6" fill="#3c3c3c"/>
<rect x="599" y="711.4" width="1.5" height="12.6" fill="#787878"/>
<rect x="603.6" y="711.4" width="1.6" height="12.6" fill="#000000"/>
<rect x="608.3" y="711.4" width="3.1" height="12.6" fill="#646464"/>
<rect x="611.4" y="711.4" width="2.6" height="12.6" fill="#323232"/>
<rect x="615.6" y="711.4" width="2" height="12.6" fill="#000000"/>
<rect x="619.7" y="711.4" width="1" height="12.6" fill="#3c3c3c"/>
<rect x="621.8" y="711.4" width="1" height="12.6" fill="#282828"/>
<rect x="623.3" y="711.4" width="2.1" height="12.6" fill="#808080"/>
<rect x="626.4" y="711.4" width="2.1" height="12.6" fill="#000000"/>
<rect x="628.5" y="711.4" width="4.2" height="12.6" fill="#6e6e6e"/>
<rect x="634.2" y="711.4" width="2.1" height="12.6" fill="#3c3c3c"/>
<rect x="638.4" y="711.4" width="2.6" height="12.6" fill="#646464"/>
<rect x="641" y="711.4" width="4.1" height="12.6" fill="#464646"/>
<rect x="648.2" y="711.4" width="2.1" height="12.6" fill="#000000"/>
<rect x="651.3" y="711.4" width="4.2" height="12.6" fill="#3c3c3c"/>
<rect x="656.5" y="711.4" width="3.6" height="12.6" fill="#000000"/>
<rect x="662.2" y="711.4" width="2.6" height="12.6" fill="#5a5a5a"/>
<rect x="669" y="711.4" width="7.2" height="12.6" fill="#646464"/>
<rect x="678.3" y="711.4" width="2" height="12.6" fill="#282828"/>
<rect x="681.9" y="711.4" width="2.6" height="12.6" fill="#000000"/>
<rect x="401.5" y="724" width="1.8" height="12.1" fill="#c80000"/>
<rect x="403" y="724" width="1.1" height="12.1" fill="#d30000"/>
<rect x="403.8" y="724" width="2.3" height="12.1" fill="#e10000"/>
<rect x="405.8" y="724" width="1.8" height="12.1" fill="#e20000"/>
<rect x="407.3" y="724" width="2.8" height="12.1" fill="#e40000"/>
<rect x="409.8" y="724" width="1.3" height="12.1" fill="#d30000"/>
<rect x="410.8" y="724" width="2.3" height="12.1" fill="#c80000"/>
<rect x="412.8" y="724" width="1.3" height="12.1" fill="#d70000"/>
<rect x="413.8" y="724" width="1.3" height="12.1" fill="#e90000"/>
<rect x="414.8" y="724" width="1.5" height="12.1" fill="#e60000"/>
<rect x="416" y="724" width="2.8" height="12.1" fill="#de0000"/>
<rect x="418.5" y="724" width="1.1" height="12.1" fill="#cc0000"/>
<rect x="419.3" y="724" width="2.8" height="12.1" fill="#d80000"/>
<rect x="421.8" y="724" width="1.8" height="12.1" fill="#d30000"/>
<rect x="423.3" y="724" width="1.1" height="12.1" fill="#c90000"/>
<rect x="424.1" y="724" width="1.5" height="12.1" fill="#c70000"/>
<rect x="425.3" y="724" width="1.1" height="12.1" fill="#ca0000"/>
<rect x="426.1" y="724" width="1.1" height="12.1" fill="#e40000"/>
<rect x="426.9" y="724" width="1.5" height="12.1" fill="#e90000"/>
<rect x="428.1" y="724" width="1.5" height="12.1" fill="#e70000"/>
<rect x="429.3" y="724" width="1.3" height="12.1" fill="#eb0000"/>
<rect x="430.3" y="724" width="1.5" height="12.1" fill="#d90000"/>
<rect x="431.5" y="724" width="2.8" height="12.1" fill="#c90000"/>
<rect x="434" y="724" width="1.1" height="12.1" fill="#de0000"/>
<rect x="434.8" y="724" width="1.8" height="12.1" fill="#e10000"/>
<rect x="436.3" y="724" width="1.5" height="12.1" fill="#e90000"/>
<rect x="437.5" y="724" width="1.5" height="12.1" fill="#d70000"/>
<rect x="438.7" y="724" width="2.3" height="12.1" fill="#ca0000"/>
<rect x="440.7" y="724" width="1.5" height="12.1" fill="#d00000"/>
<rect x="441.9" y="724" width="1.8" height="12.1" fill="#ec4848"/>
<rect x="443.4" y="724" width="2.3" height="12.1" fill="#ef4949"/>
<rect x="445.4" y="724" width="1.1" height="12.1" fill="#e64646"/>
<rect x="446.2" y="724" width="1.1" height="12.1" fill="#de4343"/>
<rect x="447" y="724" width="2.8" height="12.1" fill="#e74646"/>
<rect x="449.5" y="724" width="1.1" height="12.1" fill="#d34040"/>
<rect x="450.3" y="724" width="2.8" height="12.1" fill="#d64141"/>
<rect x="452.8" y="724" width="1.8" height="12.1" fill="#d34040"/>
<rect x="454.3" y="724" width="1.5" height="12.1" fill="#f24a4a"/>
<rect x="455.5" y="724" width="2.3" height="12.1" fill="#d24040"/>
<rect x="457.5" y="724" width="1.8" height="12.1" fill="#e64646"/>
<rect x="459" y="724" width="1.5" height="12.1" fill="#dd4343"/>
<rect x="460.2" y="724" width="1.8" height="12.1" fill="#d54141"/>
<rect x="461.7" y="724" width="1.3" height="12.1" fill="#dc4343"/>
<rect x="462.7" y="724" width="1.3" height="12.1" fill="#d84141"/>
<rect x="463.7" y="724" width="1.5" height="12.1" fill="#ef4949"/>
<rect x="464.9" y="724" width="1.3" height="12.1" fill="#f54a4a"/>
<rect x="465.9" y="724" width="2.3" height="12.1" fill="#f54a4a"/>
<rect x="467.9" y="724" width="2.3" height="12.1" fill="#f64b4b"/>
<rect x="469.9" y="724" width="1.5" height="12.1" fill="#f54a4a"/>
<rect x="471.1" y="724" width="2.3" height="12.1" fill="#e74646"/>
<rect x="473.1" y="724" width="1.1" height="12.1" fill="#f14949"/>
<rect x="473.9" y="724" width="1.1" height="12.1" fill="#dd4343"/>
<rect x="474.7" y="724" width="1.1" height="12.1" fill="#f24949"/>
<rect x="475.5" y="724" width="1.3" height="12.1" fill="#e24545"/>
<rect x="476.5" y="724" width="2.3" height="12.1" fill="#ef4848"/>
<rect x="478.5" y="724" width="1.3" height="12.1" fill="#e64646"/>
<rect x="479.5" y="724" width="2.3" height="12.1" fill="#dc4343"/>
<rect x="481.5" y="724" width="1.8" height="12.1" fill="#f24a4a"/>
<rect x="483" y="724" width="1.3" height="12.1" fill="#e14444"/>
<rect x="484" y="724" width="2.3" height="12.1" fill="#f17181"/>
<rect x="486" y="724" width="1.1" height="12.1" fill="#ff7a8b"/>
<rect x="486.8" y="724" width="1.1" height="12.1" fill="#fe7788"/>
<rect x="487.6" y="724" width="1.8" height="12.1" fill="#f97485"/>
<rect x="489.1" y="724" width="1.3" height="12.1" fill="#ff7889"/>
<rect x="490.1" y="724" width="1.5" height="12.1" fill="#dc6775"/>
<rect x="491.3" y="724" width="1.1" height="12.1" fill="#e56b7a"/>
<rect x="492.1" y="724" width="1.3" height="12.1" fill="#f57283"/>
<rect x="493.1" y="724" width="2.3" height="12.1" fill="#ea6d7d"/>
<rect x="495.1" y="724" width="1.5" height="12.1" fill="#de6776"/>
<rect x="496.3" y="724" width="2.8" height="12.1" fill="#d56472"/>
<rect x="498.8" y="724" width="2.8" height="12.1" fill="#ff7b8c"/>
<rect x="501.3" y="724" width="1.8" height="12.1" fill="#e86c7c"/>
<rect x="502.8" y="724" width="1.8" height="12.1" fill="#de6877"/>
<rect x="504.3" y="724" width="1.1" height="12.1" fill="#f87484"/>
<rect x="505.1" y="724" width="2.8" height="12.1" fill="#df6877"/>
<rect x="507.6" y="724" width="1.1" height="12.1" fill="#dd6776"/>
<rect x="508.4" y="724" width="2.3" height="12.1" fill="#eb6e7d"/>
<rect x="510.4" y="724" width="2.8" height="12.1" fill="#dd6776"/>
<rect x="512.9" y="724" width="1.3" height="12.1" fill="#ff798a"/>
<rect x="513.9" y="724" width="2.8" height="12.1" fill="#db6675"/>
<rect x="516.4" y="724" width="2.3" height="12.1" fill="#d46371"/>
<rect x="518.4" y="724" width="1.5" height="12.1" fill="#f97485"/>
<rect x="519.6" y="724" width="1.8" height="12.1" fill="#e76c7b"/>
<rect x="521.1" y="724" width="2.8" height="12.1" fill="#e46a7a"/>
<rect x="523.6" y="724" width="1.5" height="12.1" fill="#ed6f7e"/>
<rect x="524.8" y="724" width="2.8" height="12.1" fill="#ff7b8d"/>
<rect x="527.3" y="724" width="1.8" height="12.1" fill="#e86c7b"/>
<rect x="528.8" y="724" width="1.8" height="12.1" fill="#ffcbf4"/>
<rect x="530.3" y="724" width="1.5" height="12.1" fill="#f4c1e8"/>
<rect x="531.5" y="724" width="1.3" height="12.1" fill="#ffc9f2"/>
<rect x="532.5" y="724" width="2.8" height="12.1" fill="#fac5ee"/>
<rect x="535" y="724" width="2.8" height="12.1" fill="#fec9f2"/>
<rect x="537.5" y="724" width="1.5" height="12.1" fill="#f2bfe6"/>
<rect x="538.7" y="724" width="1.5" height="12.1" fill="#f1bfe5"/>
<rect x="539.9" y="724" width="1.3" height="12.1" fill="#edbbe2"/>
<rect x="540.9" y="724" width="2.8" height="12.1" fill="#efbde3"/>
<rect x="543.4" y="724" width="2.8" height="12.1" fill="#f5c1e9"/>
<rect x="545.9" y="724" width="1.8" height="12.1" fill="#fac6ee"/>
<rect x="547.4" y="724" width="1.8" height="12.1" fill="#ecbae0"/>
<rect x="548.9" y="724" width="1.1" height="12.1" fill="#ffcef8"/>
<rect x="549.7" y="724" width="2.3" height="12.1" fill="#fbc6ef"/>
<rect x="551.7" y="724" width="2.3" height="12.1" fill="#c2c2ec"/>
<rect x="553.7" y="724" width="1.8" height="12.1" fill="#c5c5f0"/>
<rect x="555.2" y="724" width="1.1" height="12.1" fill="#d1d1ff"/>
<rect x="556" y="724" width="2.8" height="12.1" fill="#d1d1ff"/>
<rect x="558.5" y="724" width="1.8" height="12.1" fill="#c2c2ec"/>
<rect x="560" y="724" width="2.3" height="12.1" fill="#cbcbf8"/>
<rect x="562" y="724" width="1.3" height="12.1" fill="#cecefb"/>
<rect x="563" y="724" width="2.3" height="12.1" fill="#c6c6f1"/>
<rect x="565" y="724" width="1.5" height="12.1" fill="#cbcbf8"/>
<rect x="566.2" y="724" width="1.3" height="12.1" fill="#d2d2ff"/>
<rect x="567.2" y="724" width="2.3" height="12.1" fill="#d2d2ff"/>
<rect x="569.2" y="724" width="1.1" height="12.1" fill="#c3c3ee"/>
<rect x="570" y="724" width="1.8" height="12.1" fill="#ccccf9"/>
<rect x="571.5" y="724" width="1.1" height="12.1" fill="#ccccf9"/>
<rect x="572.3" y="724" width="1.8" height="12.1" fill="#d1d1ff"/>
<rect x="573.8" y="724" width="2.8" height="12.1" fill="#bfbfe9"/>
<rect x="576.3" y="724" width="1.3" height="12.1" fill="#c7c7f3"/>
<rect x="577.3" y="724" width="1.8" height="12.1" fill="#cecefb"/>
<rect x="578.8" y="724" width="1.8" height="12.1" fill="#c4c4ef"/>
<rect x="580.3" y="724" width="1.5" height="12.1" fill="#c5c5f0"/>
<rect x="581.5" y="724" width="1.8" height="12.1" fill="#cdcdfa"/>
<rect x="583" y="724" width="2.8" height="12.1" fill="#c0c0ea"/>
<rect x="585.5" y="724" width="2.8" height="12.1" fill="#c8c8f4"/>
<rect x="588" y="724" width="1.1" height="12.1" fill="#cecefb"/>
<rect x="588.8" y="724" width="2.3" height="12.1" fill="#c5c5f0"/>
<rect x="590.8" y="724" width="1.3" height="12.1" fill="#c4c4ef"/>
<rect x="591.8" y="724" width="1.5" height="12.1" fill="#6f6fee"/>
<rect x="593" y="724" width="2.3" height="12.1" fill="#7c7cff"/>
<rect x="595" y="724" width="1.1" height="12.1" fill="#7c7cff"/>
<rect x="595.8" y="724" width="1.8" height="12.1" fill="#6464d6"/>
<rect x="597.3" y="724" width="2.8" height="12.1" fill="#6565d9"/>
<rect x="599.8" y="724" width="2.8" height="12.1" fill="#7474f8"/>
<rect x="602.3" y="724" width="2.3" height="12.1" fill="#7c7cff"/>
<rect x="604.3" y="724" width="2.8" height="12.1" fill="#7777fe"/>
<rect x="606.8" y="724" width="2.3" height="12.1" fill="#7878ff"/>
<rect x="608.8" y="724" width="2.8" height="12.1" fill="#7373f6"/>
<rect x="611.3" y="724" width="2.3" height="12.1" fill="#7272f3"/>
<rect x="613.3" y="724" width="1.8" height="12.1" fill="#6363d3"/>
<rect x="614.8" y="724" width="1.3" height="12.1" fill="#7373f6"/>
<rect x="615.8" y="724" width="1.1" height="12.1" fill="#7676fd"/>
<rect x="616.6" y="724" width="2.8" height="12.1" fill="#7070f1"/>
<rect x="619.1" y="724" width="2.3" height="12.1" fill="#7171f1"/>
<rect x="621.1" y="724" width="2.8" height="12.1" fill="#7a7aff"/>
<rect x="623.6" y="724" width="1.3" height="12.1" fill="#6969e0"/>
<rect x="624.6" y="724" width="2.8" height="12.1" fill="#7b7bff"/>
<rect x="627.1" y="724" width="1.5" height="12.1" fill="#2000d1"/>
<rect x="628.3" y="724" width="1.3" height="12.1" fill="#2000d3"/>
<rect x="629.3" y="724" width="2.8" height="12.1" fill="#1f00cb"/>
<rect x="631.8" y="724" width="2.3" height="12.1" fill="#2000d2"/>
<rect x="633.8" y="724" width="1.3" height="12.1" fill="#2100d9"/>
<rect x="634.8" y="724" width="1.3" height="12.1" fill="#1f00c7"/>
<rect x="635.8" y="724" width="1.1" height="12.1" fill="#1e00c0"/>
<rect x="636.6" y="724" width="1.3" height="12.1" fill="#2300e4"/>
<rect x="637.6" y="724" width="1.3" height="12.1" fill="#1d00bf"/>
<rect x="638.6" y="724" width="1.3" height="12.1" fill="#2300e4"/>
<rect x="639.6" y="724" width="1.8" height="12.1" fill="#2100d5"/>
<rect x="641.1" y="724" width="1.1" height="12.1" fill="#1f00c6"/>
<rect x="641.9" y="724" width="1.3" height="12.1" fill="#2100d3"/>
<rect x="642.9" y="724" width="2.8" height="12.1" fill="#1f00cc"/>
<rect x="645.4" y="724" width="1.8" height="12.1" fill="#1f00ca"/>
<rect x="646.9" y="724" width="1.1" height="12.1" fill="#1d00bb"/>
<rect x="647.7" y="724" width="2.3" height="12.1" fill="#1e00c3"/>
<rect x="649.7" y="724" width="2.3" height="12.1" fill="#3f00ac"/>
<rect x="651.7" y="724" width="1.1" height="12.1" fill="#3a00a1"/>
<rect x="652.5" y="724" width="1.5" height="12.1" fill="#4500be"/>
<rect x="653.7" y="724" width="2.3" height="12.1" fill="#3c00a4"/>
<rect x="655.7" y="724" width="1.1" height="12.1" fill="#3b00a1"/>
<rect x="656.5" y="724" width="2.8" height="12.1" fill="#4500be"/>
<rect x="659" y="724" width="2.8" height="12.1" fill="#4100b4"/>
<rect x="661.5" y="724" width="1.3" height="12.1" fill="#4000af"/>
<rect x="662.5" y="724" width="1.3" height="12.1" fill="#3a00a0"/>
<rect x="663.5" y="724" width="1.5" height="12.1" fill="#4000b0"/>
<rect x="664.7" y="724" width="2.8" height="12.1" fill="#3d00a7"/>
<rect x="667.2" y="724" width="2.3" height="12.1" fill="#3d00a8"/>
<rect x="669.2" y="724" width="1.8" height="12.1" fill="#4400bb"/>
<rect x="670.7" y="724" width="2.3" height="12.1" fill="#4300b8"/>
<rect x="672.7" y="724" width="2.3" height="12.1" fill="#4600c1"/>
<rect x="674.7" y="724" width="2.8" height="12.1" fill="#4600bf"/>
<rect x="677.2" y="724" width="1.3" height="12.1" fill="#3a00a0"/>
<rect x="678.2" y="724" width="2.3" height="12.1" fill="#3f00ac"/>
<rect x="680.2" y="724" width="1.8" height="12.1" fill="#4400bb"/>
<rect x="681.7" y="724" width="1.1" height="12.1" fill="#3a009e"/>
<rect x="682.5" y="724" width="1.3" height="12.1" fill="#4600c0"/>
<rect x="683.5" y="724" width="1.3" height="12.1" fill="#3e00ac"/>
<polygon points="401.5,748.8 401.5,736.6 445,736.6 460,737.5 520,742.8 570,748.8 650,760.4 684.5,760.4 684.5,748.8" fill="#b4b4b4"/>
<line x1="401.5" y1="748.8" x2="684.5" y2="748.8" stroke="#a8a8a8" stroke-width="0.8"/>
<text x="679.6" y="745.9" font-size="11.3" fill="#2222ee" stroke="#2222ee" stroke-width="0.22" text-anchor="end" >negatively correlated</text>
<text x="407.5" y="758.8" font-size="11.1" fill="#f41c1c" stroke="#f41c1c" stroke-width="0.22" text-anchor="start" >positively correlated</text>
<text x="679.4" y="770.3" font-size="11.3" fill="#999999" stroke="#999999" stroke-width="0.22" text-anchor="end" >ranking scores</text>
<rect x="401.5" y="585.4" width="283" height="176" fill="none" stroke="#9a9a9a" stroke-width="1"/>
<text x="407.1" y="783.8" font-size="11.3" fill="#1a1a1a" stroke="#1a1a1a" stroke-width="0.22" text-anchor="start" >nominal p-value</text>
<text x="557.9" y="783.8" font-size="11.3" fill="#1a1a1a" stroke="#1a1a1a" stroke-width="0.22" text-anchor="start" >2.25E-01</text>
<text x="407.1" y="796.25" font-size="11.3" fill="#1a1a1a" stroke="#1a1a1a" stroke-width="0.22" text-anchor="start" >false discovery rate q-value</text>
<text x="557.9" y="796.25" font-size="11.3" fill="#1a1a1a" stroke="#1a1a1a" stroke-width="0.22" text-anchor="start" >8.78E-01</text>
<text x="407.1" y="808.7" font-size="11.3" fill="#1a1a1a" stroke="#1a1a1a" stroke-width="0.22" text-anchor="start" >familywise-error rate p-value</text>
<text x="557.9" y="808.7" font-size="11.3" fill="#1a1a1a" stroke="#1a1a1a" stroke-width="0.22" text-anchor="start" >1.00E+00</text>
<text x="407.1" y="821.15" font-size="11.3" fill="#1a1a1a" stroke="#1a1a1a" stroke-width="0.22" text-anchor="start" >enrichment score</text>
<text x="557.9" y="821.15" font-size="11.3" fill="#1a1a1a" stroke="#1a1a1a" stroke-width="0.22" text-anchor="start" >-0.190</text>
<text x="407.1" y="833.6" font-size="11.3" fill="#1a1a1a" stroke="#1a1a1a" stroke-width="0.22" text-anchor="start" >normalized enrichment score</text>
<text x="557.9" y="833.6" font-size="11.3" fill="#1a1a1a" stroke="#1a1a1a" stroke-width="0.22" text-anchor="start" >-1.221</text></svg>
</body></html>
